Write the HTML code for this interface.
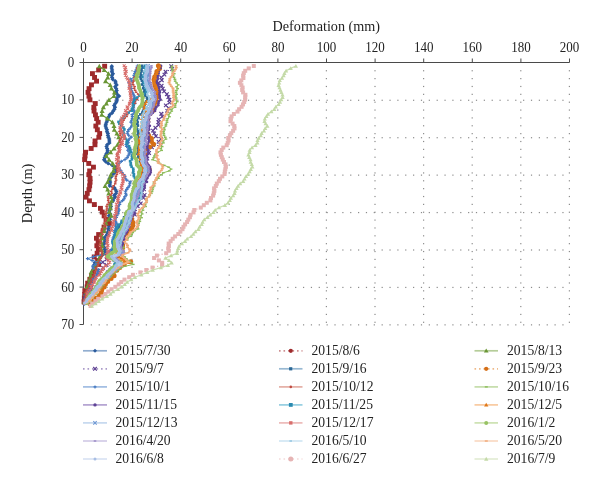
<!DOCTYPE html>
<html><head><meta charset="utf-8"><style>
html,body{margin:0;padding:0;background:#fff;}
svg{display:block;font-family:"Liberation Serif","DejaVu Serif",serif;}
</style></head><body>
<svg width="600" height="484" viewBox="0 0 600 484">
<rect width="600" height="484" fill="#fff"/>
<g fill="#8c8c8c"><rect x="131.40" y="70.16" width="1.2" height="1.2"/><rect x="131.40" y="78.02" width="1.2" height="1.2"/><rect x="131.40" y="85.88" width="1.2" height="1.2"/><rect x="131.40" y="93.74" width="1.2" height="1.2"/><rect x="131.40" y="101.60" width="1.2" height="1.2"/><rect x="131.40" y="109.46" width="1.2" height="1.2"/><rect x="131.40" y="117.32" width="1.2" height="1.2"/><rect x="131.40" y="125.18" width="1.2" height="1.2"/><rect x="131.40" y="133.04" width="1.2" height="1.2"/><rect x="131.40" y="140.90" width="1.2" height="1.2"/><rect x="131.40" y="148.76" width="1.2" height="1.2"/><rect x="131.40" y="156.62" width="1.2" height="1.2"/><rect x="131.40" y="164.48" width="1.2" height="1.2"/><rect x="131.40" y="172.34" width="1.2" height="1.2"/><rect x="131.40" y="180.20" width="1.2" height="1.2"/><rect x="131.40" y="188.06" width="1.2" height="1.2"/><rect x="131.40" y="195.92" width="1.2" height="1.2"/><rect x="131.40" y="203.78" width="1.2" height="1.2"/><rect x="131.40" y="211.64" width="1.2" height="1.2"/><rect x="131.40" y="219.50" width="1.2" height="1.2"/><rect x="131.40" y="227.36" width="1.2" height="1.2"/><rect x="131.40" y="235.22" width="1.2" height="1.2"/><rect x="131.40" y="243.08" width="1.2" height="1.2"/><rect x="131.40" y="250.94" width="1.2" height="1.2"/><rect x="131.40" y="258.80" width="1.2" height="1.2"/><rect x="131.40" y="266.66" width="1.2" height="1.2"/><rect x="131.40" y="274.52" width="1.2" height="1.2"/><rect x="131.40" y="282.38" width="1.2" height="1.2"/><rect x="131.40" y="290.24" width="1.2" height="1.2"/><rect x="131.40" y="298.10" width="1.2" height="1.2"/><rect x="131.40" y="305.96" width="1.2" height="1.2"/><rect x="131.40" y="313.82" width="1.2" height="1.2"/><rect x="131.40" y="321.68" width="1.2" height="1.2"/><rect x="180.00" y="70.16" width="1.2" height="1.2"/><rect x="180.00" y="78.02" width="1.2" height="1.2"/><rect x="180.00" y="85.88" width="1.2" height="1.2"/><rect x="180.00" y="93.74" width="1.2" height="1.2"/><rect x="180.00" y="101.60" width="1.2" height="1.2"/><rect x="180.00" y="109.46" width="1.2" height="1.2"/><rect x="180.00" y="117.32" width="1.2" height="1.2"/><rect x="180.00" y="125.18" width="1.2" height="1.2"/><rect x="180.00" y="133.04" width="1.2" height="1.2"/><rect x="180.00" y="140.90" width="1.2" height="1.2"/><rect x="180.00" y="148.76" width="1.2" height="1.2"/><rect x="180.00" y="156.62" width="1.2" height="1.2"/><rect x="180.00" y="164.48" width="1.2" height="1.2"/><rect x="180.00" y="172.34" width="1.2" height="1.2"/><rect x="180.00" y="180.20" width="1.2" height="1.2"/><rect x="180.00" y="188.06" width="1.2" height="1.2"/><rect x="180.00" y="195.92" width="1.2" height="1.2"/><rect x="180.00" y="203.78" width="1.2" height="1.2"/><rect x="180.00" y="211.64" width="1.2" height="1.2"/><rect x="180.00" y="219.50" width="1.2" height="1.2"/><rect x="180.00" y="227.36" width="1.2" height="1.2"/><rect x="180.00" y="235.22" width="1.2" height="1.2"/><rect x="180.00" y="243.08" width="1.2" height="1.2"/><rect x="180.00" y="250.94" width="1.2" height="1.2"/><rect x="180.00" y="258.80" width="1.2" height="1.2"/><rect x="180.00" y="266.66" width="1.2" height="1.2"/><rect x="180.00" y="274.52" width="1.2" height="1.2"/><rect x="180.00" y="282.38" width="1.2" height="1.2"/><rect x="180.00" y="290.24" width="1.2" height="1.2"/><rect x="180.00" y="298.10" width="1.2" height="1.2"/><rect x="180.00" y="305.96" width="1.2" height="1.2"/><rect x="180.00" y="313.82" width="1.2" height="1.2"/><rect x="180.00" y="321.68" width="1.2" height="1.2"/><rect x="228.60" y="70.16" width="1.2" height="1.2"/><rect x="228.60" y="78.02" width="1.2" height="1.2"/><rect x="228.60" y="85.88" width="1.2" height="1.2"/><rect x="228.60" y="93.74" width="1.2" height="1.2"/><rect x="228.60" y="101.60" width="1.2" height="1.2"/><rect x="228.60" y="109.46" width="1.2" height="1.2"/><rect x="228.60" y="117.32" width="1.2" height="1.2"/><rect x="228.60" y="125.18" width="1.2" height="1.2"/><rect x="228.60" y="133.04" width="1.2" height="1.2"/><rect x="228.60" y="140.90" width="1.2" height="1.2"/><rect x="228.60" y="148.76" width="1.2" height="1.2"/><rect x="228.60" y="156.62" width="1.2" height="1.2"/><rect x="228.60" y="164.48" width="1.2" height="1.2"/><rect x="228.60" y="172.34" width="1.2" height="1.2"/><rect x="228.60" y="180.20" width="1.2" height="1.2"/><rect x="228.60" y="188.06" width="1.2" height="1.2"/><rect x="228.60" y="195.92" width="1.2" height="1.2"/><rect x="228.60" y="203.78" width="1.2" height="1.2"/><rect x="228.60" y="211.64" width="1.2" height="1.2"/><rect x="228.60" y="219.50" width="1.2" height="1.2"/><rect x="228.60" y="227.36" width="1.2" height="1.2"/><rect x="228.60" y="235.22" width="1.2" height="1.2"/><rect x="228.60" y="243.08" width="1.2" height="1.2"/><rect x="228.60" y="250.94" width="1.2" height="1.2"/><rect x="228.60" y="258.80" width="1.2" height="1.2"/><rect x="228.60" y="266.66" width="1.2" height="1.2"/><rect x="228.60" y="274.52" width="1.2" height="1.2"/><rect x="228.60" y="282.38" width="1.2" height="1.2"/><rect x="228.60" y="290.24" width="1.2" height="1.2"/><rect x="228.60" y="298.10" width="1.2" height="1.2"/><rect x="228.60" y="305.96" width="1.2" height="1.2"/><rect x="228.60" y="313.82" width="1.2" height="1.2"/><rect x="228.60" y="321.68" width="1.2" height="1.2"/><rect x="277.20" y="70.16" width="1.2" height="1.2"/><rect x="277.20" y="78.02" width="1.2" height="1.2"/><rect x="277.20" y="85.88" width="1.2" height="1.2"/><rect x="277.20" y="93.74" width="1.2" height="1.2"/><rect x="277.20" y="101.60" width="1.2" height="1.2"/><rect x="277.20" y="109.46" width="1.2" height="1.2"/><rect x="277.20" y="117.32" width="1.2" height="1.2"/><rect x="277.20" y="125.18" width="1.2" height="1.2"/><rect x="277.20" y="133.04" width="1.2" height="1.2"/><rect x="277.20" y="140.90" width="1.2" height="1.2"/><rect x="277.20" y="148.76" width="1.2" height="1.2"/><rect x="277.20" y="156.62" width="1.2" height="1.2"/><rect x="277.20" y="164.48" width="1.2" height="1.2"/><rect x="277.20" y="172.34" width="1.2" height="1.2"/><rect x="277.20" y="180.20" width="1.2" height="1.2"/><rect x="277.20" y="188.06" width="1.2" height="1.2"/><rect x="277.20" y="195.92" width="1.2" height="1.2"/><rect x="277.20" y="203.78" width="1.2" height="1.2"/><rect x="277.20" y="211.64" width="1.2" height="1.2"/><rect x="277.20" y="219.50" width="1.2" height="1.2"/><rect x="277.20" y="227.36" width="1.2" height="1.2"/><rect x="277.20" y="235.22" width="1.2" height="1.2"/><rect x="277.20" y="243.08" width="1.2" height="1.2"/><rect x="277.20" y="250.94" width="1.2" height="1.2"/><rect x="277.20" y="258.80" width="1.2" height="1.2"/><rect x="277.20" y="266.66" width="1.2" height="1.2"/><rect x="277.20" y="274.52" width="1.2" height="1.2"/><rect x="277.20" y="282.38" width="1.2" height="1.2"/><rect x="277.20" y="290.24" width="1.2" height="1.2"/><rect x="277.20" y="298.10" width="1.2" height="1.2"/><rect x="277.20" y="305.96" width="1.2" height="1.2"/><rect x="277.20" y="313.82" width="1.2" height="1.2"/><rect x="277.20" y="321.68" width="1.2" height="1.2"/><rect x="325.80" y="70.16" width="1.2" height="1.2"/><rect x="325.80" y="78.02" width="1.2" height="1.2"/><rect x="325.80" y="85.88" width="1.2" height="1.2"/><rect x="325.80" y="93.74" width="1.2" height="1.2"/><rect x="325.80" y="101.60" width="1.2" height="1.2"/><rect x="325.80" y="109.46" width="1.2" height="1.2"/><rect x="325.80" y="117.32" width="1.2" height="1.2"/><rect x="325.80" y="125.18" width="1.2" height="1.2"/><rect x="325.80" y="133.04" width="1.2" height="1.2"/><rect x="325.80" y="140.90" width="1.2" height="1.2"/><rect x="325.80" y="148.76" width="1.2" height="1.2"/><rect x="325.80" y="156.62" width="1.2" height="1.2"/><rect x="325.80" y="164.48" width="1.2" height="1.2"/><rect x="325.80" y="172.34" width="1.2" height="1.2"/><rect x="325.80" y="180.20" width="1.2" height="1.2"/><rect x="325.80" y="188.06" width="1.2" height="1.2"/><rect x="325.80" y="195.92" width="1.2" height="1.2"/><rect x="325.80" y="203.78" width="1.2" height="1.2"/><rect x="325.80" y="211.64" width="1.2" height="1.2"/><rect x="325.80" y="219.50" width="1.2" height="1.2"/><rect x="325.80" y="227.36" width="1.2" height="1.2"/><rect x="325.80" y="235.22" width="1.2" height="1.2"/><rect x="325.80" y="243.08" width="1.2" height="1.2"/><rect x="325.80" y="250.94" width="1.2" height="1.2"/><rect x="325.80" y="258.80" width="1.2" height="1.2"/><rect x="325.80" y="266.66" width="1.2" height="1.2"/><rect x="325.80" y="274.52" width="1.2" height="1.2"/><rect x="325.80" y="282.38" width="1.2" height="1.2"/><rect x="325.80" y="290.24" width="1.2" height="1.2"/><rect x="325.80" y="298.10" width="1.2" height="1.2"/><rect x="325.80" y="305.96" width="1.2" height="1.2"/><rect x="325.80" y="313.82" width="1.2" height="1.2"/><rect x="325.80" y="321.68" width="1.2" height="1.2"/><rect x="374.40" y="70.16" width="1.2" height="1.2"/><rect x="374.40" y="78.02" width="1.2" height="1.2"/><rect x="374.40" y="85.88" width="1.2" height="1.2"/><rect x="374.40" y="93.74" width="1.2" height="1.2"/><rect x="374.40" y="101.60" width="1.2" height="1.2"/><rect x="374.40" y="109.46" width="1.2" height="1.2"/><rect x="374.40" y="117.32" width="1.2" height="1.2"/><rect x="374.40" y="125.18" width="1.2" height="1.2"/><rect x="374.40" y="133.04" width="1.2" height="1.2"/><rect x="374.40" y="140.90" width="1.2" height="1.2"/><rect x="374.40" y="148.76" width="1.2" height="1.2"/><rect x="374.40" y="156.62" width="1.2" height="1.2"/><rect x="374.40" y="164.48" width="1.2" height="1.2"/><rect x="374.40" y="172.34" width="1.2" height="1.2"/><rect x="374.40" y="180.20" width="1.2" height="1.2"/><rect x="374.40" y="188.06" width="1.2" height="1.2"/><rect x="374.40" y="195.92" width="1.2" height="1.2"/><rect x="374.40" y="203.78" width="1.2" height="1.2"/><rect x="374.40" y="211.64" width="1.2" height="1.2"/><rect x="374.40" y="219.50" width="1.2" height="1.2"/><rect x="374.40" y="227.36" width="1.2" height="1.2"/><rect x="374.40" y="235.22" width="1.2" height="1.2"/><rect x="374.40" y="243.08" width="1.2" height="1.2"/><rect x="374.40" y="250.94" width="1.2" height="1.2"/><rect x="374.40" y="258.80" width="1.2" height="1.2"/><rect x="374.40" y="266.66" width="1.2" height="1.2"/><rect x="374.40" y="274.52" width="1.2" height="1.2"/><rect x="374.40" y="282.38" width="1.2" height="1.2"/><rect x="374.40" y="290.24" width="1.2" height="1.2"/><rect x="374.40" y="298.10" width="1.2" height="1.2"/><rect x="374.40" y="305.96" width="1.2" height="1.2"/><rect x="374.40" y="313.82" width="1.2" height="1.2"/><rect x="374.40" y="321.68" width="1.2" height="1.2"/><rect x="423.00" y="70.16" width="1.2" height="1.2"/><rect x="423.00" y="78.02" width="1.2" height="1.2"/><rect x="423.00" y="85.88" width="1.2" height="1.2"/><rect x="423.00" y="93.74" width="1.2" height="1.2"/><rect x="423.00" y="101.60" width="1.2" height="1.2"/><rect x="423.00" y="109.46" width="1.2" height="1.2"/><rect x="423.00" y="117.32" width="1.2" height="1.2"/><rect x="423.00" y="125.18" width="1.2" height="1.2"/><rect x="423.00" y="133.04" width="1.2" height="1.2"/><rect x="423.00" y="140.90" width="1.2" height="1.2"/><rect x="423.00" y="148.76" width="1.2" height="1.2"/><rect x="423.00" y="156.62" width="1.2" height="1.2"/><rect x="423.00" y="164.48" width="1.2" height="1.2"/><rect x="423.00" y="172.34" width="1.2" height="1.2"/><rect x="423.00" y="180.20" width="1.2" height="1.2"/><rect x="423.00" y="188.06" width="1.2" height="1.2"/><rect x="423.00" y="195.92" width="1.2" height="1.2"/><rect x="423.00" y="203.78" width="1.2" height="1.2"/><rect x="423.00" y="211.64" width="1.2" height="1.2"/><rect x="423.00" y="219.50" width="1.2" height="1.2"/><rect x="423.00" y="227.36" width="1.2" height="1.2"/><rect x="423.00" y="235.22" width="1.2" height="1.2"/><rect x="423.00" y="243.08" width="1.2" height="1.2"/><rect x="423.00" y="250.94" width="1.2" height="1.2"/><rect x="423.00" y="258.80" width="1.2" height="1.2"/><rect x="423.00" y="266.66" width="1.2" height="1.2"/><rect x="423.00" y="274.52" width="1.2" height="1.2"/><rect x="423.00" y="282.38" width="1.2" height="1.2"/><rect x="423.00" y="290.24" width="1.2" height="1.2"/><rect x="423.00" y="298.10" width="1.2" height="1.2"/><rect x="423.00" y="305.96" width="1.2" height="1.2"/><rect x="423.00" y="313.82" width="1.2" height="1.2"/><rect x="423.00" y="321.68" width="1.2" height="1.2"/><rect x="471.60" y="70.16" width="1.2" height="1.2"/><rect x="471.60" y="78.02" width="1.2" height="1.2"/><rect x="471.60" y="85.88" width="1.2" height="1.2"/><rect x="471.60" y="93.74" width="1.2" height="1.2"/><rect x="471.60" y="101.60" width="1.2" height="1.2"/><rect x="471.60" y="109.46" width="1.2" height="1.2"/><rect x="471.60" y="117.32" width="1.2" height="1.2"/><rect x="471.60" y="125.18" width="1.2" height="1.2"/><rect x="471.60" y="133.04" width="1.2" height="1.2"/><rect x="471.60" y="140.90" width="1.2" height="1.2"/><rect x="471.60" y="148.76" width="1.2" height="1.2"/><rect x="471.60" y="156.62" width="1.2" height="1.2"/><rect x="471.60" y="164.48" width="1.2" height="1.2"/><rect x="471.60" y="172.34" width="1.2" height="1.2"/><rect x="471.60" y="180.20" width="1.2" height="1.2"/><rect x="471.60" y="188.06" width="1.2" height="1.2"/><rect x="471.60" y="195.92" width="1.2" height="1.2"/><rect x="471.60" y="203.78" width="1.2" height="1.2"/><rect x="471.60" y="211.64" width="1.2" height="1.2"/><rect x="471.60" y="219.50" width="1.2" height="1.2"/><rect x="471.60" y="227.36" width="1.2" height="1.2"/><rect x="471.60" y="235.22" width="1.2" height="1.2"/><rect x="471.60" y="243.08" width="1.2" height="1.2"/><rect x="471.60" y="250.94" width="1.2" height="1.2"/><rect x="471.60" y="258.80" width="1.2" height="1.2"/><rect x="471.60" y="266.66" width="1.2" height="1.2"/><rect x="471.60" y="274.52" width="1.2" height="1.2"/><rect x="471.60" y="282.38" width="1.2" height="1.2"/><rect x="471.60" y="290.24" width="1.2" height="1.2"/><rect x="471.60" y="298.10" width="1.2" height="1.2"/><rect x="471.60" y="305.96" width="1.2" height="1.2"/><rect x="471.60" y="313.82" width="1.2" height="1.2"/><rect x="471.60" y="321.68" width="1.2" height="1.2"/><rect x="520.20" y="70.16" width="1.2" height="1.2"/><rect x="520.20" y="78.02" width="1.2" height="1.2"/><rect x="520.20" y="85.88" width="1.2" height="1.2"/><rect x="520.20" y="93.74" width="1.2" height="1.2"/><rect x="520.20" y="101.60" width="1.2" height="1.2"/><rect x="520.20" y="109.46" width="1.2" height="1.2"/><rect x="520.20" y="117.32" width="1.2" height="1.2"/><rect x="520.20" y="125.18" width="1.2" height="1.2"/><rect x="520.20" y="133.04" width="1.2" height="1.2"/><rect x="520.20" y="140.90" width="1.2" height="1.2"/><rect x="520.20" y="148.76" width="1.2" height="1.2"/><rect x="520.20" y="156.62" width="1.2" height="1.2"/><rect x="520.20" y="164.48" width="1.2" height="1.2"/><rect x="520.20" y="172.34" width="1.2" height="1.2"/><rect x="520.20" y="180.20" width="1.2" height="1.2"/><rect x="520.20" y="188.06" width="1.2" height="1.2"/><rect x="520.20" y="195.92" width="1.2" height="1.2"/><rect x="520.20" y="203.78" width="1.2" height="1.2"/><rect x="520.20" y="211.64" width="1.2" height="1.2"/><rect x="520.20" y="219.50" width="1.2" height="1.2"/><rect x="520.20" y="227.36" width="1.2" height="1.2"/><rect x="520.20" y="235.22" width="1.2" height="1.2"/><rect x="520.20" y="243.08" width="1.2" height="1.2"/><rect x="520.20" y="250.94" width="1.2" height="1.2"/><rect x="520.20" y="258.80" width="1.2" height="1.2"/><rect x="520.20" y="266.66" width="1.2" height="1.2"/><rect x="520.20" y="274.52" width="1.2" height="1.2"/><rect x="520.20" y="282.38" width="1.2" height="1.2"/><rect x="520.20" y="290.24" width="1.2" height="1.2"/><rect x="520.20" y="298.10" width="1.2" height="1.2"/><rect x="520.20" y="305.96" width="1.2" height="1.2"/><rect x="520.20" y="313.82" width="1.2" height="1.2"/><rect x="520.20" y="321.68" width="1.2" height="1.2"/><rect x="568.80" y="70.16" width="1.2" height="1.2"/><rect x="568.80" y="78.02" width="1.2" height="1.2"/><rect x="568.80" y="85.88" width="1.2" height="1.2"/><rect x="568.80" y="93.74" width="1.2" height="1.2"/><rect x="568.80" y="101.60" width="1.2" height="1.2"/><rect x="568.80" y="109.46" width="1.2" height="1.2"/><rect x="568.80" y="117.32" width="1.2" height="1.2"/><rect x="568.80" y="125.18" width="1.2" height="1.2"/><rect x="568.80" y="133.04" width="1.2" height="1.2"/><rect x="568.80" y="140.90" width="1.2" height="1.2"/><rect x="568.80" y="148.76" width="1.2" height="1.2"/><rect x="568.80" y="156.62" width="1.2" height="1.2"/><rect x="568.80" y="164.48" width="1.2" height="1.2"/><rect x="568.80" y="172.34" width="1.2" height="1.2"/><rect x="568.80" y="180.20" width="1.2" height="1.2"/><rect x="568.80" y="188.06" width="1.2" height="1.2"/><rect x="568.80" y="195.92" width="1.2" height="1.2"/><rect x="568.80" y="203.78" width="1.2" height="1.2"/><rect x="568.80" y="211.64" width="1.2" height="1.2"/><rect x="568.80" y="219.50" width="1.2" height="1.2"/><rect x="568.80" y="227.36" width="1.2" height="1.2"/><rect x="568.80" y="235.22" width="1.2" height="1.2"/><rect x="568.80" y="243.08" width="1.2" height="1.2"/><rect x="568.80" y="250.94" width="1.2" height="1.2"/><rect x="568.80" y="258.80" width="1.2" height="1.2"/><rect x="568.80" y="266.66" width="1.2" height="1.2"/><rect x="568.80" y="274.52" width="1.2" height="1.2"/><rect x="568.80" y="282.38" width="1.2" height="1.2"/><rect x="568.80" y="290.24" width="1.2" height="1.2"/><rect x="568.80" y="298.10" width="1.2" height="1.2"/><rect x="568.80" y="305.96" width="1.2" height="1.2"/><rect x="568.80" y="313.82" width="1.2" height="1.2"/><rect x="568.80" y="321.68" width="1.2" height="1.2"/><rect x="90.76" y="99.68" width="1.2" height="1.2"/><rect x="98.62" y="99.68" width="1.2" height="1.2"/><rect x="106.48" y="99.68" width="1.2" height="1.2"/><rect x="114.34" y="99.68" width="1.2" height="1.2"/><rect x="122.20" y="99.68" width="1.2" height="1.2"/><rect x="130.06" y="99.68" width="1.2" height="1.2"/><rect x="137.92" y="99.68" width="1.2" height="1.2"/><rect x="145.78" y="99.68" width="1.2" height="1.2"/><rect x="153.64" y="99.68" width="1.2" height="1.2"/><rect x="161.50" y="99.68" width="1.2" height="1.2"/><rect x="169.36" y="99.68" width="1.2" height="1.2"/><rect x="177.22" y="99.68" width="1.2" height="1.2"/><rect x="185.08" y="99.68" width="1.2" height="1.2"/><rect x="192.94" y="99.68" width="1.2" height="1.2"/><rect x="200.80" y="99.68" width="1.2" height="1.2"/><rect x="208.66" y="99.68" width="1.2" height="1.2"/><rect x="216.52" y="99.68" width="1.2" height="1.2"/><rect x="224.38" y="99.68" width="1.2" height="1.2"/><rect x="232.24" y="99.68" width="1.2" height="1.2"/><rect x="240.10" y="99.68" width="1.2" height="1.2"/><rect x="247.96" y="99.68" width="1.2" height="1.2"/><rect x="255.82" y="99.68" width="1.2" height="1.2"/><rect x="263.68" y="99.68" width="1.2" height="1.2"/><rect x="271.54" y="99.68" width="1.2" height="1.2"/><rect x="279.40" y="99.68" width="1.2" height="1.2"/><rect x="287.26" y="99.68" width="1.2" height="1.2"/><rect x="295.12" y="99.68" width="1.2" height="1.2"/><rect x="302.98" y="99.68" width="1.2" height="1.2"/><rect x="310.84" y="99.68" width="1.2" height="1.2"/><rect x="318.70" y="99.68" width="1.2" height="1.2"/><rect x="326.56" y="99.68" width="1.2" height="1.2"/><rect x="334.42" y="99.68" width="1.2" height="1.2"/><rect x="342.28" y="99.68" width="1.2" height="1.2"/><rect x="350.14" y="99.68" width="1.2" height="1.2"/><rect x="358.00" y="99.68" width="1.2" height="1.2"/><rect x="365.86" y="99.68" width="1.2" height="1.2"/><rect x="373.72" y="99.68" width="1.2" height="1.2"/><rect x="381.58" y="99.68" width="1.2" height="1.2"/><rect x="389.44" y="99.68" width="1.2" height="1.2"/><rect x="397.30" y="99.68" width="1.2" height="1.2"/><rect x="405.16" y="99.68" width="1.2" height="1.2"/><rect x="413.02" y="99.68" width="1.2" height="1.2"/><rect x="420.88" y="99.68" width="1.2" height="1.2"/><rect x="428.74" y="99.68" width="1.2" height="1.2"/><rect x="436.60" y="99.68" width="1.2" height="1.2"/><rect x="444.46" y="99.68" width="1.2" height="1.2"/><rect x="452.32" y="99.68" width="1.2" height="1.2"/><rect x="460.18" y="99.68" width="1.2" height="1.2"/><rect x="468.04" y="99.68" width="1.2" height="1.2"/><rect x="475.90" y="99.68" width="1.2" height="1.2"/><rect x="483.76" y="99.68" width="1.2" height="1.2"/><rect x="491.62" y="99.68" width="1.2" height="1.2"/><rect x="499.48" y="99.68" width="1.2" height="1.2"/><rect x="507.34" y="99.68" width="1.2" height="1.2"/><rect x="515.20" y="99.68" width="1.2" height="1.2"/><rect x="523.06" y="99.68" width="1.2" height="1.2"/><rect x="530.92" y="99.68" width="1.2" height="1.2"/><rect x="538.78" y="99.68" width="1.2" height="1.2"/><rect x="546.64" y="99.68" width="1.2" height="1.2"/><rect x="554.50" y="99.68" width="1.2" height="1.2"/><rect x="562.36" y="99.68" width="1.2" height="1.2"/><rect x="90.76" y="137.11" width="1.2" height="1.2"/><rect x="98.62" y="137.11" width="1.2" height="1.2"/><rect x="106.48" y="137.11" width="1.2" height="1.2"/><rect x="114.34" y="137.11" width="1.2" height="1.2"/><rect x="122.20" y="137.11" width="1.2" height="1.2"/><rect x="130.06" y="137.11" width="1.2" height="1.2"/><rect x="137.92" y="137.11" width="1.2" height="1.2"/><rect x="145.78" y="137.11" width="1.2" height="1.2"/><rect x="153.64" y="137.11" width="1.2" height="1.2"/><rect x="161.50" y="137.11" width="1.2" height="1.2"/><rect x="169.36" y="137.11" width="1.2" height="1.2"/><rect x="177.22" y="137.11" width="1.2" height="1.2"/><rect x="185.08" y="137.11" width="1.2" height="1.2"/><rect x="192.94" y="137.11" width="1.2" height="1.2"/><rect x="200.80" y="137.11" width="1.2" height="1.2"/><rect x="208.66" y="137.11" width="1.2" height="1.2"/><rect x="216.52" y="137.11" width="1.2" height="1.2"/><rect x="224.38" y="137.11" width="1.2" height="1.2"/><rect x="232.24" y="137.11" width="1.2" height="1.2"/><rect x="240.10" y="137.11" width="1.2" height="1.2"/><rect x="247.96" y="137.11" width="1.2" height="1.2"/><rect x="255.82" y="137.11" width="1.2" height="1.2"/><rect x="263.68" y="137.11" width="1.2" height="1.2"/><rect x="271.54" y="137.11" width="1.2" height="1.2"/><rect x="279.40" y="137.11" width="1.2" height="1.2"/><rect x="287.26" y="137.11" width="1.2" height="1.2"/><rect x="295.12" y="137.11" width="1.2" height="1.2"/><rect x="302.98" y="137.11" width="1.2" height="1.2"/><rect x="310.84" y="137.11" width="1.2" height="1.2"/><rect x="318.70" y="137.11" width="1.2" height="1.2"/><rect x="326.56" y="137.11" width="1.2" height="1.2"/><rect x="334.42" y="137.11" width="1.2" height="1.2"/><rect x="342.28" y="137.11" width="1.2" height="1.2"/><rect x="350.14" y="137.11" width="1.2" height="1.2"/><rect x="358.00" y="137.11" width="1.2" height="1.2"/><rect x="365.86" y="137.11" width="1.2" height="1.2"/><rect x="373.72" y="137.11" width="1.2" height="1.2"/><rect x="381.58" y="137.11" width="1.2" height="1.2"/><rect x="389.44" y="137.11" width="1.2" height="1.2"/><rect x="397.30" y="137.11" width="1.2" height="1.2"/><rect x="405.16" y="137.11" width="1.2" height="1.2"/><rect x="413.02" y="137.11" width="1.2" height="1.2"/><rect x="420.88" y="137.11" width="1.2" height="1.2"/><rect x="428.74" y="137.11" width="1.2" height="1.2"/><rect x="436.60" y="137.11" width="1.2" height="1.2"/><rect x="444.46" y="137.11" width="1.2" height="1.2"/><rect x="452.32" y="137.11" width="1.2" height="1.2"/><rect x="460.18" y="137.11" width="1.2" height="1.2"/><rect x="468.04" y="137.11" width="1.2" height="1.2"/><rect x="475.90" y="137.11" width="1.2" height="1.2"/><rect x="483.76" y="137.11" width="1.2" height="1.2"/><rect x="491.62" y="137.11" width="1.2" height="1.2"/><rect x="499.48" y="137.11" width="1.2" height="1.2"/><rect x="507.34" y="137.11" width="1.2" height="1.2"/><rect x="515.20" y="137.11" width="1.2" height="1.2"/><rect x="523.06" y="137.11" width="1.2" height="1.2"/><rect x="530.92" y="137.11" width="1.2" height="1.2"/><rect x="538.78" y="137.11" width="1.2" height="1.2"/><rect x="546.64" y="137.11" width="1.2" height="1.2"/><rect x="554.50" y="137.11" width="1.2" height="1.2"/><rect x="562.36" y="137.11" width="1.2" height="1.2"/><rect x="90.76" y="174.54" width="1.2" height="1.2"/><rect x="98.62" y="174.54" width="1.2" height="1.2"/><rect x="106.48" y="174.54" width="1.2" height="1.2"/><rect x="114.34" y="174.54" width="1.2" height="1.2"/><rect x="122.20" y="174.54" width="1.2" height="1.2"/><rect x="130.06" y="174.54" width="1.2" height="1.2"/><rect x="137.92" y="174.54" width="1.2" height="1.2"/><rect x="145.78" y="174.54" width="1.2" height="1.2"/><rect x="153.64" y="174.54" width="1.2" height="1.2"/><rect x="161.50" y="174.54" width="1.2" height="1.2"/><rect x="169.36" y="174.54" width="1.2" height="1.2"/><rect x="177.22" y="174.54" width="1.2" height="1.2"/><rect x="185.08" y="174.54" width="1.2" height="1.2"/><rect x="192.94" y="174.54" width="1.2" height="1.2"/><rect x="200.80" y="174.54" width="1.2" height="1.2"/><rect x="208.66" y="174.54" width="1.2" height="1.2"/><rect x="216.52" y="174.54" width="1.2" height="1.2"/><rect x="224.38" y="174.54" width="1.2" height="1.2"/><rect x="232.24" y="174.54" width="1.2" height="1.2"/><rect x="240.10" y="174.54" width="1.2" height="1.2"/><rect x="247.96" y="174.54" width="1.2" height="1.2"/><rect x="255.82" y="174.54" width="1.2" height="1.2"/><rect x="263.68" y="174.54" width="1.2" height="1.2"/><rect x="271.54" y="174.54" width="1.2" height="1.2"/><rect x="279.40" y="174.54" width="1.2" height="1.2"/><rect x="287.26" y="174.54" width="1.2" height="1.2"/><rect x="295.12" y="174.54" width="1.2" height="1.2"/><rect x="302.98" y="174.54" width="1.2" height="1.2"/><rect x="310.84" y="174.54" width="1.2" height="1.2"/><rect x="318.70" y="174.54" width="1.2" height="1.2"/><rect x="326.56" y="174.54" width="1.2" height="1.2"/><rect x="334.42" y="174.54" width="1.2" height="1.2"/><rect x="342.28" y="174.54" width="1.2" height="1.2"/><rect x="350.14" y="174.54" width="1.2" height="1.2"/><rect x="358.00" y="174.54" width="1.2" height="1.2"/><rect x="365.86" y="174.54" width="1.2" height="1.2"/><rect x="373.72" y="174.54" width="1.2" height="1.2"/><rect x="381.58" y="174.54" width="1.2" height="1.2"/><rect x="389.44" y="174.54" width="1.2" height="1.2"/><rect x="397.30" y="174.54" width="1.2" height="1.2"/><rect x="405.16" y="174.54" width="1.2" height="1.2"/><rect x="413.02" y="174.54" width="1.2" height="1.2"/><rect x="420.88" y="174.54" width="1.2" height="1.2"/><rect x="428.74" y="174.54" width="1.2" height="1.2"/><rect x="436.60" y="174.54" width="1.2" height="1.2"/><rect x="444.46" y="174.54" width="1.2" height="1.2"/><rect x="452.32" y="174.54" width="1.2" height="1.2"/><rect x="460.18" y="174.54" width="1.2" height="1.2"/><rect x="468.04" y="174.54" width="1.2" height="1.2"/><rect x="475.90" y="174.54" width="1.2" height="1.2"/><rect x="483.76" y="174.54" width="1.2" height="1.2"/><rect x="491.62" y="174.54" width="1.2" height="1.2"/><rect x="499.48" y="174.54" width="1.2" height="1.2"/><rect x="507.34" y="174.54" width="1.2" height="1.2"/><rect x="515.20" y="174.54" width="1.2" height="1.2"/><rect x="523.06" y="174.54" width="1.2" height="1.2"/><rect x="530.92" y="174.54" width="1.2" height="1.2"/><rect x="538.78" y="174.54" width="1.2" height="1.2"/><rect x="546.64" y="174.54" width="1.2" height="1.2"/><rect x="554.50" y="174.54" width="1.2" height="1.2"/><rect x="562.36" y="174.54" width="1.2" height="1.2"/><rect x="90.76" y="211.97" width="1.2" height="1.2"/><rect x="98.62" y="211.97" width="1.2" height="1.2"/><rect x="106.48" y="211.97" width="1.2" height="1.2"/><rect x="114.34" y="211.97" width="1.2" height="1.2"/><rect x="122.20" y="211.97" width="1.2" height="1.2"/><rect x="130.06" y="211.97" width="1.2" height="1.2"/><rect x="137.92" y="211.97" width="1.2" height="1.2"/><rect x="145.78" y="211.97" width="1.2" height="1.2"/><rect x="153.64" y="211.97" width="1.2" height="1.2"/><rect x="161.50" y="211.97" width="1.2" height="1.2"/><rect x="169.36" y="211.97" width="1.2" height="1.2"/><rect x="177.22" y="211.97" width="1.2" height="1.2"/><rect x="185.08" y="211.97" width="1.2" height="1.2"/><rect x="192.94" y="211.97" width="1.2" height="1.2"/><rect x="200.80" y="211.97" width="1.2" height="1.2"/><rect x="208.66" y="211.97" width="1.2" height="1.2"/><rect x="216.52" y="211.97" width="1.2" height="1.2"/><rect x="224.38" y="211.97" width="1.2" height="1.2"/><rect x="232.24" y="211.97" width="1.2" height="1.2"/><rect x="240.10" y="211.97" width="1.2" height="1.2"/><rect x="247.96" y="211.97" width="1.2" height="1.2"/><rect x="255.82" y="211.97" width="1.2" height="1.2"/><rect x="263.68" y="211.97" width="1.2" height="1.2"/><rect x="271.54" y="211.97" width="1.2" height="1.2"/><rect x="279.40" y="211.97" width="1.2" height="1.2"/><rect x="287.26" y="211.97" width="1.2" height="1.2"/><rect x="295.12" y="211.97" width="1.2" height="1.2"/><rect x="302.98" y="211.97" width="1.2" height="1.2"/><rect x="310.84" y="211.97" width="1.2" height="1.2"/><rect x="318.70" y="211.97" width="1.2" height="1.2"/><rect x="326.56" y="211.97" width="1.2" height="1.2"/><rect x="334.42" y="211.97" width="1.2" height="1.2"/><rect x="342.28" y="211.97" width="1.2" height="1.2"/><rect x="350.14" y="211.97" width="1.2" height="1.2"/><rect x="358.00" y="211.97" width="1.2" height="1.2"/><rect x="365.86" y="211.97" width="1.2" height="1.2"/><rect x="373.72" y="211.97" width="1.2" height="1.2"/><rect x="381.58" y="211.97" width="1.2" height="1.2"/><rect x="389.44" y="211.97" width="1.2" height="1.2"/><rect x="397.30" y="211.97" width="1.2" height="1.2"/><rect x="405.16" y="211.97" width="1.2" height="1.2"/><rect x="413.02" y="211.97" width="1.2" height="1.2"/><rect x="420.88" y="211.97" width="1.2" height="1.2"/><rect x="428.74" y="211.97" width="1.2" height="1.2"/><rect x="436.60" y="211.97" width="1.2" height="1.2"/><rect x="444.46" y="211.97" width="1.2" height="1.2"/><rect x="452.32" y="211.97" width="1.2" height="1.2"/><rect x="460.18" y="211.97" width="1.2" height="1.2"/><rect x="468.04" y="211.97" width="1.2" height="1.2"/><rect x="475.90" y="211.97" width="1.2" height="1.2"/><rect x="483.76" y="211.97" width="1.2" height="1.2"/><rect x="491.62" y="211.97" width="1.2" height="1.2"/><rect x="499.48" y="211.97" width="1.2" height="1.2"/><rect x="507.34" y="211.97" width="1.2" height="1.2"/><rect x="515.20" y="211.97" width="1.2" height="1.2"/><rect x="523.06" y="211.97" width="1.2" height="1.2"/><rect x="530.92" y="211.97" width="1.2" height="1.2"/><rect x="538.78" y="211.97" width="1.2" height="1.2"/><rect x="546.64" y="211.97" width="1.2" height="1.2"/><rect x="554.50" y="211.97" width="1.2" height="1.2"/><rect x="562.36" y="211.97" width="1.2" height="1.2"/><rect x="90.76" y="249.40" width="1.2" height="1.2"/><rect x="98.62" y="249.40" width="1.2" height="1.2"/><rect x="106.48" y="249.40" width="1.2" height="1.2"/><rect x="114.34" y="249.40" width="1.2" height="1.2"/><rect x="122.20" y="249.40" width="1.2" height="1.2"/><rect x="130.06" y="249.40" width="1.2" height="1.2"/><rect x="137.92" y="249.40" width="1.2" height="1.2"/><rect x="145.78" y="249.40" width="1.2" height="1.2"/><rect x="153.64" y="249.40" width="1.2" height="1.2"/><rect x="161.50" y="249.40" width="1.2" height="1.2"/><rect x="169.36" y="249.40" width="1.2" height="1.2"/><rect x="177.22" y="249.40" width="1.2" height="1.2"/><rect x="185.08" y="249.40" width="1.2" height="1.2"/><rect x="192.94" y="249.40" width="1.2" height="1.2"/><rect x="200.80" y="249.40" width="1.2" height="1.2"/><rect x="208.66" y="249.40" width="1.2" height="1.2"/><rect x="216.52" y="249.40" width="1.2" height="1.2"/><rect x="224.38" y="249.40" width="1.2" height="1.2"/><rect x="232.24" y="249.40" width="1.2" height="1.2"/><rect x="240.10" y="249.40" width="1.2" height="1.2"/><rect x="247.96" y="249.40" width="1.2" height="1.2"/><rect x="255.82" y="249.40" width="1.2" height="1.2"/><rect x="263.68" y="249.40" width="1.2" height="1.2"/><rect x="271.54" y="249.40" width="1.2" height="1.2"/><rect x="279.40" y="249.40" width="1.2" height="1.2"/><rect x="287.26" y="249.40" width="1.2" height="1.2"/><rect x="295.12" y="249.40" width="1.2" height="1.2"/><rect x="302.98" y="249.40" width="1.2" height="1.2"/><rect x="310.84" y="249.40" width="1.2" height="1.2"/><rect x="318.70" y="249.40" width="1.2" height="1.2"/><rect x="326.56" y="249.40" width="1.2" height="1.2"/><rect x="334.42" y="249.40" width="1.2" height="1.2"/><rect x="342.28" y="249.40" width="1.2" height="1.2"/><rect x="350.14" y="249.40" width="1.2" height="1.2"/><rect x="358.00" y="249.40" width="1.2" height="1.2"/><rect x="365.86" y="249.40" width="1.2" height="1.2"/><rect x="373.72" y="249.40" width="1.2" height="1.2"/><rect x="381.58" y="249.40" width="1.2" height="1.2"/><rect x="389.44" y="249.40" width="1.2" height="1.2"/><rect x="397.30" y="249.40" width="1.2" height="1.2"/><rect x="405.16" y="249.40" width="1.2" height="1.2"/><rect x="413.02" y="249.40" width="1.2" height="1.2"/><rect x="420.88" y="249.40" width="1.2" height="1.2"/><rect x="428.74" y="249.40" width="1.2" height="1.2"/><rect x="436.60" y="249.40" width="1.2" height="1.2"/><rect x="444.46" y="249.40" width="1.2" height="1.2"/><rect x="452.32" y="249.40" width="1.2" height="1.2"/><rect x="460.18" y="249.40" width="1.2" height="1.2"/><rect x="468.04" y="249.40" width="1.2" height="1.2"/><rect x="475.90" y="249.40" width="1.2" height="1.2"/><rect x="483.76" y="249.40" width="1.2" height="1.2"/><rect x="491.62" y="249.40" width="1.2" height="1.2"/><rect x="499.48" y="249.40" width="1.2" height="1.2"/><rect x="507.34" y="249.40" width="1.2" height="1.2"/><rect x="515.20" y="249.40" width="1.2" height="1.2"/><rect x="523.06" y="249.40" width="1.2" height="1.2"/><rect x="530.92" y="249.40" width="1.2" height="1.2"/><rect x="538.78" y="249.40" width="1.2" height="1.2"/><rect x="546.64" y="249.40" width="1.2" height="1.2"/><rect x="554.50" y="249.40" width="1.2" height="1.2"/><rect x="562.36" y="249.40" width="1.2" height="1.2"/><rect x="90.76" y="286.83" width="1.2" height="1.2"/><rect x="98.62" y="286.83" width="1.2" height="1.2"/><rect x="106.48" y="286.83" width="1.2" height="1.2"/><rect x="114.34" y="286.83" width="1.2" height="1.2"/><rect x="122.20" y="286.83" width="1.2" height="1.2"/><rect x="130.06" y="286.83" width="1.2" height="1.2"/><rect x="137.92" y="286.83" width="1.2" height="1.2"/><rect x="145.78" y="286.83" width="1.2" height="1.2"/><rect x="153.64" y="286.83" width="1.2" height="1.2"/><rect x="161.50" y="286.83" width="1.2" height="1.2"/><rect x="169.36" y="286.83" width="1.2" height="1.2"/><rect x="177.22" y="286.83" width="1.2" height="1.2"/><rect x="185.08" y="286.83" width="1.2" height="1.2"/><rect x="192.94" y="286.83" width="1.2" height="1.2"/><rect x="200.80" y="286.83" width="1.2" height="1.2"/><rect x="208.66" y="286.83" width="1.2" height="1.2"/><rect x="216.52" y="286.83" width="1.2" height="1.2"/><rect x="224.38" y="286.83" width="1.2" height="1.2"/><rect x="232.24" y="286.83" width="1.2" height="1.2"/><rect x="240.10" y="286.83" width="1.2" height="1.2"/><rect x="247.96" y="286.83" width="1.2" height="1.2"/><rect x="255.82" y="286.83" width="1.2" height="1.2"/><rect x="263.68" y="286.83" width="1.2" height="1.2"/><rect x="271.54" y="286.83" width="1.2" height="1.2"/><rect x="279.40" y="286.83" width="1.2" height="1.2"/><rect x="287.26" y="286.83" width="1.2" height="1.2"/><rect x="295.12" y="286.83" width="1.2" height="1.2"/><rect x="302.98" y="286.83" width="1.2" height="1.2"/><rect x="310.84" y="286.83" width="1.2" height="1.2"/><rect x="318.70" y="286.83" width="1.2" height="1.2"/><rect x="326.56" y="286.83" width="1.2" height="1.2"/><rect x="334.42" y="286.83" width="1.2" height="1.2"/><rect x="342.28" y="286.83" width="1.2" height="1.2"/><rect x="350.14" y="286.83" width="1.2" height="1.2"/><rect x="358.00" y="286.83" width="1.2" height="1.2"/><rect x="365.86" y="286.83" width="1.2" height="1.2"/><rect x="373.72" y="286.83" width="1.2" height="1.2"/><rect x="381.58" y="286.83" width="1.2" height="1.2"/><rect x="389.44" y="286.83" width="1.2" height="1.2"/><rect x="397.30" y="286.83" width="1.2" height="1.2"/><rect x="405.16" y="286.83" width="1.2" height="1.2"/><rect x="413.02" y="286.83" width="1.2" height="1.2"/><rect x="420.88" y="286.83" width="1.2" height="1.2"/><rect x="428.74" y="286.83" width="1.2" height="1.2"/><rect x="436.60" y="286.83" width="1.2" height="1.2"/><rect x="444.46" y="286.83" width="1.2" height="1.2"/><rect x="452.32" y="286.83" width="1.2" height="1.2"/><rect x="460.18" y="286.83" width="1.2" height="1.2"/><rect x="468.04" y="286.83" width="1.2" height="1.2"/><rect x="475.90" y="286.83" width="1.2" height="1.2"/><rect x="483.76" y="286.83" width="1.2" height="1.2"/><rect x="491.62" y="286.83" width="1.2" height="1.2"/><rect x="499.48" y="286.83" width="1.2" height="1.2"/><rect x="507.34" y="286.83" width="1.2" height="1.2"/><rect x="515.20" y="286.83" width="1.2" height="1.2"/><rect x="523.06" y="286.83" width="1.2" height="1.2"/><rect x="530.92" y="286.83" width="1.2" height="1.2"/><rect x="538.78" y="286.83" width="1.2" height="1.2"/><rect x="546.64" y="286.83" width="1.2" height="1.2"/><rect x="554.50" y="286.83" width="1.2" height="1.2"/><rect x="562.36" y="286.83" width="1.2" height="1.2"/><rect x="90.76" y="324.26" width="1.2" height="1.2"/><rect x="98.62" y="324.26" width="1.2" height="1.2"/><rect x="106.48" y="324.26" width="1.2" height="1.2"/><rect x="114.34" y="324.26" width="1.2" height="1.2"/><rect x="122.20" y="324.26" width="1.2" height="1.2"/><rect x="130.06" y="324.26" width="1.2" height="1.2"/><rect x="137.92" y="324.26" width="1.2" height="1.2"/><rect x="145.78" y="324.26" width="1.2" height="1.2"/><rect x="153.64" y="324.26" width="1.2" height="1.2"/><rect x="161.50" y="324.26" width="1.2" height="1.2"/><rect x="169.36" y="324.26" width="1.2" height="1.2"/><rect x="177.22" y="324.26" width="1.2" height="1.2"/><rect x="185.08" y="324.26" width="1.2" height="1.2"/><rect x="192.94" y="324.26" width="1.2" height="1.2"/><rect x="200.80" y="324.26" width="1.2" height="1.2"/><rect x="208.66" y="324.26" width="1.2" height="1.2"/><rect x="216.52" y="324.26" width="1.2" height="1.2"/><rect x="224.38" y="324.26" width="1.2" height="1.2"/><rect x="232.24" y="324.26" width="1.2" height="1.2"/><rect x="240.10" y="324.26" width="1.2" height="1.2"/><rect x="247.96" y="324.26" width="1.2" height="1.2"/><rect x="255.82" y="324.26" width="1.2" height="1.2"/><rect x="263.68" y="324.26" width="1.2" height="1.2"/><rect x="271.54" y="324.26" width="1.2" height="1.2"/><rect x="279.40" y="324.26" width="1.2" height="1.2"/><rect x="287.26" y="324.26" width="1.2" height="1.2"/><rect x="295.12" y="324.26" width="1.2" height="1.2"/><rect x="302.98" y="324.26" width="1.2" height="1.2"/><rect x="310.84" y="324.26" width="1.2" height="1.2"/><rect x="318.70" y="324.26" width="1.2" height="1.2"/><rect x="326.56" y="324.26" width="1.2" height="1.2"/><rect x="334.42" y="324.26" width="1.2" height="1.2"/><rect x="342.28" y="324.26" width="1.2" height="1.2"/><rect x="350.14" y="324.26" width="1.2" height="1.2"/><rect x="358.00" y="324.26" width="1.2" height="1.2"/><rect x="365.86" y="324.26" width="1.2" height="1.2"/><rect x="373.72" y="324.26" width="1.2" height="1.2"/><rect x="381.58" y="324.26" width="1.2" height="1.2"/><rect x="389.44" y="324.26" width="1.2" height="1.2"/><rect x="397.30" y="324.26" width="1.2" height="1.2"/><rect x="405.16" y="324.26" width="1.2" height="1.2"/><rect x="413.02" y="324.26" width="1.2" height="1.2"/><rect x="420.88" y="324.26" width="1.2" height="1.2"/><rect x="428.74" y="324.26" width="1.2" height="1.2"/><rect x="436.60" y="324.26" width="1.2" height="1.2"/><rect x="444.46" y="324.26" width="1.2" height="1.2"/><rect x="452.32" y="324.26" width="1.2" height="1.2"/><rect x="460.18" y="324.26" width="1.2" height="1.2"/><rect x="468.04" y="324.26" width="1.2" height="1.2"/><rect x="475.90" y="324.26" width="1.2" height="1.2"/><rect x="483.76" y="324.26" width="1.2" height="1.2"/><rect x="491.62" y="324.26" width="1.2" height="1.2"/><rect x="499.48" y="324.26" width="1.2" height="1.2"/><rect x="507.34" y="324.26" width="1.2" height="1.2"/><rect x="515.20" y="324.26" width="1.2" height="1.2"/><rect x="523.06" y="324.26" width="1.2" height="1.2"/><rect x="530.92" y="324.26" width="1.2" height="1.2"/><rect x="538.78" y="324.26" width="1.2" height="1.2"/><rect x="546.64" y="324.26" width="1.2" height="1.2"/><rect x="554.50" y="324.26" width="1.2" height="1.2"/><rect x="562.36" y="324.26" width="1.2" height="1.2"/></g>
<g stroke="#4a4a4a" stroke-width="1" fill="none"><line x1="83.5" y1="62.5" x2="569.5" y2="62.5"/><line x1="83.5" y1="58.5" x2="83.5" y2="324.5"/><line x1="83.5" y1="58.5" x2="83.5" y2="62.5"/><line x1="132.1" y1="58.5" x2="132.1" y2="62.5"/><line x1="180.7" y1="58.5" x2="180.7" y2="62.5"/><line x1="229.3" y1="58.5" x2="229.3" y2="62.5"/><line x1="277.9" y1="58.5" x2="277.9" y2="62.5"/><line x1="326.5" y1="58.5" x2="326.5" y2="62.5"/><line x1="375.1" y1="58.5" x2="375.1" y2="62.5"/><line x1="423.7" y1="58.5" x2="423.7" y2="62.5"/><line x1="472.3" y1="58.5" x2="472.3" y2="62.5"/><line x1="520.9" y1="58.5" x2="520.9" y2="62.5"/><line x1="569.5" y1="58.5" x2="569.5" y2="62.5"/><line x1="79.5" y1="62.5" x2="83.5" y2="62.5"/><line x1="79.5" y1="99.9" x2="83.5" y2="99.9"/><line x1="79.5" y1="137.4" x2="83.5" y2="137.4"/><line x1="79.5" y1="174.8" x2="83.5" y2="174.8"/><line x1="79.5" y1="212.2" x2="83.5" y2="212.2"/><line x1="79.5" y1="249.7" x2="83.5" y2="249.7"/><line x1="79.5" y1="287.1" x2="83.5" y2="287.1"/><line x1="79.5" y1="324.5" x2="83.5" y2="324.5"/></g>
<g><g><path d="M111.8 66.2 L111.7 68.1 L112.1 69.9 L111.9 71.8 L112.9 73.7 L111.8 75.6 L112.1 77.4 L112.7 79.3 L115.4 81.2 L115.6 83.0 L116.6 84.9 L115.2 86.8 L116.2 88.6 L116.7 90.5 L116.1 92.4 L117.1 94.3 L119.1 96.1 L116.9 98.0 L117.0 99.9 L116.5 101.7 L115.3 103.6 L114.2 105.5 L115.0 107.3 L114.4 109.2 L113.2 111.1 L112.0 113.0 L109.7 114.8 L108.8 116.7 L107.6 118.6 L107.5 120.4 L106.5 122.3 L105.8 124.2 L105.6 126.0 L106.1 127.9 L106.9 129.8 L107.0 131.7 L107.9 133.5 L107.9 135.4 L108.5 137.3 L109.2 139.1 L109.3 141.0 L109.4 142.9 L107.2 144.7 L106.5 146.6 L107.1 148.5 L107.7 150.4 L107.3 152.2 L106.2 154.1 L105.4 156.0 L104.7 157.8 L104.1 159.7 L105.6 161.6 L108.2 163.4 L112.3 165.3 L115.5 167.2 L115.1 169.1 L117.2 170.9 L114.5 172.8 L112.2 174.7 L111.6 176.5 L109.6 178.4 L109.5 180.3 L110.2 182.1 L109.9 184.0 L109.8 185.9 L114.3 187.8 L115.4 189.6 L116.4 191.5 L116.0 193.4 L114.2 195.2 L115.3 197.1 L113.2 199.0 L113.1 200.8 L110.9 202.7 L110.5 204.6 L110.9 206.5 L110.3 208.3 L109.5 210.2 L109.2 212.1 L110.3 213.9 L109.0 215.8 L109.6 217.7 L109.9 219.5 L109.7 221.4 L109.3 223.3 L108.6 225.2 L109.1 227.0 L108.3 228.9 L108.7 230.8 L107.3 232.6 L107.1 234.5 L105.6 236.4 L104.0 238.2 L104.8 240.1 L104.7 242.0 L104.1 243.9 L102.3 245.7 L104.4 247.6 L104.9 249.5 L105.0 251.3 L105.4 253.2 L102.4 255.1 L100.3 256.9 L99.4 258.8 L97.9 260.7 L94.9 262.6 L94.4 264.4 L94.2 266.3 L94.4 268.2 L93.2 270.0 L92.1 271.9 L91.4 273.8 L91.8 275.6 L90.8 277.5 L90.8 279.4 L89.5 281.3 L88.7 283.1 L89.1 285.0 L87.7 286.9 L87.6 288.7 L87.1 290.6 L85.8 292.5 L85.5 294.3 L85.2 296.2 L85.0 298.1 L84.7 300.0 L84.4 301.8 L84.1 303.7" fill="none" stroke="#2f64a6" stroke-width="1.4" stroke-linejoin="round"/><path d="M111.8 64.0L114.0 66.2L111.8 68.4L109.6 66.2Z" fill="#2a5a9c"/><path d="M111.7 65.9L113.9 68.1L111.7 70.3L109.5 68.1Z" fill="#2a5a9c"/><path d="M112.1 67.7L114.3 69.9L112.1 72.1L109.9 69.9Z" fill="#2a5a9c"/><path d="M111.9 69.6L114.1 71.8L111.9 74.0L109.7 71.8Z" fill="#2a5a9c"/><path d="M112.9 71.5L115.1 73.7L112.9 75.9L110.7 73.7Z" fill="#2a5a9c"/><path d="M111.8 73.4L114.0 75.6L111.8 77.8L109.6 75.6Z" fill="#2a5a9c"/><path d="M112.1 75.2L114.3 77.4L112.1 79.6L109.9 77.4Z" fill="#2a5a9c"/><path d="M112.7 77.1L114.9 79.3L112.7 81.5L110.5 79.3Z" fill="#2a5a9c"/><path d="M115.4 79.0L117.6 81.2L115.4 83.4L113.2 81.2Z" fill="#2a5a9c"/><path d="M115.6 80.8L117.8 83.0L115.6 85.2L113.4 83.0Z" fill="#2a5a9c"/><path d="M116.6 82.7L118.8 84.9L116.6 87.1L114.4 84.9Z" fill="#2a5a9c"/><path d="M115.2 84.6L117.4 86.8L115.2 89.0L113.0 86.8Z" fill="#2a5a9c"/><path d="M116.2 86.4L118.4 88.6L116.2 90.8L114.0 88.6Z" fill="#2a5a9c"/><path d="M116.7 88.3L118.9 90.5L116.7 92.7L114.5 90.5Z" fill="#2a5a9c"/><path d="M116.1 90.2L118.3 92.4L116.1 94.6L113.9 92.4Z" fill="#2a5a9c"/><path d="M117.1 92.1L119.3 94.3L117.1 96.5L114.9 94.3Z" fill="#2a5a9c"/><path d="M119.1 93.9L121.3 96.1L119.1 98.3L116.9 96.1Z" fill="#2a5a9c"/><path d="M116.9 95.8L119.1 98.0L116.9 100.2L114.7 98.0Z" fill="#2a5a9c"/><path d="M117.0 97.7L119.2 99.9L117.0 102.1L114.8 99.9Z" fill="#2a5a9c"/><path d="M116.5 99.5L118.7 101.7L116.5 103.9L114.3 101.7Z" fill="#2a5a9c"/><path d="M115.3 101.4L117.5 103.6L115.3 105.8L113.1 103.6Z" fill="#2a5a9c"/><path d="M114.2 103.3L116.4 105.5L114.2 107.7L112.0 105.5Z" fill="#2a5a9c"/><path d="M115.0 105.1L117.2 107.3L115.0 109.5L112.8 107.3Z" fill="#2a5a9c"/><path d="M114.4 107.0L116.6 109.2L114.4 111.4L112.2 109.2Z" fill="#2a5a9c"/><path d="M113.2 108.9L115.4 111.1L113.2 113.3L111.0 111.1Z" fill="#2a5a9c"/><path d="M112.0 110.8L114.2 113.0L112.0 115.2L109.8 113.0Z" fill="#2a5a9c"/><path d="M109.7 112.6L111.9 114.8L109.7 117.0L107.5 114.8Z" fill="#2a5a9c"/><path d="M108.8 114.5L111.0 116.7L108.8 118.9L106.6 116.7Z" fill="#2a5a9c"/><path d="M107.6 116.4L109.8 118.6L107.6 120.8L105.4 118.6Z" fill="#2a5a9c"/><path d="M107.5 118.2L109.7 120.4L107.5 122.6L105.3 120.4Z" fill="#2a5a9c"/><path d="M106.5 120.1L108.7 122.3L106.5 124.5L104.3 122.3Z" fill="#2a5a9c"/><path d="M105.8 122.0L108.0 124.2L105.8 126.4L103.6 124.2Z" fill="#2a5a9c"/><path d="M105.6 123.8L107.8 126.0L105.6 128.2L103.4 126.0Z" fill="#2a5a9c"/><path d="M106.1 125.7L108.3 127.9L106.1 130.1L103.9 127.9Z" fill="#2a5a9c"/><path d="M106.9 127.6L109.1 129.8L106.9 132.0L104.7 129.8Z" fill="#2a5a9c"/><path d="M107.0 129.5L109.2 131.7L107.0 133.9L104.8 131.7Z" fill="#2a5a9c"/><path d="M107.9 131.3L110.1 133.5L107.9 135.7L105.7 133.5Z" fill="#2a5a9c"/><path d="M107.9 133.2L110.1 135.4L107.9 137.6L105.7 135.4Z" fill="#2a5a9c"/><path d="M108.5 135.1L110.7 137.3L108.5 139.5L106.3 137.3Z" fill="#2a5a9c"/><path d="M109.2 136.9L111.4 139.1L109.2 141.3L107.0 139.1Z" fill="#2a5a9c"/><path d="M109.3 138.8L111.5 141.0L109.3 143.2L107.1 141.0Z" fill="#2a5a9c"/><path d="M109.4 140.7L111.6 142.9L109.4 145.1L107.2 142.9Z" fill="#2a5a9c"/><path d="M107.2 142.5L109.4 144.7L107.2 146.9L105.0 144.7Z" fill="#2a5a9c"/><path d="M106.5 144.4L108.7 146.6L106.5 148.8L104.3 146.6Z" fill="#2a5a9c"/><path d="M107.1 146.3L109.3 148.5L107.1 150.7L104.9 148.5Z" fill="#2a5a9c"/><path d="M107.7 148.2L109.9 150.4L107.7 152.6L105.5 150.4Z" fill="#2a5a9c"/><path d="M107.3 150.0L109.5 152.2L107.3 154.4L105.1 152.2Z" fill="#2a5a9c"/><path d="M106.2 151.9L108.4 154.1L106.2 156.3L104.0 154.1Z" fill="#2a5a9c"/><path d="M105.4 153.8L107.6 156.0L105.4 158.2L103.2 156.0Z" fill="#2a5a9c"/><path d="M104.7 155.6L106.9 157.8L104.7 160.0L102.5 157.8Z" fill="#2a5a9c"/><path d="M104.1 157.5L106.3 159.7L104.1 161.9L101.9 159.7Z" fill="#2a5a9c"/><path d="M105.6 159.4L107.8 161.6L105.6 163.8L103.4 161.6Z" fill="#2a5a9c"/><path d="M108.2 161.2L110.4 163.4L108.2 165.6L106.0 163.4Z" fill="#2a5a9c"/><path d="M112.3 163.1L114.5 165.3L112.3 167.5L110.1 165.3Z" fill="#2a5a9c"/><path d="M115.5 165.0L117.7 167.2L115.5 169.4L113.3 167.2Z" fill="#2a5a9c"/><path d="M115.1 166.9L117.3 169.1L115.1 171.3L112.9 169.1Z" fill="#2a5a9c"/><path d="M117.2 168.7L119.4 170.9L117.2 173.1L115.0 170.9Z" fill="#2a5a9c"/><path d="M114.5 170.6L116.7 172.8L114.5 175.0L112.3 172.8Z" fill="#2a5a9c"/><path d="M112.2 172.5L114.4 174.7L112.2 176.9L110.0 174.7Z" fill="#2a5a9c"/><path d="M111.6 174.3L113.8 176.5L111.6 178.7L109.4 176.5Z" fill="#2a5a9c"/><path d="M109.6 176.2L111.8 178.4L109.6 180.6L107.4 178.4Z" fill="#2a5a9c"/><path d="M109.5 178.1L111.7 180.3L109.5 182.5L107.3 180.3Z" fill="#2a5a9c"/><path d="M110.2 179.9L112.4 182.1L110.2 184.3L108.0 182.1Z" fill="#2a5a9c"/><path d="M109.9 181.8L112.1 184.0L109.9 186.2L107.7 184.0Z" fill="#2a5a9c"/><path d="M109.8 183.7L112.0 185.9L109.8 188.1L107.6 185.9Z" fill="#2a5a9c"/><path d="M114.3 185.6L116.5 187.8L114.3 190.0L112.1 187.8Z" fill="#2a5a9c"/><path d="M115.4 187.4L117.6 189.6L115.4 191.8L113.2 189.6Z" fill="#2a5a9c"/><path d="M116.4 189.3L118.6 191.5L116.4 193.7L114.2 191.5Z" fill="#2a5a9c"/><path d="M116.0 191.2L118.2 193.4L116.0 195.6L113.8 193.4Z" fill="#2a5a9c"/><path d="M114.2 193.0L116.4 195.2L114.2 197.4L112.0 195.2Z" fill="#2a5a9c"/><path d="M115.3 194.9L117.5 197.1L115.3 199.3L113.1 197.1Z" fill="#2a5a9c"/><path d="M113.2 196.8L115.4 199.0L113.2 201.2L111.0 199.0Z" fill="#2a5a9c"/><path d="M113.1 198.6L115.3 200.8L113.1 203.0L110.9 200.8Z" fill="#2a5a9c"/><path d="M110.9 200.5L113.1 202.7L110.9 204.9L108.7 202.7Z" fill="#2a5a9c"/><path d="M110.5 202.4L112.7 204.6L110.5 206.8L108.3 204.6Z" fill="#2a5a9c"/><path d="M110.9 204.3L113.1 206.5L110.9 208.7L108.7 206.5Z" fill="#2a5a9c"/><path d="M110.3 206.1L112.5 208.3L110.3 210.5L108.1 208.3Z" fill="#2a5a9c"/><path d="M109.5 208.0L111.7 210.2L109.5 212.4L107.3 210.2Z" fill="#2a5a9c"/><path d="M109.2 209.9L111.4 212.1L109.2 214.3L107.0 212.1Z" fill="#2a5a9c"/><path d="M110.3 211.7L112.5 213.9L110.3 216.1L108.1 213.9Z" fill="#2a5a9c"/><path d="M109.0 213.6L111.2 215.8L109.0 218.0L106.8 215.8Z" fill="#2a5a9c"/><path d="M109.6 215.5L111.8 217.7L109.6 219.9L107.4 217.7Z" fill="#2a5a9c"/><path d="M109.9 217.3L112.1 219.5L109.9 221.7L107.7 219.5Z" fill="#2a5a9c"/><path d="M109.7 219.2L111.9 221.4L109.7 223.6L107.5 221.4Z" fill="#2a5a9c"/><path d="M109.3 221.1L111.5 223.3L109.3 225.5L107.1 223.3Z" fill="#2a5a9c"/><path d="M108.6 223.0L110.8 225.2L108.6 227.4L106.4 225.2Z" fill="#2a5a9c"/><path d="M109.1 224.8L111.3 227.0L109.1 229.2L106.9 227.0Z" fill="#2a5a9c"/><path d="M108.3 226.7L110.5 228.9L108.3 231.1L106.1 228.9Z" fill="#2a5a9c"/><path d="M108.7 228.6L110.9 230.8L108.7 233.0L106.5 230.8Z" fill="#2a5a9c"/><path d="M107.3 230.4L109.5 232.6L107.3 234.8L105.1 232.6Z" fill="#2a5a9c"/><path d="M107.1 232.3L109.3 234.5L107.1 236.7L104.9 234.5Z" fill="#2a5a9c"/><path d="M105.6 234.2L107.8 236.4L105.6 238.6L103.4 236.4Z" fill="#2a5a9c"/><path d="M104.0 236.0L106.2 238.2L104.0 240.4L101.8 238.2Z" fill="#2a5a9c"/><path d="M104.8 237.9L107.0 240.1L104.8 242.3L102.6 240.1Z" fill="#2a5a9c"/><path d="M104.7 239.8L106.9 242.0L104.7 244.2L102.5 242.0Z" fill="#2a5a9c"/><path d="M104.1 241.7L106.3 243.9L104.1 246.1L101.9 243.9Z" fill="#2a5a9c"/><path d="M102.3 243.5L104.5 245.7L102.3 247.9L100.1 245.7Z" fill="#2a5a9c"/><path d="M104.4 245.4L106.6 247.6L104.4 249.8L102.2 247.6Z" fill="#2a5a9c"/><path d="M104.9 247.3L107.1 249.5L104.9 251.7L102.7 249.5Z" fill="#2a5a9c"/><path d="M105.0 249.1L107.2 251.3L105.0 253.5L102.8 251.3Z" fill="#2a5a9c"/><path d="M105.4 251.0L107.6 253.2L105.4 255.4L103.2 253.2Z" fill="#2a5a9c"/><path d="M102.4 252.9L104.6 255.1L102.4 257.3L100.2 255.1Z" fill="#2a5a9c"/><path d="M100.3 254.7L102.5 256.9L100.3 259.1L98.1 256.9Z" fill="#2a5a9c"/><path d="M99.4 256.6L101.6 258.8L99.4 261.0L97.2 258.8Z" fill="#2a5a9c"/><path d="M97.9 258.5L100.1 260.7L97.9 262.9L95.7 260.7Z" fill="#2a5a9c"/><path d="M94.9 260.4L97.1 262.6L94.9 264.8L92.7 262.6Z" fill="#2a5a9c"/><path d="M94.4 262.2L96.6 264.4L94.4 266.6L92.2 264.4Z" fill="#2a5a9c"/><path d="M94.2 264.1L96.4 266.3L94.2 268.5L92.0 266.3Z" fill="#2a5a9c"/><path d="M94.4 266.0L96.6 268.2L94.4 270.4L92.2 268.2Z" fill="#2a5a9c"/><path d="M93.2 267.8L95.4 270.0L93.2 272.2L91.0 270.0Z" fill="#2a5a9c"/><path d="M92.1 269.7L94.3 271.9L92.1 274.1L89.9 271.9Z" fill="#2a5a9c"/><path d="M91.4 271.6L93.6 273.8L91.4 276.0L89.2 273.8Z" fill="#2a5a9c"/><path d="M91.8 273.4L94.0 275.6L91.8 277.8L89.6 275.6Z" fill="#2a5a9c"/><path d="M90.8 275.3L93.0 277.5L90.8 279.7L88.6 277.5Z" fill="#2a5a9c"/><path d="M90.8 277.2L93.0 279.4L90.8 281.6L88.6 279.4Z" fill="#2a5a9c"/><path d="M89.5 279.1L91.7 281.3L89.5 283.5L87.3 281.3Z" fill="#2a5a9c"/><path d="M88.7 280.9L90.9 283.1L88.7 285.3L86.5 283.1Z" fill="#2a5a9c"/><path d="M89.1 282.8L91.3 285.0L89.1 287.2L86.9 285.0Z" fill="#2a5a9c"/><path d="M87.7 284.7L89.9 286.9L87.7 289.1L85.5 286.9Z" fill="#2a5a9c"/><path d="M87.6 286.5L89.8 288.7L87.6 290.9L85.4 288.7Z" fill="#2a5a9c"/><path d="M87.1 288.4L89.3 290.6L87.1 292.8L84.9 290.6Z" fill="#2a5a9c"/><path d="M85.8 290.3L88.0 292.5L85.8 294.7L83.6 292.5Z" fill="#2a5a9c"/><path d="M85.5 292.1L87.7 294.3L85.5 296.5L83.3 294.3Z" fill="#2a5a9c"/><path d="M85.2 294.0L87.4 296.2L85.2 298.4L83.0 296.2Z" fill="#2a5a9c"/><path d="M85.0 295.9L87.2 298.1L85.0 300.3L82.8 298.1Z" fill="#2a5a9c"/><path d="M84.7 297.8L86.9 300.0L84.7 302.2L82.5 300.0Z" fill="#2a5a9c"/><path d="M84.4 299.6L86.6 301.8L84.4 304.0L82.2 301.8Z" fill="#2a5a9c"/><path d="M84.1 301.5L86.3 303.7L84.1 305.9L81.9 303.7Z" fill="#2a5a9c"/></g><g><path d="M104.6 66.2 L98.6 69.9 L92.5 73.7 L94.5 77.4 L96.5 81.2 L91.5 84.9 L89.1 88.6 L88.1 92.4 L88.9 96.1 L90.0 99.9 L95.2 103.6 L93.9 107.3 L94.1 111.1 L95.5 114.8 L96.6 118.6 L98.2 122.3 L95.9 126.0 L97.4 129.8 L99.7 133.5 L98.9 137.3 L95.0 141.0 L94.9 144.7 L91.1 148.5 L85.6 152.2 L85.1 156.0 L84.7 159.7 L88.8 163.4 L93.4 167.2 L89.6 170.9 L88.8 174.7 L90.0 178.4 L90.0 182.1 L89.6 185.9 L88.9 189.6 L87.3 193.4 L86.0 197.1 L89.4 200.8 L94.3 204.6 L100.5 208.3 L102.2 212.1 L104.2 215.8 L106.0 219.5 L109.4 223.3 L104.1 227.0 L103.2 230.8 L98.6 234.5 L96.4 238.2 L98.1 242.0 L96.8 245.7 L98.3 249.5 L97.1 253.2 L94.3 256.9 L97.6 260.7 L98.5 264.4 L94.9 268.2 L93.4 271.9 L91.6 275.6 L89.8 279.4 L87.7 283.1 L87.1 286.9 L84.9 290.6 L84.6 294.3 L84.4 298.1 L84.1 301.8" fill="none" stroke="#a1292d" stroke-width="1.2" stroke-linejoin="round" stroke-dasharray="1.2 2"/><rect x="102.2" y="63.8" width="4.9" height="4.9" fill="#9e2a2c"/><rect x="96.2" y="67.5" width="4.9" height="4.9" fill="#9e2a2c"/><rect x="90.0" y="71.2" width="4.9" height="4.9" fill="#9e2a2c"/><rect x="92.1" y="75.0" width="4.9" height="4.9" fill="#9e2a2c"/><rect x="94.1" y="78.7" width="4.9" height="4.9" fill="#9e2a2c"/><rect x="89.0" y="82.4" width="4.9" height="4.9" fill="#9e2a2c"/><rect x="86.6" y="86.2" width="4.9" height="4.9" fill="#9e2a2c"/><rect x="85.6" y="89.9" width="4.9" height="4.9" fill="#9e2a2c"/><rect x="86.5" y="93.7" width="4.9" height="4.9" fill="#9e2a2c"/><rect x="87.5" y="97.4" width="4.9" height="4.9" fill="#9e2a2c"/><rect x="92.8" y="101.1" width="4.9" height="4.9" fill="#9e2a2c"/><rect x="91.4" y="104.9" width="4.9" height="4.9" fill="#9e2a2c"/><rect x="91.6" y="108.6" width="4.9" height="4.9" fill="#9e2a2c"/><rect x="93.0" y="112.4" width="4.9" height="4.9" fill="#9e2a2c"/><rect x="94.2" y="116.1" width="4.9" height="4.9" fill="#9e2a2c"/><rect x="95.7" y="119.8" width="4.9" height="4.9" fill="#9e2a2c"/><rect x="93.4" y="123.6" width="4.9" height="4.9" fill="#9e2a2c"/><rect x="94.9" y="127.3" width="4.9" height="4.9" fill="#9e2a2c"/><rect x="97.2" y="131.1" width="4.9" height="4.9" fill="#9e2a2c"/><rect x="96.4" y="134.8" width="4.9" height="4.9" fill="#9e2a2c"/><rect x="92.6" y="138.5" width="4.9" height="4.9" fill="#9e2a2c"/><rect x="92.5" y="142.3" width="4.9" height="4.9" fill="#9e2a2c"/><rect x="88.7" y="146.0" width="4.9" height="4.9" fill="#9e2a2c"/><rect x="83.1" y="149.8" width="4.9" height="4.9" fill="#9e2a2c"/><rect x="82.6" y="153.5" width="4.9" height="4.9" fill="#9e2a2c"/><rect x="82.2" y="157.2" width="4.9" height="4.9" fill="#9e2a2c"/><rect x="86.3" y="161.0" width="4.9" height="4.9" fill="#9e2a2c"/><rect x="91.0" y="164.7" width="4.9" height="4.9" fill="#9e2a2c"/><rect x="87.2" y="168.5" width="4.9" height="4.9" fill="#9e2a2c"/><rect x="86.4" y="172.2" width="4.9" height="4.9" fill="#9e2a2c"/><rect x="87.6" y="176.0" width="4.9" height="4.9" fill="#9e2a2c"/><rect x="87.6" y="179.7" width="4.9" height="4.9" fill="#9e2a2c"/><rect x="87.2" y="183.4" width="4.9" height="4.9" fill="#9e2a2c"/><rect x="86.5" y="187.2" width="4.9" height="4.9" fill="#9e2a2c"/><rect x="84.8" y="190.9" width="4.9" height="4.9" fill="#9e2a2c"/><rect x="83.6" y="194.7" width="4.9" height="4.9" fill="#9e2a2c"/><rect x="87.0" y="198.4" width="4.9" height="4.9" fill="#9e2a2c"/><rect x="91.9" y="202.1" width="4.9" height="4.9" fill="#9e2a2c"/><rect x="98.0" y="205.9" width="4.9" height="4.9" fill="#9e2a2c"/><rect x="99.8" y="209.6" width="4.9" height="4.9" fill="#9e2a2c"/><rect x="101.7" y="213.4" width="4.9" height="4.9" fill="#9e2a2c"/><rect x="103.6" y="217.1" width="4.9" height="4.9" fill="#9e2a2c"/><rect x="106.9" y="220.8" width="4.9" height="4.9" fill="#9e2a2c"/><rect x="101.6" y="224.6" width="4.9" height="4.9" fill="#9e2a2c"/><rect x="100.7" y="228.3" width="4.9" height="4.9" fill="#9e2a2c"/><rect x="96.2" y="232.1" width="4.9" height="4.9" fill="#9e2a2c"/><rect x="94.0" y="235.8" width="4.9" height="4.9" fill="#9e2a2c"/><rect x="95.7" y="239.5" width="4.9" height="4.9" fill="#9e2a2c"/><rect x="94.4" y="243.3" width="4.9" height="4.9" fill="#9e2a2c"/><rect x="95.9" y="247.0" width="4.9" height="4.9" fill="#9e2a2c"/><rect x="94.7" y="250.8" width="4.9" height="4.9" fill="#9e2a2c"/><rect x="91.8" y="254.5" width="4.9" height="4.9" fill="#9e2a2c"/><rect x="95.2" y="258.2" width="4.9" height="4.9" fill="#9e2a2c"/><rect x="96.1" y="262.0" width="4.9" height="4.9" fill="#9e2a2c"/><rect x="92.4" y="265.7" width="4.9" height="4.9" fill="#9e2a2c"/><rect x="91.0" y="269.5" width="4.9" height="4.9" fill="#9e2a2c"/><rect x="89.2" y="273.2" width="4.9" height="4.9" fill="#9e2a2c"/><rect x="87.4" y="276.9" width="4.9" height="4.9" fill="#9e2a2c"/><rect x="85.2" y="280.7" width="4.9" height="4.9" fill="#9e2a2c"/><rect x="84.7" y="284.4" width="4.9" height="4.9" fill="#9e2a2c"/><rect x="82.4" y="288.2" width="4.9" height="4.9" fill="#9e2a2c"/><rect x="82.2" y="291.9" width="4.9" height="4.9" fill="#9e2a2c"/><rect x="81.9" y="295.6" width="4.9" height="4.9" fill="#9e2a2c"/><rect x="81.6" y="299.4" width="4.9" height="4.9" fill="#9e2a2c"/></g><g><path d="M99.3 66.2 L104.2 69.9 L108.5 73.7 L107.7 77.4 L105.5 81.2 L110.2 84.9 L111.5 88.6 L114.4 92.4 L114.0 96.1 L108.9 99.9 L106.4 103.6 L103.4 107.3 L102.1 111.1 L101.7 114.8 L107.3 118.6 L112.5 122.3 L114.0 126.0 L114.3 129.8 L116.9 133.5 L118.7 137.3 L120.0 141.0 L117.5 144.7 L114.1 148.5 L110.6 152.2 L106.3 156.0 L109.1 159.7 L112.7 163.4 L114.5 167.2 L113.3 170.9 L110.8 174.7 L109.5 178.4 L107.6 182.1 L105.1 185.9 L107.7 189.6 L108.7 193.4 L111.2 197.1 L111.7 200.8 L110.3 204.6 L110.5 208.3 L109.3 212.1 L111.3 215.8 L108.5 219.5 L106.1 223.3 L104.0 227.0 L103.9 230.8 L101.2 234.5 L102.2 238.2 L101.2 242.0 L102.3 245.7 L101.6 249.5 L102.7 253.2 L99.8 256.9 L98.3 260.7 L95.9 264.4 L94.0 268.2 L91.2 271.9 L90.7 275.6 L89.4 279.4 L88.9 283.1 L87.0 286.9 L87.7 290.6 L85.3 294.3 L85.0 298.1 L84.4 301.8" fill="none" stroke="#72a03c" stroke-width="1.2" stroke-linejoin="round"/><path d="M99.3 63.7L101.8 68.2L96.8 68.2Z" fill="#6a9636"/><path d="M104.2 67.4L106.7 71.9L101.7 71.9Z" fill="#6a9636"/><path d="M108.5 71.2L111.0 75.7L106.0 75.7Z" fill="#6a9636"/><path d="M107.7 74.9L110.2 79.4L105.2 79.4Z" fill="#6a9636"/><path d="M105.5 78.7L108.0 83.2L103.0 83.2Z" fill="#6a9636"/><path d="M110.2 82.4L112.7 86.9L107.7 86.9Z" fill="#6a9636"/><path d="M111.5 86.1L114.0 90.6L109.0 90.6Z" fill="#6a9636"/><path d="M114.4 89.9L116.9 94.4L111.9 94.4Z" fill="#6a9636"/><path d="M114.0 93.6L116.5 98.1L111.5 98.1Z" fill="#6a9636"/><path d="M108.9 97.4L111.4 101.9L106.4 101.9Z" fill="#6a9636"/><path d="M106.4 101.1L108.9 105.6L103.9 105.6Z" fill="#6a9636"/><path d="M103.4 104.8L105.9 109.3L100.9 109.3Z" fill="#6a9636"/><path d="M102.1 108.6L104.6 113.1L99.6 113.1Z" fill="#6a9636"/><path d="M101.7 112.3L104.2 116.8L99.2 116.8Z" fill="#6a9636"/><path d="M107.3 116.1L109.8 120.6L104.8 120.6Z" fill="#6a9636"/><path d="M112.5 119.8L115.0 124.3L110.0 124.3Z" fill="#6a9636"/><path d="M114.0 123.5L116.5 128.0L111.5 128.0Z" fill="#6a9636"/><path d="M114.3 127.3L116.8 131.8L111.8 131.8Z" fill="#6a9636"/><path d="M116.9 131.0L119.4 135.5L114.4 135.5Z" fill="#6a9636"/><path d="M118.7 134.8L121.2 139.3L116.2 139.3Z" fill="#6a9636"/><path d="M120.0 138.5L122.5 143.0L117.5 143.0Z" fill="#6a9636"/><path d="M117.5 142.2L120.0 146.7L115.0 146.7Z" fill="#6a9636"/><path d="M114.1 146.0L116.6 150.5L111.6 150.5Z" fill="#6a9636"/><path d="M110.6 149.7L113.1 154.2L108.1 154.2Z" fill="#6a9636"/><path d="M106.3 153.5L108.8 158.0L103.8 158.0Z" fill="#6a9636"/><path d="M109.1 157.2L111.6 161.7L106.6 161.7Z" fill="#6a9636"/><path d="M112.7 160.9L115.2 165.4L110.2 165.4Z" fill="#6a9636"/><path d="M114.5 164.7L117.0 169.2L112.0 169.2Z" fill="#6a9636"/><path d="M113.3 168.4L115.8 172.9L110.8 172.9Z" fill="#6a9636"/><path d="M110.8 172.2L113.3 176.7L108.3 176.7Z" fill="#6a9636"/><path d="M109.5 175.9L112.0 180.4L107.0 180.4Z" fill="#6a9636"/><path d="M107.6 179.6L110.1 184.1L105.1 184.1Z" fill="#6a9636"/><path d="M105.1 183.4L107.6 187.9L102.6 187.9Z" fill="#6a9636"/><path d="M107.7 187.1L110.2 191.6L105.2 191.6Z" fill="#6a9636"/><path d="M108.7 190.9L111.2 195.4L106.2 195.4Z" fill="#6a9636"/><path d="M111.2 194.6L113.7 199.1L108.7 199.1Z" fill="#6a9636"/><path d="M111.7 198.3L114.2 202.8L109.2 202.8Z" fill="#6a9636"/><path d="M110.3 202.1L112.8 206.6L107.8 206.6Z" fill="#6a9636"/><path d="M110.5 205.8L113.0 210.3L108.0 210.3Z" fill="#6a9636"/><path d="M109.3 209.6L111.8 214.1L106.8 214.1Z" fill="#6a9636"/><path d="M111.3 213.3L113.8 217.8L108.8 217.8Z" fill="#6a9636"/><path d="M108.5 217.0L111.0 221.5L106.0 221.5Z" fill="#6a9636"/><path d="M106.1 220.8L108.6 225.3L103.6 225.3Z" fill="#6a9636"/><path d="M104.0 224.5L106.5 229.0L101.5 229.0Z" fill="#6a9636"/><path d="M103.9 228.3L106.4 232.8L101.4 232.8Z" fill="#6a9636"/><path d="M101.2 232.0L103.7 236.5L98.7 236.5Z" fill="#6a9636"/><path d="M102.2 235.7L104.7 240.2L99.7 240.2Z" fill="#6a9636"/><path d="M101.2 239.5L103.7 244.0L98.7 244.0Z" fill="#6a9636"/><path d="M102.3 243.2L104.8 247.7L99.8 247.7Z" fill="#6a9636"/><path d="M101.6 247.0L104.1 251.5L99.1 251.5Z" fill="#6a9636"/><path d="M102.7 250.7L105.2 255.2L100.2 255.2Z" fill="#6a9636"/><path d="M99.8 254.4L102.3 258.9L97.3 258.9Z" fill="#6a9636"/><path d="M98.3 258.2L100.8 262.7L95.8 262.7Z" fill="#6a9636"/><path d="M95.9 261.9L98.4 266.4L93.4 266.4Z" fill="#6a9636"/><path d="M94.0 265.7L96.5 270.2L91.5 270.2Z" fill="#6a9636"/><path d="M91.2 269.4L93.7 273.9L88.7 273.9Z" fill="#6a9636"/><path d="M90.7 273.1L93.2 277.6L88.2 277.6Z" fill="#6a9636"/><path d="M89.4 276.9L91.9 281.4L86.9 281.4Z" fill="#6a9636"/><path d="M88.9 280.6L91.4 285.1L86.4 285.1Z" fill="#6a9636"/><path d="M87.0 284.4L89.5 288.9L84.5 288.9Z" fill="#6a9636"/><path d="M87.7 288.1L90.2 292.6L85.2 292.6Z" fill="#6a9636"/><path d="M85.3 291.8L87.8 296.3L82.8 296.3Z" fill="#6a9636"/><path d="M85.0 295.6L87.5 300.1L82.5 300.1Z" fill="#6a9636"/><path d="M84.4 299.3L86.9 303.8L81.9 303.8Z" fill="#6a9636"/></g><g><path d="M171.2 66.2 L172.2 69.0 L165.6 71.8 L164.4 74.6 L161.3 77.4 L161.8 80.2 L158.4 83.0 L161.6 85.8 L162.8 88.6 L164.1 91.4 L166.9 94.2 L168.3 97.0 L169.4 99.8 L169.5 102.6 L165.8 105.4 L168.8 108.2 L167.3 111.0 L161.2 113.8 L162.2 116.6 L158.7 119.4 L158.4 122.2 L158.5 125.0 L155.4 127.8 L153.0 130.6 L154.2 133.4 L155.9 136.2 L161.0 139.0 L158.6 141.8 L160.3 144.6 L151.9 147.4 L147.2 150.2 L149.1 153.0 L146.7 155.8 L147.3 158.6 L143.5 161.4 L143.4 164.2 L147.1 167.0 L148.4 169.8 L148.0 172.6 L147.0 175.4 L142.8 178.2 L145.5 181.0 L143.3 183.8 L143.3 186.6 L144.0 189.4 L140.4 192.2 L144.6 195.0 L143.4 197.8 L138.3 200.6 L140.8 203.4 L137.7 206.2 L134.9 209.0 L134.3 211.8 L134.8 214.6 L132.3 217.4 L132.0 220.2 L129.7 223.0 L125.8 225.8 L126.9 228.6 L122.0 231.4 L124.6 234.2 L122.9 237.0 L120.5 239.8 L118.9 242.6 L116.6 245.4 L114.7 248.2 L111.9 251.0 L111.1 253.8 L109.3 256.6 L106.6 259.4 L102.8 262.2 L106.5 265.0 L103.1 267.8 L98.1 270.6 L98.9 273.4 L95.2 276.2 L93.6 279.0 L91.9 281.8 L90.4 284.6 L91.4 287.4 L90.7 290.2 L88.5 293.0 L85.1 295.8 L84.6 298.6 L86.0 301.4" fill="none" stroke="#5f3f98" stroke-width="1.0" stroke-linejoin="round" stroke-dasharray="1.2 2"/><path d="M169.4 64.4L173.0 68.0M173.0 64.4L169.4 68.0" stroke="#5a3c90" stroke-width="1.1" fill="none"/><path d="M170.4 67.2L174.0 70.8M174.0 67.2L170.4 70.8" stroke="#5a3c90" stroke-width="1.1" fill="none"/><path d="M163.8 70.0L167.4 73.6M167.4 70.0L163.8 73.6" stroke="#5a3c90" stroke-width="1.1" fill="none"/><path d="M162.6 72.8L166.2 76.4M166.2 72.8L162.6 76.4" stroke="#5a3c90" stroke-width="1.1" fill="none"/><path d="M159.5 75.6L163.1 79.2M163.1 75.6L159.5 79.2" stroke="#5a3c90" stroke-width="1.1" fill="none"/><path d="M160.0 78.4L163.6 82.0M163.6 78.4L160.0 82.0" stroke="#5a3c90" stroke-width="1.1" fill="none"/><path d="M156.6 81.2L160.2 84.8M160.2 81.2L156.6 84.8" stroke="#5a3c90" stroke-width="1.1" fill="none"/><path d="M159.8 84.0L163.4 87.6M163.4 84.0L159.8 87.6" stroke="#5a3c90" stroke-width="1.1" fill="none"/><path d="M161.0 86.8L164.6 90.4M164.6 86.8L161.0 90.4" stroke="#5a3c90" stroke-width="1.1" fill="none"/><path d="M162.3 89.6L165.9 93.2M165.9 89.6L162.3 93.2" stroke="#5a3c90" stroke-width="1.1" fill="none"/><path d="M165.1 92.4L168.7 96.0M168.7 92.4L165.1 96.0" stroke="#5a3c90" stroke-width="1.1" fill="none"/><path d="M166.5 95.2L170.1 98.8M170.1 95.2L166.5 98.8" stroke="#5a3c90" stroke-width="1.1" fill="none"/><path d="M167.6 98.0L171.2 101.6M171.2 98.0L167.6 101.6" stroke="#5a3c90" stroke-width="1.1" fill="none"/><path d="M167.7 100.8L171.3 104.4M171.3 100.8L167.7 104.4" stroke="#5a3c90" stroke-width="1.1" fill="none"/><path d="M164.0 103.6L167.6 107.2M167.6 103.6L164.0 107.2" stroke="#5a3c90" stroke-width="1.1" fill="none"/><path d="M167.0 106.4L170.6 110.0M170.6 106.4L167.0 110.0" stroke="#5a3c90" stroke-width="1.1" fill="none"/><path d="M165.5 109.2L169.1 112.8M169.1 109.2L165.5 112.8" stroke="#5a3c90" stroke-width="1.1" fill="none"/><path d="M159.4 112.0L163.0 115.6M163.0 112.0L159.4 115.6" stroke="#5a3c90" stroke-width="1.1" fill="none"/><path d="M160.4 114.8L164.0 118.4M164.0 114.8L160.4 118.4" stroke="#5a3c90" stroke-width="1.1" fill="none"/><path d="M156.9 117.6L160.5 121.2M160.5 117.6L156.9 121.2" stroke="#5a3c90" stroke-width="1.1" fill="none"/><path d="M156.6 120.4L160.2 124.0M160.2 120.4L156.6 124.0" stroke="#5a3c90" stroke-width="1.1" fill="none"/><path d="M156.7 123.2L160.3 126.8M160.3 123.2L156.7 126.8" stroke="#5a3c90" stroke-width="1.1" fill="none"/><path d="M153.6 126.0L157.2 129.6M157.2 126.0L153.6 129.6" stroke="#5a3c90" stroke-width="1.1" fill="none"/><path d="M151.2 128.8L154.8 132.4M154.8 128.8L151.2 132.4" stroke="#5a3c90" stroke-width="1.1" fill="none"/><path d="M152.4 131.6L156.0 135.2M156.0 131.6L152.4 135.2" stroke="#5a3c90" stroke-width="1.1" fill="none"/><path d="M154.1 134.4L157.7 138.0M157.7 134.4L154.1 138.0" stroke="#5a3c90" stroke-width="1.1" fill="none"/><path d="M159.2 137.2L162.8 140.8M162.8 137.2L159.2 140.8" stroke="#5a3c90" stroke-width="1.1" fill="none"/><path d="M156.8 140.0L160.4 143.6M160.4 140.0L156.8 143.6" stroke="#5a3c90" stroke-width="1.1" fill="none"/><path d="M158.5 142.8L162.1 146.4M162.1 142.8L158.5 146.4" stroke="#5a3c90" stroke-width="1.1" fill="none"/><path d="M150.1 145.6L153.7 149.2M153.7 145.6L150.1 149.2" stroke="#5a3c90" stroke-width="1.1" fill="none"/><path d="M145.4 148.4L149.0 152.0M149.0 148.4L145.4 152.0" stroke="#5a3c90" stroke-width="1.1" fill="none"/><path d="M147.3 151.2L150.9 154.8M150.9 151.2L147.3 154.8" stroke="#5a3c90" stroke-width="1.1" fill="none"/><path d="M144.9 154.0L148.5 157.6M148.5 154.0L144.9 157.6" stroke="#5a3c90" stroke-width="1.1" fill="none"/><path d="M145.5 156.8L149.1 160.4M149.1 156.8L145.5 160.4" stroke="#5a3c90" stroke-width="1.1" fill="none"/><path d="M141.7 159.6L145.3 163.2M145.3 159.6L141.7 163.2" stroke="#5a3c90" stroke-width="1.1" fill="none"/><path d="M141.6 162.4L145.2 166.0M145.2 162.4L141.6 166.0" stroke="#5a3c90" stroke-width="1.1" fill="none"/><path d="M145.3 165.2L148.9 168.8M148.9 165.2L145.3 168.8" stroke="#5a3c90" stroke-width="1.1" fill="none"/><path d="M146.6 168.0L150.2 171.6M150.2 168.0L146.6 171.6" stroke="#5a3c90" stroke-width="1.1" fill="none"/><path d="M146.2 170.8L149.8 174.4M149.8 170.8L146.2 174.4" stroke="#5a3c90" stroke-width="1.1" fill="none"/><path d="M145.2 173.6L148.8 177.2M148.8 173.6L145.2 177.2" stroke="#5a3c90" stroke-width="1.1" fill="none"/><path d="M141.0 176.4L144.6 180.0M144.6 176.4L141.0 180.0" stroke="#5a3c90" stroke-width="1.1" fill="none"/><path d="M143.7 179.2L147.3 182.8M147.3 179.2L143.7 182.8" stroke="#5a3c90" stroke-width="1.1" fill="none"/><path d="M141.5 182.0L145.1 185.6M145.1 182.0L141.5 185.6" stroke="#5a3c90" stroke-width="1.1" fill="none"/><path d="M141.5 184.8L145.1 188.4M145.1 184.8L141.5 188.4" stroke="#5a3c90" stroke-width="1.1" fill="none"/><path d="M142.2 187.6L145.8 191.2M145.8 187.6L142.2 191.2" stroke="#5a3c90" stroke-width="1.1" fill="none"/><path d="M138.6 190.4L142.2 194.0M142.2 190.4L138.6 194.0" stroke="#5a3c90" stroke-width="1.1" fill="none"/><path d="M142.8 193.2L146.4 196.8M146.4 193.2L142.8 196.8" stroke="#5a3c90" stroke-width="1.1" fill="none"/><path d="M141.6 196.0L145.2 199.6M145.2 196.0L141.6 199.6" stroke="#5a3c90" stroke-width="1.1" fill="none"/><path d="M136.5 198.8L140.1 202.4M140.1 198.8L136.5 202.4" stroke="#5a3c90" stroke-width="1.1" fill="none"/><path d="M139.0 201.6L142.6 205.2M142.6 201.6L139.0 205.2" stroke="#5a3c90" stroke-width="1.1" fill="none"/><path d="M135.9 204.4L139.5 208.0M139.5 204.4L135.9 208.0" stroke="#5a3c90" stroke-width="1.1" fill="none"/><path d="M133.1 207.2L136.7 210.8M136.7 207.2L133.1 210.8" stroke="#5a3c90" stroke-width="1.1" fill="none"/><path d="M132.5 210.0L136.1 213.6M136.1 210.0L132.5 213.6" stroke="#5a3c90" stroke-width="1.1" fill="none"/><path d="M133.0 212.8L136.6 216.4M136.6 212.8L133.0 216.4" stroke="#5a3c90" stroke-width="1.1" fill="none"/><path d="M130.5 215.6L134.1 219.2M134.1 215.6L130.5 219.2" stroke="#5a3c90" stroke-width="1.1" fill="none"/><path d="M130.2 218.4L133.8 222.0M133.8 218.4L130.2 222.0" stroke="#5a3c90" stroke-width="1.1" fill="none"/><path d="M127.9 221.2L131.5 224.8M131.5 221.2L127.9 224.8" stroke="#5a3c90" stroke-width="1.1" fill="none"/><path d="M124.0 224.0L127.6 227.6M127.6 224.0L124.0 227.6" stroke="#5a3c90" stroke-width="1.1" fill="none"/><path d="M125.1 226.8L128.7 230.4M128.7 226.8L125.1 230.4" stroke="#5a3c90" stroke-width="1.1" fill="none"/><path d="M120.2 229.6L123.8 233.2M123.8 229.6L120.2 233.2" stroke="#5a3c90" stroke-width="1.1" fill="none"/><path d="M122.8 232.4L126.4 236.0M126.4 232.4L122.8 236.0" stroke="#5a3c90" stroke-width="1.1" fill="none"/><path d="M121.1 235.2L124.7 238.8M124.7 235.2L121.1 238.8" stroke="#5a3c90" stroke-width="1.1" fill="none"/><path d="M118.7 238.0L122.3 241.6M122.3 238.0L118.7 241.6" stroke="#5a3c90" stroke-width="1.1" fill="none"/><path d="M117.1 240.8L120.7 244.4M120.7 240.8L117.1 244.4" stroke="#5a3c90" stroke-width="1.1" fill="none"/><path d="M114.8 243.6L118.4 247.2M118.4 243.6L114.8 247.2" stroke="#5a3c90" stroke-width="1.1" fill="none"/><path d="M112.9 246.4L116.5 250.0M116.5 246.4L112.9 250.0" stroke="#5a3c90" stroke-width="1.1" fill="none"/><path d="M110.1 249.2L113.7 252.8M113.7 249.2L110.1 252.8" stroke="#5a3c90" stroke-width="1.1" fill="none"/><path d="M109.3 252.0L112.9 255.6M112.9 252.0L109.3 255.6" stroke="#5a3c90" stroke-width="1.1" fill="none"/><path d="M107.5 254.8L111.1 258.4M111.1 254.8L107.5 258.4" stroke="#5a3c90" stroke-width="1.1" fill="none"/><path d="M104.8 257.6L108.4 261.2M108.4 257.6L104.8 261.2" stroke="#5a3c90" stroke-width="1.1" fill="none"/><path d="M101.0 260.4L104.6 264.0M104.6 260.4L101.0 264.0" stroke="#5a3c90" stroke-width="1.1" fill="none"/><path d="M104.7 263.2L108.3 266.8M108.3 263.2L104.7 266.8" stroke="#5a3c90" stroke-width="1.1" fill="none"/><path d="M101.3 266.0L104.9 269.6M104.9 266.0L101.3 269.6" stroke="#5a3c90" stroke-width="1.1" fill="none"/><path d="M96.3 268.8L99.9 272.4M99.9 268.8L96.3 272.4" stroke="#5a3c90" stroke-width="1.1" fill="none"/><path d="M97.1 271.6L100.7 275.2M100.7 271.6L97.1 275.2" stroke="#5a3c90" stroke-width="1.1" fill="none"/><path d="M93.4 274.4L97.0 278.0M97.0 274.4L93.4 278.0" stroke="#5a3c90" stroke-width="1.1" fill="none"/><path d="M91.8 277.2L95.4 280.8M95.4 277.2L91.8 280.8" stroke="#5a3c90" stroke-width="1.1" fill="none"/><path d="M90.1 280.0L93.7 283.6M93.7 280.0L90.1 283.6" stroke="#5a3c90" stroke-width="1.1" fill="none"/><path d="M88.6 282.8L92.2 286.4M92.2 282.8L88.6 286.4" stroke="#5a3c90" stroke-width="1.1" fill="none"/><path d="M89.6 285.6L93.2 289.2M93.2 285.6L89.6 289.2" stroke="#5a3c90" stroke-width="1.1" fill="none"/><path d="M88.9 288.4L92.5 292.0M92.5 288.4L88.9 292.0" stroke="#5a3c90" stroke-width="1.1" fill="none"/><path d="M86.7 291.2L90.3 294.8M90.3 291.2L86.7 294.8" stroke="#5a3c90" stroke-width="1.1" fill="none"/><path d="M83.3 294.0L86.9 297.6M86.9 294.0L83.3 297.6" stroke="#5a3c90" stroke-width="1.1" fill="none"/><path d="M82.8 296.8L86.4 300.4M86.4 296.8L82.8 300.4" stroke="#5a3c90" stroke-width="1.1" fill="none"/><path d="M84.2 299.6L87.8 303.2M87.8 299.6L84.2 303.2" stroke="#5a3c90" stroke-width="1.1" fill="none"/></g><g><path d="M142.1 65.8 L142.5 67.7 L141.5 69.5 L141.5 71.4 L140.5 73.3 L140.8 75.2 L140.5 77.0 L140.9 78.9 L141.9 80.8 L143.1 82.6 L141.9 84.5 L143.9 86.4 L143.2 88.2 L144.5 90.1 L144.1 92.0 L145.2 93.9 L145.1 95.7 L146.9 97.6 L147.3 99.5 L146.5 101.3 L144.9 103.2 L144.5 105.1 L143.7 106.9 L144.1 108.8 L143.1 110.7 L142.3 112.6 L140.3 114.4 L137.6 116.3 L138.5 118.2 L136.7 120.0 L137.6 121.9 L137.3 123.8 L137.9 125.6 L136.6 127.5 L137.2 129.4 L138.2 131.3 L138.2 133.1 L137.5 135.0 L137.8 136.9 L138.6 138.7 L138.4 140.6 L138.7 142.5 L138.1 144.3 L138.1 146.2 L137.5 148.1 L138.4 150.0 L138.2 151.8 L137.4 153.7 L138.4 155.6 L138.3 157.4 L140.4 159.3 L140.1 161.2 L140.9 163.0 L141.5 164.9 L142.6 166.8 L144.4 168.7 L143.8 170.5 L142.8 172.4 L143.8 174.3 L142.1 176.1 L142.3 178.0 L141.4 179.9 L139.3 181.7 L138.4 183.6 L138.7 185.5 L137.5 187.4 L137.8 189.2 L136.0 191.1 L136.0 193.0 L135.1 194.8 L134.2 196.7 L134.0 198.6 L132.0 200.4 L132.2 202.3 L131.7 204.2 L131.0 206.1 L129.4 207.9 L129.5 209.8 L127.0 211.7 L126.5 213.5 L125.7 215.4 L124.1 217.3 L124.0 219.1 L121.8 221.0 L121.7 222.9 L119.7 224.8 L119.4 226.6 L119.2 228.5 L116.7 230.4 L116.9 232.2 L116.5 234.1 L115.5 236.0 L114.1 237.8 L114.6 239.7 L114.4 241.6 L113.8 243.5 L114.1 245.3 L115.2 247.2 L114.2 249.1 L112.6 250.9 L112.2 252.8 L111.9 254.7 L107.8 256.5 L110.4 258.4 L113.6 260.3 L117.9 262.2 L120.7 264.0 L116.8 265.9 L113.6 267.8 L110.8 269.6 L108.8 271.5 L106.9 273.4 L106.4 275.2 L105.1 277.1 L102.1 279.0 L101.3 280.9 L99.6 282.7 L98.4 284.6 L95.8 286.5 L95.6 288.3 L94.0 290.2 L91.9 292.1 L90.8 293.9 L89.7 295.8 L88.4 297.7 L86.7 299.6 L86.7 301.4 L85.0 303.3" fill="none" stroke="#3a79ac" stroke-width="1.0" stroke-linejoin="round"/><rect x="140.8" y="64.5" width="2.6" height="2.6" fill="#2b6896"/><rect x="141.2" y="66.4" width="2.6" height="2.6" fill="#2b6896"/><rect x="140.2" y="68.2" width="2.6" height="2.6" fill="#2b6896"/><rect x="140.2" y="70.1" width="2.6" height="2.6" fill="#2b6896"/><rect x="139.2" y="72.0" width="2.6" height="2.6" fill="#2b6896"/><rect x="139.5" y="73.9" width="2.6" height="2.6" fill="#2b6896"/><rect x="139.2" y="75.7" width="2.6" height="2.6" fill="#2b6896"/><rect x="139.6" y="77.6" width="2.6" height="2.6" fill="#2b6896"/><rect x="140.6" y="79.5" width="2.6" height="2.6" fill="#2b6896"/><rect x="141.8" y="81.3" width="2.6" height="2.6" fill="#2b6896"/><rect x="140.6" y="83.2" width="2.6" height="2.6" fill="#2b6896"/><rect x="142.6" y="85.1" width="2.6" height="2.6" fill="#2b6896"/><rect x="141.9" y="86.9" width="2.6" height="2.6" fill="#2b6896"/><rect x="143.2" y="88.8" width="2.6" height="2.6" fill="#2b6896"/><rect x="142.8" y="90.7" width="2.6" height="2.6" fill="#2b6896"/><rect x="143.9" y="92.6" width="2.6" height="2.6" fill="#2b6896"/><rect x="143.8" y="94.4" width="2.6" height="2.6" fill="#2b6896"/><rect x="145.6" y="96.3" width="2.6" height="2.6" fill="#2b6896"/><rect x="146.0" y="98.2" width="2.6" height="2.6" fill="#2b6896"/><rect x="145.2" y="100.0" width="2.6" height="2.6" fill="#2b6896"/><rect x="143.6" y="101.9" width="2.6" height="2.6" fill="#2b6896"/><rect x="143.2" y="103.8" width="2.6" height="2.6" fill="#2b6896"/><rect x="142.4" y="105.6" width="2.6" height="2.6" fill="#2b6896"/><rect x="142.8" y="107.5" width="2.6" height="2.6" fill="#2b6896"/><rect x="141.8" y="109.4" width="2.6" height="2.6" fill="#2b6896"/><rect x="141.0" y="111.3" width="2.6" height="2.6" fill="#2b6896"/><rect x="139.0" y="113.1" width="2.6" height="2.6" fill="#2b6896"/><rect x="136.3" y="115.0" width="2.6" height="2.6" fill="#2b6896"/><rect x="137.2" y="116.9" width="2.6" height="2.6" fill="#2b6896"/><rect x="135.4" y="118.7" width="2.6" height="2.6" fill="#2b6896"/><rect x="136.3" y="120.6" width="2.6" height="2.6" fill="#2b6896"/><rect x="136.0" y="122.5" width="2.6" height="2.6" fill="#2b6896"/><rect x="136.6" y="124.3" width="2.6" height="2.6" fill="#2b6896"/><rect x="135.3" y="126.2" width="2.6" height="2.6" fill="#2b6896"/><rect x="135.9" y="128.1" width="2.6" height="2.6" fill="#2b6896"/><rect x="136.9" y="130.0" width="2.6" height="2.6" fill="#2b6896"/><rect x="136.9" y="131.8" width="2.6" height="2.6" fill="#2b6896"/><rect x="136.2" y="133.7" width="2.6" height="2.6" fill="#2b6896"/><rect x="136.5" y="135.6" width="2.6" height="2.6" fill="#2b6896"/><rect x="137.3" y="137.4" width="2.6" height="2.6" fill="#2b6896"/><rect x="137.1" y="139.3" width="2.6" height="2.6" fill="#2b6896"/><rect x="137.4" y="141.2" width="2.6" height="2.6" fill="#2b6896"/><rect x="136.8" y="143.0" width="2.6" height="2.6" fill="#2b6896"/><rect x="136.8" y="144.9" width="2.6" height="2.6" fill="#2b6896"/><rect x="136.2" y="146.8" width="2.6" height="2.6" fill="#2b6896"/><rect x="137.1" y="148.7" width="2.6" height="2.6" fill="#2b6896"/><rect x="136.9" y="150.5" width="2.6" height="2.6" fill="#2b6896"/><rect x="136.1" y="152.4" width="2.6" height="2.6" fill="#2b6896"/><rect x="137.1" y="154.3" width="2.6" height="2.6" fill="#2b6896"/><rect x="137.0" y="156.1" width="2.6" height="2.6" fill="#2b6896"/><rect x="139.1" y="158.0" width="2.6" height="2.6" fill="#2b6896"/><rect x="138.8" y="159.9" width="2.6" height="2.6" fill="#2b6896"/><rect x="139.6" y="161.7" width="2.6" height="2.6" fill="#2b6896"/><rect x="140.2" y="163.6" width="2.6" height="2.6" fill="#2b6896"/><rect x="141.3" y="165.5" width="2.6" height="2.6" fill="#2b6896"/><rect x="143.1" y="167.4" width="2.6" height="2.6" fill="#2b6896"/><rect x="142.5" y="169.2" width="2.6" height="2.6" fill="#2b6896"/><rect x="141.5" y="171.1" width="2.6" height="2.6" fill="#2b6896"/><rect x="142.5" y="173.0" width="2.6" height="2.6" fill="#2b6896"/><rect x="140.8" y="174.8" width="2.6" height="2.6" fill="#2b6896"/><rect x="141.0" y="176.7" width="2.6" height="2.6" fill="#2b6896"/><rect x="140.1" y="178.6" width="2.6" height="2.6" fill="#2b6896"/><rect x="138.0" y="180.4" width="2.6" height="2.6" fill="#2b6896"/><rect x="137.1" y="182.3" width="2.6" height="2.6" fill="#2b6896"/><rect x="137.4" y="184.2" width="2.6" height="2.6" fill="#2b6896"/><rect x="136.2" y="186.1" width="2.6" height="2.6" fill="#2b6896"/><rect x="136.5" y="187.9" width="2.6" height="2.6" fill="#2b6896"/><rect x="134.7" y="189.8" width="2.6" height="2.6" fill="#2b6896"/><rect x="134.7" y="191.7" width="2.6" height="2.6" fill="#2b6896"/><rect x="133.8" y="193.5" width="2.6" height="2.6" fill="#2b6896"/><rect x="132.9" y="195.4" width="2.6" height="2.6" fill="#2b6896"/><rect x="132.7" y="197.3" width="2.6" height="2.6" fill="#2b6896"/><rect x="130.7" y="199.1" width="2.6" height="2.6" fill="#2b6896"/><rect x="130.9" y="201.0" width="2.6" height="2.6" fill="#2b6896"/><rect x="130.4" y="202.9" width="2.6" height="2.6" fill="#2b6896"/><rect x="129.7" y="204.8" width="2.6" height="2.6" fill="#2b6896"/><rect x="128.1" y="206.6" width="2.6" height="2.6" fill="#2b6896"/><rect x="128.2" y="208.5" width="2.6" height="2.6" fill="#2b6896"/><rect x="125.7" y="210.4" width="2.6" height="2.6" fill="#2b6896"/><rect x="125.2" y="212.2" width="2.6" height="2.6" fill="#2b6896"/><rect x="124.4" y="214.1" width="2.6" height="2.6" fill="#2b6896"/><rect x="122.8" y="216.0" width="2.6" height="2.6" fill="#2b6896"/><rect x="122.7" y="217.8" width="2.6" height="2.6" fill="#2b6896"/><rect x="120.5" y="219.7" width="2.6" height="2.6" fill="#2b6896"/><rect x="120.4" y="221.6" width="2.6" height="2.6" fill="#2b6896"/><rect x="118.4" y="223.5" width="2.6" height="2.6" fill="#2b6896"/><rect x="118.1" y="225.3" width="2.6" height="2.6" fill="#2b6896"/><rect x="117.9" y="227.2" width="2.6" height="2.6" fill="#2b6896"/><rect x="115.4" y="229.1" width="2.6" height="2.6" fill="#2b6896"/><rect x="115.6" y="230.9" width="2.6" height="2.6" fill="#2b6896"/><rect x="115.2" y="232.8" width="2.6" height="2.6" fill="#2b6896"/><rect x="114.2" y="234.7" width="2.6" height="2.6" fill="#2b6896"/><rect x="112.8" y="236.5" width="2.6" height="2.6" fill="#2b6896"/><rect x="113.3" y="238.4" width="2.6" height="2.6" fill="#2b6896"/><rect x="113.1" y="240.3" width="2.6" height="2.6" fill="#2b6896"/><rect x="112.5" y="242.2" width="2.6" height="2.6" fill="#2b6896"/><rect x="112.8" y="244.0" width="2.6" height="2.6" fill="#2b6896"/><rect x="113.9" y="245.9" width="2.6" height="2.6" fill="#2b6896"/><rect x="112.9" y="247.8" width="2.6" height="2.6" fill="#2b6896"/><rect x="111.3" y="249.6" width="2.6" height="2.6" fill="#2b6896"/><rect x="110.9" y="251.5" width="2.6" height="2.6" fill="#2b6896"/><rect x="110.6" y="253.4" width="2.6" height="2.6" fill="#2b6896"/><rect x="106.5" y="255.2" width="2.6" height="2.6" fill="#2b6896"/><rect x="109.1" y="257.1" width="2.6" height="2.6" fill="#2b6896"/><rect x="112.3" y="259.0" width="2.6" height="2.6" fill="#2b6896"/><rect x="116.6" y="260.9" width="2.6" height="2.6" fill="#2b6896"/><rect x="119.4" y="262.7" width="2.6" height="2.6" fill="#2b6896"/><rect x="115.5" y="264.6" width="2.6" height="2.6" fill="#2b6896"/><rect x="112.3" y="266.5" width="2.6" height="2.6" fill="#2b6896"/><rect x="109.5" y="268.3" width="2.6" height="2.6" fill="#2b6896"/><rect x="107.5" y="270.2" width="2.6" height="2.6" fill="#2b6896"/><rect x="105.6" y="272.1" width="2.6" height="2.6" fill="#2b6896"/><rect x="105.1" y="273.9" width="2.6" height="2.6" fill="#2b6896"/><rect x="103.8" y="275.8" width="2.6" height="2.6" fill="#2b6896"/><rect x="100.8" y="277.7" width="2.6" height="2.6" fill="#2b6896"/><rect x="100.0" y="279.6" width="2.6" height="2.6" fill="#2b6896"/><rect x="98.3" y="281.4" width="2.6" height="2.6" fill="#2b6896"/><rect x="97.1" y="283.3" width="2.6" height="2.6" fill="#2b6896"/><rect x="94.5" y="285.2" width="2.6" height="2.6" fill="#2b6896"/><rect x="94.3" y="287.0" width="2.6" height="2.6" fill="#2b6896"/><rect x="92.7" y="288.9" width="2.6" height="2.6" fill="#2b6896"/><rect x="90.6" y="290.8" width="2.6" height="2.6" fill="#2b6896"/><rect x="89.5" y="292.6" width="2.6" height="2.6" fill="#2b6896"/><rect x="88.4" y="294.5" width="2.6" height="2.6" fill="#2b6896"/><rect x="87.1" y="296.4" width="2.6" height="2.6" fill="#2b6896"/><rect x="85.4" y="298.3" width="2.6" height="2.6" fill="#2b6896"/><rect x="85.4" y="300.1" width="2.6" height="2.6" fill="#2b6896"/><rect x="83.7" y="302.0" width="2.6" height="2.6" fill="#2b6896"/></g><g><path d="M158.4 65.8 L159.5 68.6 L156.9 71.4 L156.3 74.2 L154.7 77.0 L154.0 79.8 L154.9 82.6 L155.0 85.4 L156.0 88.2 L156.9 91.0 L157.1 93.8 L158.2 96.6 L156.1 99.4 L155.2 102.2 L154.2 105.0 L153.7 107.8 L152.9 110.6 L150.1 113.4 L147.6 116.2 L147.7 119.0 L147.8 121.8 L146.5 124.6 L147.2 127.4 L146.8 130.2 L147.2 133.0 L148.8 135.8 L151.4 138.6 L151.4 141.4 L153.6 144.2 L149.6 147.0 L146.5 149.8 L145.2 152.6 L145.4 155.4 L144.8 158.2 L145.1 161.0 L145.9 163.8 L147.2 166.6 L149.3 169.4 L148.5 172.2 L145.6 175.0 L144.6 177.8 L142.7 180.6 L140.9 183.4 L139.3 186.2 L139.8 189.0 L138.9 191.8 L137.1 194.6 L135.7 197.4 L134.0 200.2 L134.4 203.0 L132.5 205.8 L131.7 208.6 L131.1 211.4 L129.9 214.2 L131.1 217.0 L131.7 219.8 L132.9 222.6 L132.9 225.4 L131.5 228.2 L130.8 231.0 L127.6 233.8 L123.7 236.6 L123.1 239.4 L121.8 242.2 L122.6 245.0 L122.7 247.8 L121.8 250.6 L120.3 253.4 L117.4 256.2 L121.9 259.0 L130.7 261.8 L124.2 264.6 L119.8 267.4 L116.7 270.2 L113.2 273.0 L114.1 275.8 L111.1 278.6 L107.7 281.4 L105.4 284.2 L104.1 287.0 L101.7 289.8 L101.4 292.6 L99.2 295.4 L96.0 298.2 L93.6 301.0 L89.9 303.8" fill="none" stroke="#e0791c" stroke-width="1.2" stroke-linejoin="round" stroke-dasharray="1.2 2"/><circle cx="158.4" cy="65.8" r="2.5" fill="#d46e16"/><circle cx="159.5" cy="68.6" r="2.5" fill="#d46e16"/><circle cx="156.9" cy="71.4" r="2.5" fill="#d46e16"/><circle cx="156.3" cy="74.2" r="2.5" fill="#d46e16"/><circle cx="154.7" cy="77.0" r="2.5" fill="#d46e16"/><circle cx="154.0" cy="79.8" r="2.5" fill="#d46e16"/><circle cx="154.9" cy="82.6" r="2.5" fill="#d46e16"/><circle cx="155.0" cy="85.4" r="2.5" fill="#d46e16"/><circle cx="156.0" cy="88.2" r="2.5" fill="#d46e16"/><circle cx="156.9" cy="91.0" r="2.5" fill="#d46e16"/><circle cx="157.1" cy="93.8" r="2.5" fill="#d46e16"/><circle cx="158.2" cy="96.6" r="2.5" fill="#d46e16"/><circle cx="156.1" cy="99.4" r="2.5" fill="#d46e16"/><circle cx="155.2" cy="102.2" r="2.5" fill="#d46e16"/><circle cx="154.2" cy="105.0" r="2.5" fill="#d46e16"/><circle cx="153.7" cy="107.8" r="2.5" fill="#d46e16"/><circle cx="152.9" cy="110.6" r="2.5" fill="#d46e16"/><circle cx="150.1" cy="113.4" r="2.5" fill="#d46e16"/><circle cx="147.6" cy="116.2" r="2.5" fill="#d46e16"/><circle cx="147.7" cy="119.0" r="2.5" fill="#d46e16"/><circle cx="147.8" cy="121.8" r="2.5" fill="#d46e16"/><circle cx="146.5" cy="124.6" r="2.5" fill="#d46e16"/><circle cx="147.2" cy="127.4" r="2.5" fill="#d46e16"/><circle cx="146.8" cy="130.2" r="2.5" fill="#d46e16"/><circle cx="147.2" cy="133.0" r="2.5" fill="#d46e16"/><circle cx="148.8" cy="135.8" r="2.5" fill="#d46e16"/><circle cx="151.4" cy="138.6" r="2.5" fill="#d46e16"/><circle cx="151.4" cy="141.4" r="2.5" fill="#d46e16"/><circle cx="153.6" cy="144.2" r="2.5" fill="#d46e16"/><circle cx="149.6" cy="147.0" r="2.5" fill="#d46e16"/><circle cx="146.5" cy="149.8" r="2.5" fill="#d46e16"/><circle cx="145.2" cy="152.6" r="2.5" fill="#d46e16"/><circle cx="145.4" cy="155.4" r="2.5" fill="#d46e16"/><circle cx="144.8" cy="158.2" r="2.5" fill="#d46e16"/><circle cx="145.1" cy="161.0" r="2.5" fill="#d46e16"/><circle cx="145.9" cy="163.8" r="2.5" fill="#d46e16"/><circle cx="147.2" cy="166.6" r="2.5" fill="#d46e16"/><circle cx="149.3" cy="169.4" r="2.5" fill="#d46e16"/><circle cx="148.5" cy="172.2" r="2.5" fill="#d46e16"/><circle cx="145.6" cy="175.0" r="2.5" fill="#d46e16"/><circle cx="144.6" cy="177.8" r="2.5" fill="#d46e16"/><circle cx="142.7" cy="180.6" r="2.5" fill="#d46e16"/><circle cx="140.9" cy="183.4" r="2.5" fill="#d46e16"/><circle cx="139.3" cy="186.2" r="2.5" fill="#d46e16"/><circle cx="139.8" cy="189.0" r="2.5" fill="#d46e16"/><circle cx="138.9" cy="191.8" r="2.5" fill="#d46e16"/><circle cx="137.1" cy="194.6" r="2.5" fill="#d46e16"/><circle cx="135.7" cy="197.4" r="2.5" fill="#d46e16"/><circle cx="134.0" cy="200.2" r="2.5" fill="#d46e16"/><circle cx="134.4" cy="203.0" r="2.5" fill="#d46e16"/><circle cx="132.5" cy="205.8" r="2.5" fill="#d46e16"/><circle cx="131.7" cy="208.6" r="2.5" fill="#d46e16"/><circle cx="131.1" cy="211.4" r="2.5" fill="#d46e16"/><circle cx="129.9" cy="214.2" r="2.5" fill="#d46e16"/><circle cx="131.1" cy="217.0" r="2.5" fill="#d46e16"/><circle cx="131.7" cy="219.8" r="2.5" fill="#d46e16"/><circle cx="132.9" cy="222.6" r="2.5" fill="#d46e16"/><circle cx="132.9" cy="225.4" r="2.5" fill="#d46e16"/><circle cx="131.5" cy="228.2" r="2.5" fill="#d46e16"/><circle cx="130.8" cy="231.0" r="2.5" fill="#d46e16"/><circle cx="127.6" cy="233.8" r="2.5" fill="#d46e16"/><circle cx="123.7" cy="236.6" r="2.5" fill="#d46e16"/><circle cx="123.1" cy="239.4" r="2.5" fill="#d46e16"/><circle cx="121.8" cy="242.2" r="2.5" fill="#d46e16"/><circle cx="122.6" cy="245.0" r="2.5" fill="#d46e16"/><circle cx="122.7" cy="247.8" r="2.5" fill="#d46e16"/><circle cx="121.8" cy="250.6" r="2.5" fill="#d46e16"/><circle cx="120.3" cy="253.4" r="2.5" fill="#d46e16"/><circle cx="117.4" cy="256.2" r="2.5" fill="#d46e16"/><circle cx="121.9" cy="259.0" r="2.5" fill="#d46e16"/><circle cx="130.7" cy="261.8" r="2.5" fill="#d46e16"/><circle cx="124.2" cy="264.6" r="2.5" fill="#d46e16"/><circle cx="119.8" cy="267.4" r="2.5" fill="#d46e16"/><circle cx="116.7" cy="270.2" r="2.5" fill="#d46e16"/><circle cx="113.2" cy="273.0" r="2.5" fill="#d46e16"/><circle cx="114.1" cy="275.8" r="2.5" fill="#d46e16"/><circle cx="111.1" cy="278.6" r="2.5" fill="#d46e16"/><circle cx="107.7" cy="281.4" r="2.5" fill="#d46e16"/><circle cx="105.4" cy="284.2" r="2.5" fill="#d46e16"/><circle cx="104.1" cy="287.0" r="2.5" fill="#d46e16"/><circle cx="101.7" cy="289.8" r="2.5" fill="#d46e16"/><circle cx="101.4" cy="292.6" r="2.5" fill="#d46e16"/><circle cx="99.2" cy="295.4" r="2.5" fill="#d46e16"/><circle cx="96.0" cy="298.2" r="2.5" fill="#d46e16"/><circle cx="93.6" cy="301.0" r="2.5" fill="#d46e16"/><circle cx="89.9" cy="303.8" r="2.5" fill="#d46e16"/></g><g><path d="M137.4 66.0 L137.1 67.9 L136.3 69.7 L135.2 71.6 L134.8 73.5 L134.1 75.4 L134.3 77.2 L130.3 79.1 L132.1 81.0 L128.8 82.8 L130.8 84.7 L130.1 86.6 L131.2 88.4 L131.5 90.3 L132.5 92.2 L133.2 94.1 L134.1 95.9 L134.4 97.8 L133.4 99.7 L134.0 101.5 L134.8 103.4 L133.4 105.3 L133.4 107.1 L133.5 109.0 L134.0 110.9 L134.5 112.8 L132.2 114.6 L132.5 116.5 L132.4 118.4 L131.7 120.2 L131.0 122.1 L132.4 124.0 L131.9 125.8 L130.5 127.7 L128.8 129.6 L127.9 131.5 L127.3 133.3 L128.7 135.2 L131.3 137.1 L129.2 138.9 L128.3 140.8 L128.3 142.7 L126.2 144.5 L126.6 146.4 L128.5 148.3 L127.8 150.2 L129.2 152.0 L129.3 153.9 L128.2 155.8 L127.2 157.6 L125.0 159.5 L121.3 161.4 L119.2 163.2 L117.8 165.1 L117.6 167.0 L119.3 168.9 L120.9 170.7 L121.8 172.6 L123.5 174.5 L125.0 176.3 L125.2 178.2 L126.8 180.1 L130.2 181.9 L129.8 183.8 L129.4 185.7 L127.9 187.6 L126.8 189.4 L125.5 191.3 L125.6 193.2 L126.3 195.0 L124.7 196.9 L124.2 198.8 L122.5 200.6 L119.8 202.5 L119.6 204.4 L118.4 206.3 L118.2 208.1 L119.1 210.0 L118.2 211.9 L118.1 213.7 L116.6 215.6 L116.3 217.5 L115.1 219.3 L115.6 221.2 L116.5 223.1 L115.5 225.0 L115.5 226.8 L115.6 228.7 L114.8 230.6 L114.7 232.4 L114.4 234.3 L114.1 236.2 L113.1 238.0 L112.8 239.9 L113.3 241.8 L112.7 243.7 L114.2 245.5 L113.9 247.4 L111.8 249.3 L109.3 251.1 L107.5 253.0 L101.7 254.9 L93.4 256.7 L87.6 258.6 L92.1 260.5 L99.7 262.4 L95.6 264.2 L92.8 266.1 L93.0 268.0 L98.3 269.8 L98.0 271.7 L97.1 273.6 L96.1 275.4 L95.2 277.3 L93.2 279.2 L91.9 281.1 L90.8 282.9 L90.4 284.8 L89.9 286.7 L88.5 288.5 L87.8 290.4 L88.4 292.3 L87.6 294.1 L86.8 296.0 L85.9 297.9 L85.3 299.8 L84.5 301.6" fill="none" stroke="#4a80c8" stroke-width="1.0" stroke-linejoin="round"/><path d="M135.7 66.0H139.1M137.4 64.3V67.7" stroke="#4478c0" stroke-width="1.1" fill="none"/><path d="M135.4 67.9H138.8M137.1 66.2V69.6" stroke="#4478c0" stroke-width="1.1" fill="none"/><path d="M134.6 69.7H138.0M136.3 68.0V71.4" stroke="#4478c0" stroke-width="1.1" fill="none"/><path d="M133.5 71.6H136.9M135.2 69.9V73.3" stroke="#4478c0" stroke-width="1.1" fill="none"/><path d="M133.1 73.5H136.5M134.8 71.8V75.2" stroke="#4478c0" stroke-width="1.1" fill="none"/><path d="M132.4 75.4H135.8M134.1 73.7V77.1" stroke="#4478c0" stroke-width="1.1" fill="none"/><path d="M132.6 77.2H136.0M134.3 75.5V78.9" stroke="#4478c0" stroke-width="1.1" fill="none"/><path d="M128.6 79.1H132.0M130.3 77.4V80.8" stroke="#4478c0" stroke-width="1.1" fill="none"/><path d="M130.4 81.0H133.8M132.1 79.3V82.7" stroke="#4478c0" stroke-width="1.1" fill="none"/><path d="M127.1 82.8H130.5M128.8 81.1V84.5" stroke="#4478c0" stroke-width="1.1" fill="none"/><path d="M129.1 84.7H132.5M130.8 83.0V86.4" stroke="#4478c0" stroke-width="1.1" fill="none"/><path d="M128.4 86.6H131.8M130.1 84.9V88.3" stroke="#4478c0" stroke-width="1.1" fill="none"/><path d="M129.5 88.4H132.9M131.2 86.7V90.1" stroke="#4478c0" stroke-width="1.1" fill="none"/><path d="M129.8 90.3H133.2M131.5 88.6V92.0" stroke="#4478c0" stroke-width="1.1" fill="none"/><path d="M130.8 92.2H134.2M132.5 90.5V93.9" stroke="#4478c0" stroke-width="1.1" fill="none"/><path d="M131.5 94.1H134.9M133.2 92.4V95.8" stroke="#4478c0" stroke-width="1.1" fill="none"/><path d="M132.4 95.9H135.8M134.1 94.2V97.6" stroke="#4478c0" stroke-width="1.1" fill="none"/><path d="M132.7 97.8H136.1M134.4 96.1V99.5" stroke="#4478c0" stroke-width="1.1" fill="none"/><path d="M131.7 99.7H135.1M133.4 98.0V101.4" stroke="#4478c0" stroke-width="1.1" fill="none"/><path d="M132.3 101.5H135.7M134.0 99.8V103.2" stroke="#4478c0" stroke-width="1.1" fill="none"/><path d="M133.1 103.4H136.5M134.8 101.7V105.1" stroke="#4478c0" stroke-width="1.1" fill="none"/><path d="M131.7 105.3H135.1M133.4 103.6V107.0" stroke="#4478c0" stroke-width="1.1" fill="none"/><path d="M131.7 107.1H135.1M133.4 105.4V108.8" stroke="#4478c0" stroke-width="1.1" fill="none"/><path d="M131.8 109.0H135.2M133.5 107.3V110.7" stroke="#4478c0" stroke-width="1.1" fill="none"/><path d="M132.3 110.9H135.7M134.0 109.2V112.6" stroke="#4478c0" stroke-width="1.1" fill="none"/><path d="M132.8 112.8H136.2M134.5 111.1V114.5" stroke="#4478c0" stroke-width="1.1" fill="none"/><path d="M130.5 114.6H133.9M132.2 112.9V116.3" stroke="#4478c0" stroke-width="1.1" fill="none"/><path d="M130.8 116.5H134.2M132.5 114.8V118.2" stroke="#4478c0" stroke-width="1.1" fill="none"/><path d="M130.7 118.4H134.1M132.4 116.7V120.1" stroke="#4478c0" stroke-width="1.1" fill="none"/><path d="M130.0 120.2H133.4M131.7 118.5V121.9" stroke="#4478c0" stroke-width="1.1" fill="none"/><path d="M129.3 122.1H132.7M131.0 120.4V123.8" stroke="#4478c0" stroke-width="1.1" fill="none"/><path d="M130.7 124.0H134.1M132.4 122.3V125.7" stroke="#4478c0" stroke-width="1.1" fill="none"/><path d="M130.2 125.8H133.6M131.9 124.1V127.5" stroke="#4478c0" stroke-width="1.1" fill="none"/><path d="M128.8 127.7H132.2M130.5 126.0V129.4" stroke="#4478c0" stroke-width="1.1" fill="none"/><path d="M127.1 129.6H130.5M128.8 127.9V131.3" stroke="#4478c0" stroke-width="1.1" fill="none"/><path d="M126.2 131.5H129.6M127.9 129.8V133.2" stroke="#4478c0" stroke-width="1.1" fill="none"/><path d="M125.6 133.3H129.0M127.3 131.6V135.0" stroke="#4478c0" stroke-width="1.1" fill="none"/><path d="M127.0 135.2H130.4M128.7 133.5V136.9" stroke="#4478c0" stroke-width="1.1" fill="none"/><path d="M129.6 137.1H133.0M131.3 135.4V138.8" stroke="#4478c0" stroke-width="1.1" fill="none"/><path d="M127.5 138.9H130.9M129.2 137.2V140.6" stroke="#4478c0" stroke-width="1.1" fill="none"/><path d="M126.6 140.8H130.0M128.3 139.1V142.5" stroke="#4478c0" stroke-width="1.1" fill="none"/><path d="M126.6 142.7H130.0M128.3 141.0V144.4" stroke="#4478c0" stroke-width="1.1" fill="none"/><path d="M124.5 144.5H127.9M126.2 142.8V146.2" stroke="#4478c0" stroke-width="1.1" fill="none"/><path d="M124.9 146.4H128.3M126.6 144.7V148.1" stroke="#4478c0" stroke-width="1.1" fill="none"/><path d="M126.8 148.3H130.2M128.5 146.6V150.0" stroke="#4478c0" stroke-width="1.1" fill="none"/><path d="M126.1 150.2H129.5M127.8 148.5V151.9" stroke="#4478c0" stroke-width="1.1" fill="none"/><path d="M127.5 152.0H130.9M129.2 150.3V153.7" stroke="#4478c0" stroke-width="1.1" fill="none"/><path d="M127.6 153.9H131.0M129.3 152.2V155.6" stroke="#4478c0" stroke-width="1.1" fill="none"/><path d="M126.5 155.8H129.9M128.2 154.1V157.5" stroke="#4478c0" stroke-width="1.1" fill="none"/><path d="M125.5 157.6H128.9M127.2 155.9V159.3" stroke="#4478c0" stroke-width="1.1" fill="none"/><path d="M123.3 159.5H126.7M125.0 157.8V161.2" stroke="#4478c0" stroke-width="1.1" fill="none"/><path d="M119.6 161.4H123.0M121.3 159.7V163.1" stroke="#4478c0" stroke-width="1.1" fill="none"/><path d="M117.5 163.2H120.9M119.2 161.5V164.9" stroke="#4478c0" stroke-width="1.1" fill="none"/><path d="M116.1 165.1H119.5M117.8 163.4V166.8" stroke="#4478c0" stroke-width="1.1" fill="none"/><path d="M115.9 167.0H119.3M117.6 165.3V168.7" stroke="#4478c0" stroke-width="1.1" fill="none"/><path d="M117.6 168.9H121.0M119.3 167.2V170.6" stroke="#4478c0" stroke-width="1.1" fill="none"/><path d="M119.2 170.7H122.6M120.9 169.0V172.4" stroke="#4478c0" stroke-width="1.1" fill="none"/><path d="M120.1 172.6H123.5M121.8 170.9V174.3" stroke="#4478c0" stroke-width="1.1" fill="none"/><path d="M121.8 174.5H125.2M123.5 172.8V176.2" stroke="#4478c0" stroke-width="1.1" fill="none"/><path d="M123.3 176.3H126.7M125.0 174.6V178.0" stroke="#4478c0" stroke-width="1.1" fill="none"/><path d="M123.5 178.2H126.9M125.2 176.5V179.9" stroke="#4478c0" stroke-width="1.1" fill="none"/><path d="M125.1 180.1H128.5M126.8 178.4V181.8" stroke="#4478c0" stroke-width="1.1" fill="none"/><path d="M128.5 181.9H131.9M130.2 180.2V183.6" stroke="#4478c0" stroke-width="1.1" fill="none"/><path d="M128.1 183.8H131.5M129.8 182.1V185.5" stroke="#4478c0" stroke-width="1.1" fill="none"/><path d="M127.7 185.7H131.1M129.4 184.0V187.4" stroke="#4478c0" stroke-width="1.1" fill="none"/><path d="M126.2 187.6H129.6M127.9 185.9V189.3" stroke="#4478c0" stroke-width="1.1" fill="none"/><path d="M125.1 189.4H128.5M126.8 187.7V191.1" stroke="#4478c0" stroke-width="1.1" fill="none"/><path d="M123.8 191.3H127.2M125.5 189.6V193.0" stroke="#4478c0" stroke-width="1.1" fill="none"/><path d="M123.9 193.2H127.3M125.6 191.5V194.9" stroke="#4478c0" stroke-width="1.1" fill="none"/><path d="M124.6 195.0H128.0M126.3 193.3V196.7" stroke="#4478c0" stroke-width="1.1" fill="none"/><path d="M123.0 196.9H126.4M124.7 195.2V198.6" stroke="#4478c0" stroke-width="1.1" fill="none"/><path d="M122.5 198.8H125.9M124.2 197.1V200.5" stroke="#4478c0" stroke-width="1.1" fill="none"/><path d="M120.8 200.6H124.2M122.5 198.9V202.3" stroke="#4478c0" stroke-width="1.1" fill="none"/><path d="M118.1 202.5H121.5M119.8 200.8V204.2" stroke="#4478c0" stroke-width="1.1" fill="none"/><path d="M117.9 204.4H121.3M119.6 202.7V206.1" stroke="#4478c0" stroke-width="1.1" fill="none"/><path d="M116.7 206.3H120.1M118.4 204.6V208.0" stroke="#4478c0" stroke-width="1.1" fill="none"/><path d="M116.5 208.1H119.9M118.2 206.4V209.8" stroke="#4478c0" stroke-width="1.1" fill="none"/><path d="M117.4 210.0H120.8M119.1 208.3V211.7" stroke="#4478c0" stroke-width="1.1" fill="none"/><path d="M116.5 211.9H119.9M118.2 210.2V213.6" stroke="#4478c0" stroke-width="1.1" fill="none"/><path d="M116.4 213.7H119.8M118.1 212.0V215.4" stroke="#4478c0" stroke-width="1.1" fill="none"/><path d="M114.9 215.6H118.3M116.6 213.9V217.3" stroke="#4478c0" stroke-width="1.1" fill="none"/><path d="M114.6 217.5H118.0M116.3 215.8V219.2" stroke="#4478c0" stroke-width="1.1" fill="none"/><path d="M113.4 219.3H116.8M115.1 217.6V221.0" stroke="#4478c0" stroke-width="1.1" fill="none"/><path d="M113.9 221.2H117.3M115.6 219.5V222.9" stroke="#4478c0" stroke-width="1.1" fill="none"/><path d="M114.8 223.1H118.2M116.5 221.4V224.8" stroke="#4478c0" stroke-width="1.1" fill="none"/><path d="M113.8 225.0H117.2M115.5 223.3V226.7" stroke="#4478c0" stroke-width="1.1" fill="none"/><path d="M113.8 226.8H117.2M115.5 225.1V228.5" stroke="#4478c0" stroke-width="1.1" fill="none"/><path d="M113.9 228.7H117.3M115.6 227.0V230.4" stroke="#4478c0" stroke-width="1.1" fill="none"/><path d="M113.1 230.6H116.5M114.8 228.9V232.3" stroke="#4478c0" stroke-width="1.1" fill="none"/><path d="M113.0 232.4H116.4M114.7 230.7V234.1" stroke="#4478c0" stroke-width="1.1" fill="none"/><path d="M112.7 234.3H116.1M114.4 232.6V236.0" stroke="#4478c0" stroke-width="1.1" fill="none"/><path d="M112.4 236.2H115.8M114.1 234.5V237.9" stroke="#4478c0" stroke-width="1.1" fill="none"/><path d="M111.4 238.0H114.8M113.1 236.3V239.7" stroke="#4478c0" stroke-width="1.1" fill="none"/><path d="M111.1 239.9H114.5M112.8 238.2V241.6" stroke="#4478c0" stroke-width="1.1" fill="none"/><path d="M111.6 241.8H115.0M113.3 240.1V243.5" stroke="#4478c0" stroke-width="1.1" fill="none"/><path d="M111.0 243.7H114.4M112.7 242.0V245.4" stroke="#4478c0" stroke-width="1.1" fill="none"/><path d="M112.5 245.5H115.9M114.2 243.8V247.2" stroke="#4478c0" stroke-width="1.1" fill="none"/><path d="M112.2 247.4H115.6M113.9 245.7V249.1" stroke="#4478c0" stroke-width="1.1" fill="none"/><path d="M110.1 249.3H113.5M111.8 247.6V251.0" stroke="#4478c0" stroke-width="1.1" fill="none"/><path d="M107.6 251.1H111.0M109.3 249.4V252.8" stroke="#4478c0" stroke-width="1.1" fill="none"/><path d="M105.8 253.0H109.2M107.5 251.3V254.7" stroke="#4478c0" stroke-width="1.1" fill="none"/><path d="M100.0 254.9H103.4M101.7 253.2V256.6" stroke="#4478c0" stroke-width="1.1" fill="none"/><path d="M91.7 256.7H95.1M93.4 255.0V258.4" stroke="#4478c0" stroke-width="1.1" fill="none"/><path d="M85.9 258.6H89.3M87.6 256.9V260.3" stroke="#4478c0" stroke-width="1.1" fill="none"/><path d="M90.4 260.5H93.8M92.1 258.8V262.2" stroke="#4478c0" stroke-width="1.1" fill="none"/><path d="M98.0 262.4H101.4M99.7 260.7V264.1" stroke="#4478c0" stroke-width="1.1" fill="none"/><path d="M93.9 264.2H97.3M95.6 262.5V265.9" stroke="#4478c0" stroke-width="1.1" fill="none"/><path d="M91.1 266.1H94.5M92.8 264.4V267.8" stroke="#4478c0" stroke-width="1.1" fill="none"/><path d="M91.3 268.0H94.7M93.0 266.3V269.7" stroke="#4478c0" stroke-width="1.1" fill="none"/><path d="M96.6 269.8H100.0M98.3 268.1V271.5" stroke="#4478c0" stroke-width="1.1" fill="none"/><path d="M96.3 271.7H99.7M98.0 270.0V273.4" stroke="#4478c0" stroke-width="1.1" fill="none"/><path d="M95.4 273.6H98.8M97.1 271.9V275.3" stroke="#4478c0" stroke-width="1.1" fill="none"/><path d="M94.4 275.4H97.8M96.1 273.7V277.1" stroke="#4478c0" stroke-width="1.1" fill="none"/><path d="M93.5 277.3H96.9M95.2 275.6V279.0" stroke="#4478c0" stroke-width="1.1" fill="none"/><path d="M91.5 279.2H94.9M93.2 277.5V280.9" stroke="#4478c0" stroke-width="1.1" fill="none"/><path d="M90.2 281.1H93.6M91.9 279.4V282.8" stroke="#4478c0" stroke-width="1.1" fill="none"/><path d="M89.1 282.9H92.5M90.8 281.2V284.6" stroke="#4478c0" stroke-width="1.1" fill="none"/><path d="M88.7 284.8H92.1M90.4 283.1V286.5" stroke="#4478c0" stroke-width="1.1" fill="none"/><path d="M88.2 286.7H91.6M89.9 285.0V288.4" stroke="#4478c0" stroke-width="1.1" fill="none"/><path d="M86.8 288.5H90.2M88.5 286.8V290.2" stroke="#4478c0" stroke-width="1.1" fill="none"/><path d="M86.1 290.4H89.5M87.8 288.7V292.1" stroke="#4478c0" stroke-width="1.1" fill="none"/><path d="M86.7 292.3H90.1M88.4 290.6V294.0" stroke="#4478c0" stroke-width="1.1" fill="none"/><path d="M85.9 294.1H89.3M87.6 292.4V295.8" stroke="#4478c0" stroke-width="1.1" fill="none"/><path d="M85.1 296.0H88.5M86.8 294.3V297.7" stroke="#4478c0" stroke-width="1.1" fill="none"/><path d="M84.2 297.9H87.6M85.9 296.2V299.6" stroke="#4478c0" stroke-width="1.1" fill="none"/><path d="M83.6 299.8H87.0M85.3 298.1V301.5" stroke="#4478c0" stroke-width="1.1" fill="none"/><path d="M82.8 301.6H86.2M84.5 299.9V303.3" stroke="#4478c0" stroke-width="1.1" fill="none"/></g><g><path d="M138.3 66.0 L137.2 67.9 L137.2 69.7 L137.8 71.6 L136.5 73.5 L136.4 75.4 L134.5 77.2 L134.4 79.1 L133.7 81.0 L132.7 82.8 L133.2 84.7 L134.6 86.6 L134.1 88.4 L135.2 90.3 L136.1 92.2 L138.1 94.1 L139.1 95.9 L137.5 97.8 L136.9 99.7 L135.0 101.5 L135.0 103.4 L133.0 105.3 L133.3 107.1 L132.0 109.0 L130.2 110.9 L128.4 112.8 L127.2 114.6 L126.6 116.5 L124.5 118.4 L123.6 120.2 L122.5 122.1 L121.5 124.0 L121.2 125.8 L120.1 127.7 L120.8 129.6 L119.5 131.5 L120.4 133.3 L120.2 135.2 L121.6 137.1 L120.7 138.9 L119.7 140.8 L120.5 142.7 L120.5 144.5 L118.9 146.4 L118.5 148.3 L119.5 150.2 L118.5 152.0 L117.1 153.9 L117.2 155.8 L118.5 157.6 L117.3 159.5 L118.3 161.4 L116.6 163.2 L117.5 165.1 L117.2 167.0 L117.1 168.9 L117.4 170.7 L117.2 172.6 L116.9 174.5 L115.9 176.3 L115.7 178.2 L116.1 180.1 L115.4 181.9 L115.2 183.8 L113.6 185.7 L112.5 187.6 L112.5 189.4 L111.2 191.3 L111.8 193.2 L110.7 195.0 L108.0 196.9 L108.4 198.8 L108.2 200.6 L108.9 202.5 L107.5 204.4 L106.6 206.3 L107.0 208.1 L106.7 210.0 L105.8 211.9 L106.0 213.7 L104.9 215.6 L105.1 217.5 L105.9 219.3 L105.5 221.2 L104.1 223.1 L104.9 225.0 L104.4 226.8 L102.4 228.7 L101.9 230.6 L101.4 232.4 L102.5 234.3 L100.5 236.2 L100.8 238.0 L99.8 239.9 L100.8 241.8 L100.2 243.7 L99.6 245.5 L100.9 247.4 L100.4 249.3 L101.6 251.1 L101.8 253.0 L102.3 254.9 L101.4 256.7 L100.3 258.6 L99.6 260.5 L98.1 262.4 L98.2 264.2 L97.9 266.1 L96.0 268.0 L96.0 269.8 L94.9 271.7 L94.8 273.6 L93.7 275.4 L92.5 277.3 L90.7 279.2 L91.4 281.1 L90.7 282.9 L89.0 284.8 L89.4 286.7 L87.9 288.5 L86.8 290.4 L85.9 292.3 L86.4 294.1 L85.5 296.0 L85.5 297.9 L84.6 299.8 L84.1 301.6" fill="none" stroke="#cc6452" stroke-width="1.0" stroke-linejoin="round"/><rect x="137.0" y="65.3" width="2.6" height="1.4" fill="#c04a40"/><rect x="135.9" y="67.2" width="2.6" height="1.4" fill="#c04a40"/><rect x="135.9" y="69.0" width="2.6" height="1.4" fill="#c04a40"/><rect x="136.5" y="70.9" width="2.6" height="1.4" fill="#c04a40"/><rect x="135.2" y="72.8" width="2.6" height="1.4" fill="#c04a40"/><rect x="135.1" y="74.7" width="2.6" height="1.4" fill="#c04a40"/><rect x="133.2" y="76.5" width="2.6" height="1.4" fill="#c04a40"/><rect x="133.1" y="78.4" width="2.6" height="1.4" fill="#c04a40"/><rect x="132.4" y="80.3" width="2.6" height="1.4" fill="#c04a40"/><rect x="131.4" y="82.1" width="2.6" height="1.4" fill="#c04a40"/><rect x="131.9" y="84.0" width="2.6" height="1.4" fill="#c04a40"/><rect x="133.3" y="85.9" width="2.6" height="1.4" fill="#c04a40"/><rect x="132.8" y="87.7" width="2.6" height="1.4" fill="#c04a40"/><rect x="133.9" y="89.6" width="2.6" height="1.4" fill="#c04a40"/><rect x="134.8" y="91.5" width="2.6" height="1.4" fill="#c04a40"/><rect x="136.8" y="93.4" width="2.6" height="1.4" fill="#c04a40"/><rect x="137.8" y="95.2" width="2.6" height="1.4" fill="#c04a40"/><rect x="136.2" y="97.1" width="2.6" height="1.4" fill="#c04a40"/><rect x="135.6" y="99.0" width="2.6" height="1.4" fill="#c04a40"/><rect x="133.7" y="100.8" width="2.6" height="1.4" fill="#c04a40"/><rect x="133.7" y="102.7" width="2.6" height="1.4" fill="#c04a40"/><rect x="131.7" y="104.6" width="2.6" height="1.4" fill="#c04a40"/><rect x="132.0" y="106.4" width="2.6" height="1.4" fill="#c04a40"/><rect x="130.7" y="108.3" width="2.6" height="1.4" fill="#c04a40"/><rect x="128.9" y="110.2" width="2.6" height="1.4" fill="#c04a40"/><rect x="127.1" y="112.1" width="2.6" height="1.4" fill="#c04a40"/><rect x="125.9" y="113.9" width="2.6" height="1.4" fill="#c04a40"/><rect x="125.3" y="115.8" width="2.6" height="1.4" fill="#c04a40"/><rect x="123.2" y="117.7" width="2.6" height="1.4" fill="#c04a40"/><rect x="122.3" y="119.5" width="2.6" height="1.4" fill="#c04a40"/><rect x="121.2" y="121.4" width="2.6" height="1.4" fill="#c04a40"/><rect x="120.2" y="123.3" width="2.6" height="1.4" fill="#c04a40"/><rect x="119.9" y="125.1" width="2.6" height="1.4" fill="#c04a40"/><rect x="118.8" y="127.0" width="2.6" height="1.4" fill="#c04a40"/><rect x="119.5" y="128.9" width="2.6" height="1.4" fill="#c04a40"/><rect x="118.2" y="130.8" width="2.6" height="1.4" fill="#c04a40"/><rect x="119.1" y="132.6" width="2.6" height="1.4" fill="#c04a40"/><rect x="118.9" y="134.5" width="2.6" height="1.4" fill="#c04a40"/><rect x="120.3" y="136.4" width="2.6" height="1.4" fill="#c04a40"/><rect x="119.4" y="138.2" width="2.6" height="1.4" fill="#c04a40"/><rect x="118.4" y="140.1" width="2.6" height="1.4" fill="#c04a40"/><rect x="119.2" y="142.0" width="2.6" height="1.4" fill="#c04a40"/><rect x="119.2" y="143.8" width="2.6" height="1.4" fill="#c04a40"/><rect x="117.6" y="145.7" width="2.6" height="1.4" fill="#c04a40"/><rect x="117.2" y="147.6" width="2.6" height="1.4" fill="#c04a40"/><rect x="118.2" y="149.5" width="2.6" height="1.4" fill="#c04a40"/><rect x="117.2" y="151.3" width="2.6" height="1.4" fill="#c04a40"/><rect x="115.8" y="153.2" width="2.6" height="1.4" fill="#c04a40"/><rect x="115.9" y="155.1" width="2.6" height="1.4" fill="#c04a40"/><rect x="117.2" y="156.9" width="2.6" height="1.4" fill="#c04a40"/><rect x="116.0" y="158.8" width="2.6" height="1.4" fill="#c04a40"/><rect x="117.0" y="160.7" width="2.6" height="1.4" fill="#c04a40"/><rect x="115.3" y="162.5" width="2.6" height="1.4" fill="#c04a40"/><rect x="116.2" y="164.4" width="2.6" height="1.4" fill="#c04a40"/><rect x="115.9" y="166.3" width="2.6" height="1.4" fill="#c04a40"/><rect x="115.8" y="168.2" width="2.6" height="1.4" fill="#c04a40"/><rect x="116.1" y="170.0" width="2.6" height="1.4" fill="#c04a40"/><rect x="115.9" y="171.9" width="2.6" height="1.4" fill="#c04a40"/><rect x="115.6" y="173.8" width="2.6" height="1.4" fill="#c04a40"/><rect x="114.6" y="175.6" width="2.6" height="1.4" fill="#c04a40"/><rect x="114.4" y="177.5" width="2.6" height="1.4" fill="#c04a40"/><rect x="114.8" y="179.4" width="2.6" height="1.4" fill="#c04a40"/><rect x="114.1" y="181.2" width="2.6" height="1.4" fill="#c04a40"/><rect x="113.9" y="183.1" width="2.6" height="1.4" fill="#c04a40"/><rect x="112.3" y="185.0" width="2.6" height="1.4" fill="#c04a40"/><rect x="111.2" y="186.9" width="2.6" height="1.4" fill="#c04a40"/><rect x="111.2" y="188.7" width="2.6" height="1.4" fill="#c04a40"/><rect x="109.9" y="190.6" width="2.6" height="1.4" fill="#c04a40"/><rect x="110.5" y="192.5" width="2.6" height="1.4" fill="#c04a40"/><rect x="109.4" y="194.3" width="2.6" height="1.4" fill="#c04a40"/><rect x="106.7" y="196.2" width="2.6" height="1.4" fill="#c04a40"/><rect x="107.1" y="198.1" width="2.6" height="1.4" fill="#c04a40"/><rect x="106.9" y="199.9" width="2.6" height="1.4" fill="#c04a40"/><rect x="107.6" y="201.8" width="2.6" height="1.4" fill="#c04a40"/><rect x="106.2" y="203.7" width="2.6" height="1.4" fill="#c04a40"/><rect x="105.3" y="205.6" width="2.6" height="1.4" fill="#c04a40"/><rect x="105.7" y="207.4" width="2.6" height="1.4" fill="#c04a40"/><rect x="105.4" y="209.3" width="2.6" height="1.4" fill="#c04a40"/><rect x="104.5" y="211.2" width="2.6" height="1.4" fill="#c04a40"/><rect x="104.7" y="213.0" width="2.6" height="1.4" fill="#c04a40"/><rect x="103.6" y="214.9" width="2.6" height="1.4" fill="#c04a40"/><rect x="103.8" y="216.8" width="2.6" height="1.4" fill="#c04a40"/><rect x="104.6" y="218.6" width="2.6" height="1.4" fill="#c04a40"/><rect x="104.2" y="220.5" width="2.6" height="1.4" fill="#c04a40"/><rect x="102.8" y="222.4" width="2.6" height="1.4" fill="#c04a40"/><rect x="103.6" y="224.3" width="2.6" height="1.4" fill="#c04a40"/><rect x="103.1" y="226.1" width="2.6" height="1.4" fill="#c04a40"/><rect x="101.1" y="228.0" width="2.6" height="1.4" fill="#c04a40"/><rect x="100.6" y="229.9" width="2.6" height="1.4" fill="#c04a40"/><rect x="100.1" y="231.7" width="2.6" height="1.4" fill="#c04a40"/><rect x="101.2" y="233.6" width="2.6" height="1.4" fill="#c04a40"/><rect x="99.2" y="235.5" width="2.6" height="1.4" fill="#c04a40"/><rect x="99.5" y="237.3" width="2.6" height="1.4" fill="#c04a40"/><rect x="98.5" y="239.2" width="2.6" height="1.4" fill="#c04a40"/><rect x="99.5" y="241.1" width="2.6" height="1.4" fill="#c04a40"/><rect x="98.9" y="243.0" width="2.6" height="1.4" fill="#c04a40"/><rect x="98.3" y="244.8" width="2.6" height="1.4" fill="#c04a40"/><rect x="99.6" y="246.7" width="2.6" height="1.4" fill="#c04a40"/><rect x="99.1" y="248.6" width="2.6" height="1.4" fill="#c04a40"/><rect x="100.3" y="250.4" width="2.6" height="1.4" fill="#c04a40"/><rect x="100.5" y="252.3" width="2.6" height="1.4" fill="#c04a40"/><rect x="101.0" y="254.2" width="2.6" height="1.4" fill="#c04a40"/><rect x="100.1" y="256.0" width="2.6" height="1.4" fill="#c04a40"/><rect x="99.0" y="257.9" width="2.6" height="1.4" fill="#c04a40"/><rect x="98.3" y="259.8" width="2.6" height="1.4" fill="#c04a40"/><rect x="96.8" y="261.7" width="2.6" height="1.4" fill="#c04a40"/><rect x="96.9" y="263.5" width="2.6" height="1.4" fill="#c04a40"/><rect x="96.6" y="265.4" width="2.6" height="1.4" fill="#c04a40"/><rect x="94.7" y="267.3" width="2.6" height="1.4" fill="#c04a40"/><rect x="94.7" y="269.1" width="2.6" height="1.4" fill="#c04a40"/><rect x="93.6" y="271.0" width="2.6" height="1.4" fill="#c04a40"/><rect x="93.5" y="272.9" width="2.6" height="1.4" fill="#c04a40"/><rect x="92.4" y="274.7" width="2.6" height="1.4" fill="#c04a40"/><rect x="91.2" y="276.6" width="2.6" height="1.4" fill="#c04a40"/><rect x="89.4" y="278.5" width="2.6" height="1.4" fill="#c04a40"/><rect x="90.1" y="280.4" width="2.6" height="1.4" fill="#c04a40"/><rect x="89.4" y="282.2" width="2.6" height="1.4" fill="#c04a40"/><rect x="87.7" y="284.1" width="2.6" height="1.4" fill="#c04a40"/><rect x="88.1" y="286.0" width="2.6" height="1.4" fill="#c04a40"/><rect x="86.6" y="287.8" width="2.6" height="1.4" fill="#c04a40"/><rect x="85.5" y="289.7" width="2.6" height="1.4" fill="#c04a40"/><rect x="84.6" y="291.6" width="2.6" height="1.4" fill="#c04a40"/><rect x="85.1" y="293.4" width="2.6" height="1.4" fill="#c04a40"/><rect x="84.2" y="295.3" width="2.6" height="1.4" fill="#c04a40"/><rect x="84.2" y="297.2" width="2.6" height="1.4" fill="#c04a40"/><rect x="83.3" y="299.1" width="2.6" height="1.4" fill="#c04a40"/><rect x="82.8" y="300.9" width="2.6" height="1.4" fill="#c04a40"/></g><g><path d="M172.0 66.2 L171.9 68.1 L172.5 69.9 L172.8 71.8 L174.2 73.7 L173.1 75.6 L174.0 77.4 L174.9 79.3 L175.2 81.2 L176.6 83.0 L178.2 84.9 L176.6 86.8 L177.6 88.6 L176.4 90.5 L175.9 92.4 L176.6 94.3 L175.5 96.1 L176.2 98.0 L175.9 99.9 L177.2 101.7 L175.5 103.6 L175.0 105.5 L175.0 107.3 L171.5 109.2 L171.7 111.1 L170.0 113.0 L168.5 114.8 L169.4 116.7 L167.6 118.6 L166.9 120.4 L167.0 122.3 L166.0 124.2 L165.8 126.0 L164.1 127.9 L164.4 129.8 L163.5 131.7 L163.8 133.5 L164.0 135.4 L165.3 137.3 L165.9 139.1 L163.0 141.0 L163.4 142.9 L160.9 144.7 L162.1 146.6 L160.7 148.5 L161.6 150.4 L157.6 152.2 L155.4 154.1 L154.4 156.0 L153.7 157.8 L152.6 159.7 L158.1 161.6 L159.7 163.4 L164.1 165.3 L168.8 167.2 L171.0 169.1 L169.3 170.9 L163.2 172.8 L161.4 174.7 L158.5 176.5 L158.4 178.4 L156.0 180.3 L154.1 182.1 L153.8 184.0 L154.2 185.9 L152.9 187.8 L152.5 189.6 L152.0 191.5 L151.3 193.4 L149.7 195.2 L148.0 197.1 L146.5 199.0 L146.7 200.8 L146.0 202.7 L145.1 204.6 L145.6 206.5 L142.5 208.3 L142.9 210.2 L141.2 212.1 L142.1 213.9 L140.6 215.8 L141.5 217.7 L139.6 219.5 L139.8 221.4 L138.6 223.3 L138.2 225.2 L137.6 227.0 L138.0 228.9 L134.5 230.8 L132.7 232.6 L131.6 234.5 L130.6 236.4 L127.5 238.2 L127.1 240.1 L124.3 242.0 L122.3 243.9 L122.6 245.7 L123.5 247.6 L122.2 249.5 L123.4 251.3 L124.8 253.2 L122.7 255.1 L124.7 256.9 L126.4 258.8 L129.0 260.7 L131.4 262.6 L133.2 264.4 L125.1 266.3 L120.5 268.2 L118.1 270.0 L115.9 271.9 L113.1 273.8 L111.3 275.6 L109.8 277.5 L107.2 279.4 L105.9 281.3 L102.3 283.1 L103.1 285.0 L101.4 286.9 L100.2 288.7 L96.6 290.6 L96.8 292.5 L96.3 294.3 L93.4 296.2 L92.3 298.1 L89.7 300.0 L90.1 301.8 L87.5 303.7" fill="none" stroke="#8fbf5c" stroke-width="1.0" stroke-linejoin="round"/><rect x="170.6" y="65.5" width="2.8" height="1.4" fill="#8cbc5a"/><rect x="170.5" y="67.4" width="2.8" height="1.4" fill="#8cbc5a"/><rect x="171.1" y="69.2" width="2.8" height="1.4" fill="#8cbc5a"/><rect x="171.4" y="71.1" width="2.8" height="1.4" fill="#8cbc5a"/><rect x="172.8" y="73.0" width="2.8" height="1.4" fill="#8cbc5a"/><rect x="171.7" y="74.9" width="2.8" height="1.4" fill="#8cbc5a"/><rect x="172.6" y="76.7" width="2.8" height="1.4" fill="#8cbc5a"/><rect x="173.5" y="78.6" width="2.8" height="1.4" fill="#8cbc5a"/><rect x="173.8" y="80.5" width="2.8" height="1.4" fill="#8cbc5a"/><rect x="175.2" y="82.3" width="2.8" height="1.4" fill="#8cbc5a"/><rect x="176.8" y="84.2" width="2.8" height="1.4" fill="#8cbc5a"/><rect x="175.2" y="86.1" width="2.8" height="1.4" fill="#8cbc5a"/><rect x="176.2" y="87.9" width="2.8" height="1.4" fill="#8cbc5a"/><rect x="175.0" y="89.8" width="2.8" height="1.4" fill="#8cbc5a"/><rect x="174.5" y="91.7" width="2.8" height="1.4" fill="#8cbc5a"/><rect x="175.2" y="93.6" width="2.8" height="1.4" fill="#8cbc5a"/><rect x="174.1" y="95.4" width="2.8" height="1.4" fill="#8cbc5a"/><rect x="174.8" y="97.3" width="2.8" height="1.4" fill="#8cbc5a"/><rect x="174.5" y="99.2" width="2.8" height="1.4" fill="#8cbc5a"/><rect x="175.8" y="101.0" width="2.8" height="1.4" fill="#8cbc5a"/><rect x="174.1" y="102.9" width="2.8" height="1.4" fill="#8cbc5a"/><rect x="173.6" y="104.8" width="2.8" height="1.4" fill="#8cbc5a"/><rect x="173.6" y="106.6" width="2.8" height="1.4" fill="#8cbc5a"/><rect x="170.1" y="108.5" width="2.8" height="1.4" fill="#8cbc5a"/><rect x="170.3" y="110.4" width="2.8" height="1.4" fill="#8cbc5a"/><rect x="168.6" y="112.3" width="2.8" height="1.4" fill="#8cbc5a"/><rect x="167.1" y="114.1" width="2.8" height="1.4" fill="#8cbc5a"/><rect x="168.0" y="116.0" width="2.8" height="1.4" fill="#8cbc5a"/><rect x="166.2" y="117.9" width="2.8" height="1.4" fill="#8cbc5a"/><rect x="165.5" y="119.7" width="2.8" height="1.4" fill="#8cbc5a"/><rect x="165.6" y="121.6" width="2.8" height="1.4" fill="#8cbc5a"/><rect x="164.6" y="123.5" width="2.8" height="1.4" fill="#8cbc5a"/><rect x="164.4" y="125.3" width="2.8" height="1.4" fill="#8cbc5a"/><rect x="162.7" y="127.2" width="2.8" height="1.4" fill="#8cbc5a"/><rect x="163.0" y="129.1" width="2.8" height="1.4" fill="#8cbc5a"/><rect x="162.1" y="131.0" width="2.8" height="1.4" fill="#8cbc5a"/><rect x="162.4" y="132.8" width="2.8" height="1.4" fill="#8cbc5a"/><rect x="162.6" y="134.7" width="2.8" height="1.4" fill="#8cbc5a"/><rect x="163.9" y="136.6" width="2.8" height="1.4" fill="#8cbc5a"/><rect x="164.5" y="138.4" width="2.8" height="1.4" fill="#8cbc5a"/><rect x="161.6" y="140.3" width="2.8" height="1.4" fill="#8cbc5a"/><rect x="162.0" y="142.2" width="2.8" height="1.4" fill="#8cbc5a"/><rect x="159.5" y="144.0" width="2.8" height="1.4" fill="#8cbc5a"/><rect x="160.7" y="145.9" width="2.8" height="1.4" fill="#8cbc5a"/><rect x="159.3" y="147.8" width="2.8" height="1.4" fill="#8cbc5a"/><rect x="160.2" y="149.7" width="2.8" height="1.4" fill="#8cbc5a"/><rect x="156.2" y="151.5" width="2.8" height="1.4" fill="#8cbc5a"/><rect x="154.0" y="153.4" width="2.8" height="1.4" fill="#8cbc5a"/><rect x="153.0" y="155.3" width="2.8" height="1.4" fill="#8cbc5a"/><rect x="152.3" y="157.1" width="2.8" height="1.4" fill="#8cbc5a"/><rect x="151.2" y="159.0" width="2.8" height="1.4" fill="#8cbc5a"/><rect x="156.7" y="160.9" width="2.8" height="1.4" fill="#8cbc5a"/><rect x="158.3" y="162.7" width="2.8" height="1.4" fill="#8cbc5a"/><rect x="162.7" y="164.6" width="2.8" height="1.4" fill="#8cbc5a"/><rect x="167.4" y="166.5" width="2.8" height="1.4" fill="#8cbc5a"/><rect x="169.6" y="168.4" width="2.8" height="1.4" fill="#8cbc5a"/><rect x="167.9" y="170.2" width="2.8" height="1.4" fill="#8cbc5a"/><rect x="161.8" y="172.1" width="2.8" height="1.4" fill="#8cbc5a"/><rect x="160.0" y="174.0" width="2.8" height="1.4" fill="#8cbc5a"/><rect x="157.1" y="175.8" width="2.8" height="1.4" fill="#8cbc5a"/><rect x="157.0" y="177.7" width="2.8" height="1.4" fill="#8cbc5a"/><rect x="154.6" y="179.6" width="2.8" height="1.4" fill="#8cbc5a"/><rect x="152.7" y="181.4" width="2.8" height="1.4" fill="#8cbc5a"/><rect x="152.4" y="183.3" width="2.8" height="1.4" fill="#8cbc5a"/><rect x="152.8" y="185.2" width="2.8" height="1.4" fill="#8cbc5a"/><rect x="151.5" y="187.1" width="2.8" height="1.4" fill="#8cbc5a"/><rect x="151.1" y="188.9" width="2.8" height="1.4" fill="#8cbc5a"/><rect x="150.6" y="190.8" width="2.8" height="1.4" fill="#8cbc5a"/><rect x="149.9" y="192.7" width="2.8" height="1.4" fill="#8cbc5a"/><rect x="148.3" y="194.5" width="2.8" height="1.4" fill="#8cbc5a"/><rect x="146.6" y="196.4" width="2.8" height="1.4" fill="#8cbc5a"/><rect x="145.1" y="198.3" width="2.8" height="1.4" fill="#8cbc5a"/><rect x="145.3" y="200.1" width="2.8" height="1.4" fill="#8cbc5a"/><rect x="144.6" y="202.0" width="2.8" height="1.4" fill="#8cbc5a"/><rect x="143.7" y="203.9" width="2.8" height="1.4" fill="#8cbc5a"/><rect x="144.2" y="205.8" width="2.8" height="1.4" fill="#8cbc5a"/><rect x="141.1" y="207.6" width="2.8" height="1.4" fill="#8cbc5a"/><rect x="141.5" y="209.5" width="2.8" height="1.4" fill="#8cbc5a"/><rect x="139.8" y="211.4" width="2.8" height="1.4" fill="#8cbc5a"/><rect x="140.7" y="213.2" width="2.8" height="1.4" fill="#8cbc5a"/><rect x="139.2" y="215.1" width="2.8" height="1.4" fill="#8cbc5a"/><rect x="140.1" y="217.0" width="2.8" height="1.4" fill="#8cbc5a"/><rect x="138.2" y="218.8" width="2.8" height="1.4" fill="#8cbc5a"/><rect x="138.4" y="220.7" width="2.8" height="1.4" fill="#8cbc5a"/><rect x="137.2" y="222.6" width="2.8" height="1.4" fill="#8cbc5a"/><rect x="136.8" y="224.5" width="2.8" height="1.4" fill="#8cbc5a"/><rect x="136.2" y="226.3" width="2.8" height="1.4" fill="#8cbc5a"/><rect x="136.6" y="228.2" width="2.8" height="1.4" fill="#8cbc5a"/><rect x="133.1" y="230.1" width="2.8" height="1.4" fill="#8cbc5a"/><rect x="131.3" y="231.9" width="2.8" height="1.4" fill="#8cbc5a"/><rect x="130.2" y="233.8" width="2.8" height="1.4" fill="#8cbc5a"/><rect x="129.2" y="235.7" width="2.8" height="1.4" fill="#8cbc5a"/><rect x="126.1" y="237.5" width="2.8" height="1.4" fill="#8cbc5a"/><rect x="125.7" y="239.4" width="2.8" height="1.4" fill="#8cbc5a"/><rect x="122.9" y="241.3" width="2.8" height="1.4" fill="#8cbc5a"/><rect x="120.9" y="243.2" width="2.8" height="1.4" fill="#8cbc5a"/><rect x="121.2" y="245.0" width="2.8" height="1.4" fill="#8cbc5a"/><rect x="122.1" y="246.9" width="2.8" height="1.4" fill="#8cbc5a"/><rect x="120.8" y="248.8" width="2.8" height="1.4" fill="#8cbc5a"/><rect x="122.0" y="250.6" width="2.8" height="1.4" fill="#8cbc5a"/><rect x="123.4" y="252.5" width="2.8" height="1.4" fill="#8cbc5a"/><rect x="121.3" y="254.4" width="2.8" height="1.4" fill="#8cbc5a"/><rect x="123.3" y="256.2" width="2.8" height="1.4" fill="#8cbc5a"/><rect x="125.0" y="258.1" width="2.8" height="1.4" fill="#8cbc5a"/><rect x="127.6" y="260.0" width="2.8" height="1.4" fill="#8cbc5a"/><rect x="130.0" y="261.9" width="2.8" height="1.4" fill="#8cbc5a"/><rect x="131.8" y="263.7" width="2.8" height="1.4" fill="#8cbc5a"/><rect x="123.7" y="265.6" width="2.8" height="1.4" fill="#8cbc5a"/><rect x="119.1" y="267.5" width="2.8" height="1.4" fill="#8cbc5a"/><rect x="116.7" y="269.3" width="2.8" height="1.4" fill="#8cbc5a"/><rect x="114.5" y="271.2" width="2.8" height="1.4" fill="#8cbc5a"/><rect x="111.7" y="273.1" width="2.8" height="1.4" fill="#8cbc5a"/><rect x="109.9" y="274.9" width="2.8" height="1.4" fill="#8cbc5a"/><rect x="108.4" y="276.8" width="2.8" height="1.4" fill="#8cbc5a"/><rect x="105.8" y="278.7" width="2.8" height="1.4" fill="#8cbc5a"/><rect x="104.5" y="280.6" width="2.8" height="1.4" fill="#8cbc5a"/><rect x="100.9" y="282.4" width="2.8" height="1.4" fill="#8cbc5a"/><rect x="101.7" y="284.3" width="2.8" height="1.4" fill="#8cbc5a"/><rect x="100.0" y="286.2" width="2.8" height="1.4" fill="#8cbc5a"/><rect x="98.8" y="288.0" width="2.8" height="1.4" fill="#8cbc5a"/><rect x="95.2" y="289.9" width="2.8" height="1.4" fill="#8cbc5a"/><rect x="95.4" y="291.8" width="2.8" height="1.4" fill="#8cbc5a"/><rect x="94.9" y="293.6" width="2.8" height="1.4" fill="#8cbc5a"/><rect x="92.0" y="295.5" width="2.8" height="1.4" fill="#8cbc5a"/><rect x="90.9" y="297.4" width="2.8" height="1.4" fill="#8cbc5a"/><rect x="88.3" y="299.3" width="2.8" height="1.4" fill="#8cbc5a"/><rect x="88.7" y="301.1" width="2.8" height="1.4" fill="#8cbc5a"/><rect x="86.1" y="303.0" width="2.8" height="1.4" fill="#8cbc5a"/></g><g><path d="M161.0 66.0 L160.6 67.9 L159.1 69.7 L158.6 71.6 L158.5 73.5 L158.1 75.4 L157.4 77.2 L157.7 79.1 L157.0 81.0 L156.9 82.8 L157.8 84.7 L158.8 86.6 L158.9 88.4 L159.4 90.3 L159.8 92.2 L159.3 94.1 L159.7 95.9 L159.7 97.8 L160.5 99.7 L158.8 101.5 L158.4 103.4 L158.2 105.3 L156.4 107.1 L155.4 109.0 L155.0 110.9 L152.8 112.8 L150.9 114.6 L148.4 116.5 L149.2 118.4 L148.1 120.2 L149.0 122.1 L148.3 124.0 L149.8 125.8 L148.6 127.7 L149.1 129.6 L147.5 131.5 L148.8 133.3 L147.8 135.2 L148.6 137.1 L148.5 138.9 L149.1 140.8 L148.1 142.7 L147.5 144.5 L147.3 146.4 L147.2 148.3 L148.3 150.2 L148.1 152.0 L148.2 153.9 L146.8 155.8 L147.0 157.6 L147.0 159.5 L146.2 161.4 L147.1 163.2 L148.5 165.1 L150.0 167.0 L150.2 168.9 L150.6 170.7 L150.6 172.6 L149.7 174.5 L148.0 176.3 L147.2 178.2 L145.7 180.1 L146.9 181.9 L144.4 183.8 L144.8 185.7 L144.4 187.6 L142.3 189.4 L142.3 191.3 L141.0 193.2 L141.4 195.0 L140.5 196.9 L140.3 198.8 L139.0 200.6 L136.9 202.5 L136.9 204.4 L136.4 206.3 L134.7 208.1 L134.3 210.0 L134.1 211.9 L133.9 213.7 L132.3 215.6 L131.4 217.5 L131.1 219.3 L130.1 221.2 L129.7 223.1 L128.6 225.0 L129.1 226.8 L127.2 228.7 L127.7 230.6 L126.7 232.4 L125.2 234.3 L123.9 236.2 L124.1 238.0 L124.3 239.9 L123.3 241.8 L122.8 243.7 L122.0 245.5 L121.0 247.4 L121.0 249.3 L119.9 251.1 L118.7 253.0 L117.3 254.9 L113.7 256.7 L114.8 258.6 L116.8 260.5 L119.4 262.4 L116.5 264.2 L114.1 266.1 L111.1 268.0 L109.2 269.8 L107.1 271.7 L106.5 273.6 L104.9 275.4 L103.0 277.3 L102.8 279.2 L99.8 281.1 L100.2 282.9 L98.2 284.8 L97.8 286.7 L95.2 288.5 L94.7 290.4 L92.6 292.3 L91.9 294.1 L90.3 296.0 L89.9 297.9 L87.3 299.8 L86.4 301.6 L86.0 303.5" fill="none" stroke="#6e4ea8" stroke-width="1.0" stroke-linejoin="round"/><circle cx="161.0" cy="66.0" r="1.4" fill="#5e4296"/><circle cx="160.6" cy="67.9" r="1.4" fill="#5e4296"/><circle cx="159.1" cy="69.7" r="1.4" fill="#5e4296"/><circle cx="158.6" cy="71.6" r="1.4" fill="#5e4296"/><circle cx="158.5" cy="73.5" r="1.4" fill="#5e4296"/><circle cx="158.1" cy="75.4" r="1.4" fill="#5e4296"/><circle cx="157.4" cy="77.2" r="1.4" fill="#5e4296"/><circle cx="157.7" cy="79.1" r="1.4" fill="#5e4296"/><circle cx="157.0" cy="81.0" r="1.4" fill="#5e4296"/><circle cx="156.9" cy="82.8" r="1.4" fill="#5e4296"/><circle cx="157.8" cy="84.7" r="1.4" fill="#5e4296"/><circle cx="158.8" cy="86.6" r="1.4" fill="#5e4296"/><circle cx="158.9" cy="88.4" r="1.4" fill="#5e4296"/><circle cx="159.4" cy="90.3" r="1.4" fill="#5e4296"/><circle cx="159.8" cy="92.2" r="1.4" fill="#5e4296"/><circle cx="159.3" cy="94.1" r="1.4" fill="#5e4296"/><circle cx="159.7" cy="95.9" r="1.4" fill="#5e4296"/><circle cx="159.7" cy="97.8" r="1.4" fill="#5e4296"/><circle cx="160.5" cy="99.7" r="1.4" fill="#5e4296"/><circle cx="158.8" cy="101.5" r="1.4" fill="#5e4296"/><circle cx="158.4" cy="103.4" r="1.4" fill="#5e4296"/><circle cx="158.2" cy="105.3" r="1.4" fill="#5e4296"/><circle cx="156.4" cy="107.1" r="1.4" fill="#5e4296"/><circle cx="155.4" cy="109.0" r="1.4" fill="#5e4296"/><circle cx="155.0" cy="110.9" r="1.4" fill="#5e4296"/><circle cx="152.8" cy="112.8" r="1.4" fill="#5e4296"/><circle cx="150.9" cy="114.6" r="1.4" fill="#5e4296"/><circle cx="148.4" cy="116.5" r="1.4" fill="#5e4296"/><circle cx="149.2" cy="118.4" r="1.4" fill="#5e4296"/><circle cx="148.1" cy="120.2" r="1.4" fill="#5e4296"/><circle cx="149.0" cy="122.1" r="1.4" fill="#5e4296"/><circle cx="148.3" cy="124.0" r="1.4" fill="#5e4296"/><circle cx="149.8" cy="125.8" r="1.4" fill="#5e4296"/><circle cx="148.6" cy="127.7" r="1.4" fill="#5e4296"/><circle cx="149.1" cy="129.6" r="1.4" fill="#5e4296"/><circle cx="147.5" cy="131.5" r="1.4" fill="#5e4296"/><circle cx="148.8" cy="133.3" r="1.4" fill="#5e4296"/><circle cx="147.8" cy="135.2" r="1.4" fill="#5e4296"/><circle cx="148.6" cy="137.1" r="1.4" fill="#5e4296"/><circle cx="148.5" cy="138.9" r="1.4" fill="#5e4296"/><circle cx="149.1" cy="140.8" r="1.4" fill="#5e4296"/><circle cx="148.1" cy="142.7" r="1.4" fill="#5e4296"/><circle cx="147.5" cy="144.5" r="1.4" fill="#5e4296"/><circle cx="147.3" cy="146.4" r="1.4" fill="#5e4296"/><circle cx="147.2" cy="148.3" r="1.4" fill="#5e4296"/><circle cx="148.3" cy="150.2" r="1.4" fill="#5e4296"/><circle cx="148.1" cy="152.0" r="1.4" fill="#5e4296"/><circle cx="148.2" cy="153.9" r="1.4" fill="#5e4296"/><circle cx="146.8" cy="155.8" r="1.4" fill="#5e4296"/><circle cx="147.0" cy="157.6" r="1.4" fill="#5e4296"/><circle cx="147.0" cy="159.5" r="1.4" fill="#5e4296"/><circle cx="146.2" cy="161.4" r="1.4" fill="#5e4296"/><circle cx="147.1" cy="163.2" r="1.4" fill="#5e4296"/><circle cx="148.5" cy="165.1" r="1.4" fill="#5e4296"/><circle cx="150.0" cy="167.0" r="1.4" fill="#5e4296"/><circle cx="150.2" cy="168.9" r="1.4" fill="#5e4296"/><circle cx="150.6" cy="170.7" r="1.4" fill="#5e4296"/><circle cx="150.6" cy="172.6" r="1.4" fill="#5e4296"/><circle cx="149.7" cy="174.5" r="1.4" fill="#5e4296"/><circle cx="148.0" cy="176.3" r="1.4" fill="#5e4296"/><circle cx="147.2" cy="178.2" r="1.4" fill="#5e4296"/><circle cx="145.7" cy="180.1" r="1.4" fill="#5e4296"/><circle cx="146.9" cy="181.9" r="1.4" fill="#5e4296"/><circle cx="144.4" cy="183.8" r="1.4" fill="#5e4296"/><circle cx="144.8" cy="185.7" r="1.4" fill="#5e4296"/><circle cx="144.4" cy="187.6" r="1.4" fill="#5e4296"/><circle cx="142.3" cy="189.4" r="1.4" fill="#5e4296"/><circle cx="142.3" cy="191.3" r="1.4" fill="#5e4296"/><circle cx="141.0" cy="193.2" r="1.4" fill="#5e4296"/><circle cx="141.4" cy="195.0" r="1.4" fill="#5e4296"/><circle cx="140.5" cy="196.9" r="1.4" fill="#5e4296"/><circle cx="140.3" cy="198.8" r="1.4" fill="#5e4296"/><circle cx="139.0" cy="200.6" r="1.4" fill="#5e4296"/><circle cx="136.9" cy="202.5" r="1.4" fill="#5e4296"/><circle cx="136.9" cy="204.4" r="1.4" fill="#5e4296"/><circle cx="136.4" cy="206.3" r="1.4" fill="#5e4296"/><circle cx="134.7" cy="208.1" r="1.4" fill="#5e4296"/><circle cx="134.3" cy="210.0" r="1.4" fill="#5e4296"/><circle cx="134.1" cy="211.9" r="1.4" fill="#5e4296"/><circle cx="133.9" cy="213.7" r="1.4" fill="#5e4296"/><circle cx="132.3" cy="215.6" r="1.4" fill="#5e4296"/><circle cx="131.4" cy="217.5" r="1.4" fill="#5e4296"/><circle cx="131.1" cy="219.3" r="1.4" fill="#5e4296"/><circle cx="130.1" cy="221.2" r="1.4" fill="#5e4296"/><circle cx="129.7" cy="223.1" r="1.4" fill="#5e4296"/><circle cx="128.6" cy="225.0" r="1.4" fill="#5e4296"/><circle cx="129.1" cy="226.8" r="1.4" fill="#5e4296"/><circle cx="127.2" cy="228.7" r="1.4" fill="#5e4296"/><circle cx="127.7" cy="230.6" r="1.4" fill="#5e4296"/><circle cx="126.7" cy="232.4" r="1.4" fill="#5e4296"/><circle cx="125.2" cy="234.3" r="1.4" fill="#5e4296"/><circle cx="123.9" cy="236.2" r="1.4" fill="#5e4296"/><circle cx="124.1" cy="238.0" r="1.4" fill="#5e4296"/><circle cx="124.3" cy="239.9" r="1.4" fill="#5e4296"/><circle cx="123.3" cy="241.8" r="1.4" fill="#5e4296"/><circle cx="122.8" cy="243.7" r="1.4" fill="#5e4296"/><circle cx="122.0" cy="245.5" r="1.4" fill="#5e4296"/><circle cx="121.0" cy="247.4" r="1.4" fill="#5e4296"/><circle cx="121.0" cy="249.3" r="1.4" fill="#5e4296"/><circle cx="119.9" cy="251.1" r="1.4" fill="#5e4296"/><circle cx="118.7" cy="253.0" r="1.4" fill="#5e4296"/><circle cx="117.3" cy="254.9" r="1.4" fill="#5e4296"/><circle cx="113.7" cy="256.7" r="1.4" fill="#5e4296"/><circle cx="114.8" cy="258.6" r="1.4" fill="#5e4296"/><circle cx="116.8" cy="260.5" r="1.4" fill="#5e4296"/><circle cx="119.4" cy="262.4" r="1.4" fill="#5e4296"/><circle cx="116.5" cy="264.2" r="1.4" fill="#5e4296"/><circle cx="114.1" cy="266.1" r="1.4" fill="#5e4296"/><circle cx="111.1" cy="268.0" r="1.4" fill="#5e4296"/><circle cx="109.2" cy="269.8" r="1.4" fill="#5e4296"/><circle cx="107.1" cy="271.7" r="1.4" fill="#5e4296"/><circle cx="106.5" cy="273.6" r="1.4" fill="#5e4296"/><circle cx="104.9" cy="275.4" r="1.4" fill="#5e4296"/><circle cx="103.0" cy="277.3" r="1.4" fill="#5e4296"/><circle cx="102.8" cy="279.2" r="1.4" fill="#5e4296"/><circle cx="99.8" cy="281.1" r="1.4" fill="#5e4296"/><circle cx="100.2" cy="282.9" r="1.4" fill="#5e4296"/><circle cx="98.2" cy="284.8" r="1.4" fill="#5e4296"/><circle cx="97.8" cy="286.7" r="1.4" fill="#5e4296"/><circle cx="95.2" cy="288.5" r="1.4" fill="#5e4296"/><circle cx="94.7" cy="290.4" r="1.4" fill="#5e4296"/><circle cx="92.6" cy="292.3" r="1.4" fill="#5e4296"/><circle cx="91.9" cy="294.1" r="1.4" fill="#5e4296"/><circle cx="90.3" cy="296.0" r="1.4" fill="#5e4296"/><circle cx="89.9" cy="297.9" r="1.4" fill="#5e4296"/><circle cx="87.3" cy="299.8" r="1.4" fill="#5e4296"/><circle cx="86.4" cy="301.6" r="1.4" fill="#5e4296"/><circle cx="86.0" cy="303.5" r="1.4" fill="#5e4296"/></g><g><path d="M145.0 65.8 L144.1 67.7 L145.8 69.5 L144.8 71.4 L144.5 73.3 L143.6 75.2 L142.9 77.0 L144.4 78.9 L144.6 80.8 L143.7 82.6 L144.7 84.5 L145.1 86.4 L145.8 88.2 L146.5 90.1 L146.1 92.0 L143.9 93.9 L140.0 95.7 L136.7 97.6 L134.8 99.5 L133.7 101.3 L132.7 103.2 L133.6 105.1 L133.0 106.9 L132.0 108.8 L131.9 110.7 L128.5 112.6 L125.3 114.4 L123.9 116.3 L122.1 118.2 L120.8 120.0 L118.5 121.9 L119.4 123.8 L121.8 125.6 L123.4 127.5 L124.4 129.4 L123.2 131.3 L123.5 133.1 L123.5 135.0 L124.6 136.9 L125.5 138.7 L127.0 140.6 L126.6 142.5 L127.1 144.3 L129.1 146.2 L129.9 148.1 L130.3 150.0 L131.1 151.8 L132.7 153.7 L131.9 155.6 L132.1 157.4 L131.9 159.3 L130.1 161.2 L130.8 163.0 L130.7 164.9 L131.6 166.8 L133.2 168.7 L133.3 170.5 L133.2 172.4 L133.9 174.3 L133.8 176.1 L134.9 178.0 L135.8 179.9 L135.4 181.7 L136.9 183.6 L137.1 185.5 L137.7 187.4 L138.6 189.2 L139.3 191.1 L139.4 193.0 L139.6 194.8 L140.3 196.7 L139.0 198.6 L138.4 200.4 L136.7 202.3 L135.7 204.2 L135.0 206.1 L134.6 207.9 L132.1 209.8 L131.8 211.7 L131.3 213.5 L130.0 215.4 L128.5 217.3 L127.0 219.1 L122.1 221.0 L121.2 222.9 L118.3 224.8 L116.9 226.6 L117.0 228.5 L116.3 230.4 L115.2 232.2 L115.6 234.1 L114.5 236.0 L114.4 237.8 L114.4 239.7 L112.4 241.6 L113.3 243.5 L113.8 245.3 L113.1 247.2 L113.1 249.1 L112.9 250.9 L111.7 252.8 L111.8 254.7 L111.4 256.5 L112.5 258.4 L115.1 260.3 L115.6 262.2 L114.6 264.0 L114.3 265.9 L112.9 267.8 L111.7 269.6 L110.2 271.5 L106.7 273.4 L105.9 275.2 L103.9 277.1 L102.1 279.0 L101.6 280.9 L100.5 282.7 L98.1 284.6 L97.4 286.5 L95.3 288.3 L94.1 290.2 L91.9 292.1 L92.1 293.9 L91.0 295.8 L89.7 297.7 L87.0 299.6 L87.4 301.4 L85.2 303.3" fill="none" stroke="#35a2c6" stroke-width="1.0" stroke-linejoin="round"/><rect x="143.7" y="64.5" width="2.6" height="2.6" fill="#2a8ab0"/><rect x="142.8" y="66.4" width="2.6" height="2.6" fill="#2a8ab0"/><rect x="144.5" y="68.2" width="2.6" height="2.6" fill="#2a8ab0"/><rect x="143.5" y="70.1" width="2.6" height="2.6" fill="#2a8ab0"/><rect x="143.2" y="72.0" width="2.6" height="2.6" fill="#2a8ab0"/><rect x="142.3" y="73.9" width="2.6" height="2.6" fill="#2a8ab0"/><rect x="141.6" y="75.7" width="2.6" height="2.6" fill="#2a8ab0"/><rect x="143.1" y="77.6" width="2.6" height="2.6" fill="#2a8ab0"/><rect x="143.3" y="79.5" width="2.6" height="2.6" fill="#2a8ab0"/><rect x="142.4" y="81.3" width="2.6" height="2.6" fill="#2a8ab0"/><rect x="143.4" y="83.2" width="2.6" height="2.6" fill="#2a8ab0"/><rect x="143.8" y="85.1" width="2.6" height="2.6" fill="#2a8ab0"/><rect x="144.5" y="86.9" width="2.6" height="2.6" fill="#2a8ab0"/><rect x="145.2" y="88.8" width="2.6" height="2.6" fill="#2a8ab0"/><rect x="144.8" y="90.7" width="2.6" height="2.6" fill="#2a8ab0"/><rect x="142.6" y="92.6" width="2.6" height="2.6" fill="#2a8ab0"/><rect x="138.7" y="94.4" width="2.6" height="2.6" fill="#2a8ab0"/><rect x="135.4" y="96.3" width="2.6" height="2.6" fill="#2a8ab0"/><rect x="133.5" y="98.2" width="2.6" height="2.6" fill="#2a8ab0"/><rect x="132.4" y="100.0" width="2.6" height="2.6" fill="#2a8ab0"/><rect x="131.4" y="101.9" width="2.6" height="2.6" fill="#2a8ab0"/><rect x="132.3" y="103.8" width="2.6" height="2.6" fill="#2a8ab0"/><rect x="131.7" y="105.6" width="2.6" height="2.6" fill="#2a8ab0"/><rect x="130.7" y="107.5" width="2.6" height="2.6" fill="#2a8ab0"/><rect x="130.6" y="109.4" width="2.6" height="2.6" fill="#2a8ab0"/><rect x="127.2" y="111.3" width="2.6" height="2.6" fill="#2a8ab0"/><rect x="124.0" y="113.1" width="2.6" height="2.6" fill="#2a8ab0"/><rect x="122.6" y="115.0" width="2.6" height="2.6" fill="#2a8ab0"/><rect x="120.8" y="116.9" width="2.6" height="2.6" fill="#2a8ab0"/><rect x="119.5" y="118.7" width="2.6" height="2.6" fill="#2a8ab0"/><rect x="117.2" y="120.6" width="2.6" height="2.6" fill="#2a8ab0"/><rect x="118.1" y="122.5" width="2.6" height="2.6" fill="#2a8ab0"/><rect x="120.5" y="124.3" width="2.6" height="2.6" fill="#2a8ab0"/><rect x="122.1" y="126.2" width="2.6" height="2.6" fill="#2a8ab0"/><rect x="123.1" y="128.1" width="2.6" height="2.6" fill="#2a8ab0"/><rect x="121.9" y="130.0" width="2.6" height="2.6" fill="#2a8ab0"/><rect x="122.2" y="131.8" width="2.6" height="2.6" fill="#2a8ab0"/><rect x="122.2" y="133.7" width="2.6" height="2.6" fill="#2a8ab0"/><rect x="123.3" y="135.6" width="2.6" height="2.6" fill="#2a8ab0"/><rect x="124.2" y="137.4" width="2.6" height="2.6" fill="#2a8ab0"/><rect x="125.7" y="139.3" width="2.6" height="2.6" fill="#2a8ab0"/><rect x="125.3" y="141.2" width="2.6" height="2.6" fill="#2a8ab0"/><rect x="125.8" y="143.0" width="2.6" height="2.6" fill="#2a8ab0"/><rect x="127.8" y="144.9" width="2.6" height="2.6" fill="#2a8ab0"/><rect x="128.6" y="146.8" width="2.6" height="2.6" fill="#2a8ab0"/><rect x="129.0" y="148.7" width="2.6" height="2.6" fill="#2a8ab0"/><rect x="129.8" y="150.5" width="2.6" height="2.6" fill="#2a8ab0"/><rect x="131.4" y="152.4" width="2.6" height="2.6" fill="#2a8ab0"/><rect x="130.6" y="154.3" width="2.6" height="2.6" fill="#2a8ab0"/><rect x="130.8" y="156.1" width="2.6" height="2.6" fill="#2a8ab0"/><rect x="130.6" y="158.0" width="2.6" height="2.6" fill="#2a8ab0"/><rect x="128.8" y="159.9" width="2.6" height="2.6" fill="#2a8ab0"/><rect x="129.5" y="161.7" width="2.6" height="2.6" fill="#2a8ab0"/><rect x="129.4" y="163.6" width="2.6" height="2.6" fill="#2a8ab0"/><rect x="130.3" y="165.5" width="2.6" height="2.6" fill="#2a8ab0"/><rect x="131.9" y="167.4" width="2.6" height="2.6" fill="#2a8ab0"/><rect x="132.0" y="169.2" width="2.6" height="2.6" fill="#2a8ab0"/><rect x="131.9" y="171.1" width="2.6" height="2.6" fill="#2a8ab0"/><rect x="132.6" y="173.0" width="2.6" height="2.6" fill="#2a8ab0"/><rect x="132.5" y="174.8" width="2.6" height="2.6" fill="#2a8ab0"/><rect x="133.6" y="176.7" width="2.6" height="2.6" fill="#2a8ab0"/><rect x="134.5" y="178.6" width="2.6" height="2.6" fill="#2a8ab0"/><rect x="134.1" y="180.4" width="2.6" height="2.6" fill="#2a8ab0"/><rect x="135.6" y="182.3" width="2.6" height="2.6" fill="#2a8ab0"/><rect x="135.8" y="184.2" width="2.6" height="2.6" fill="#2a8ab0"/><rect x="136.4" y="186.1" width="2.6" height="2.6" fill="#2a8ab0"/><rect x="137.3" y="187.9" width="2.6" height="2.6" fill="#2a8ab0"/><rect x="138.0" y="189.8" width="2.6" height="2.6" fill="#2a8ab0"/><rect x="138.1" y="191.7" width="2.6" height="2.6" fill="#2a8ab0"/><rect x="138.3" y="193.5" width="2.6" height="2.6" fill="#2a8ab0"/><rect x="139.0" y="195.4" width="2.6" height="2.6" fill="#2a8ab0"/><rect x="137.7" y="197.3" width="2.6" height="2.6" fill="#2a8ab0"/><rect x="137.1" y="199.1" width="2.6" height="2.6" fill="#2a8ab0"/><rect x="135.4" y="201.0" width="2.6" height="2.6" fill="#2a8ab0"/><rect x="134.4" y="202.9" width="2.6" height="2.6" fill="#2a8ab0"/><rect x="133.7" y="204.8" width="2.6" height="2.6" fill="#2a8ab0"/><rect x="133.3" y="206.6" width="2.6" height="2.6" fill="#2a8ab0"/><rect x="130.8" y="208.5" width="2.6" height="2.6" fill="#2a8ab0"/><rect x="130.5" y="210.4" width="2.6" height="2.6" fill="#2a8ab0"/><rect x="130.0" y="212.2" width="2.6" height="2.6" fill="#2a8ab0"/><rect x="128.7" y="214.1" width="2.6" height="2.6" fill="#2a8ab0"/><rect x="127.2" y="216.0" width="2.6" height="2.6" fill="#2a8ab0"/><rect x="125.7" y="217.8" width="2.6" height="2.6" fill="#2a8ab0"/><rect x="120.8" y="219.7" width="2.6" height="2.6" fill="#2a8ab0"/><rect x="119.9" y="221.6" width="2.6" height="2.6" fill="#2a8ab0"/><rect x="117.0" y="223.5" width="2.6" height="2.6" fill="#2a8ab0"/><rect x="115.6" y="225.3" width="2.6" height="2.6" fill="#2a8ab0"/><rect x="115.7" y="227.2" width="2.6" height="2.6" fill="#2a8ab0"/><rect x="115.0" y="229.1" width="2.6" height="2.6" fill="#2a8ab0"/><rect x="113.9" y="230.9" width="2.6" height="2.6" fill="#2a8ab0"/><rect x="114.3" y="232.8" width="2.6" height="2.6" fill="#2a8ab0"/><rect x="113.2" y="234.7" width="2.6" height="2.6" fill="#2a8ab0"/><rect x="113.1" y="236.5" width="2.6" height="2.6" fill="#2a8ab0"/><rect x="113.1" y="238.4" width="2.6" height="2.6" fill="#2a8ab0"/><rect x="111.1" y="240.3" width="2.6" height="2.6" fill="#2a8ab0"/><rect x="112.0" y="242.2" width="2.6" height="2.6" fill="#2a8ab0"/><rect x="112.5" y="244.0" width="2.6" height="2.6" fill="#2a8ab0"/><rect x="111.8" y="245.9" width="2.6" height="2.6" fill="#2a8ab0"/><rect x="111.8" y="247.8" width="2.6" height="2.6" fill="#2a8ab0"/><rect x="111.6" y="249.6" width="2.6" height="2.6" fill="#2a8ab0"/><rect x="110.4" y="251.5" width="2.6" height="2.6" fill="#2a8ab0"/><rect x="110.5" y="253.4" width="2.6" height="2.6" fill="#2a8ab0"/><rect x="110.1" y="255.2" width="2.6" height="2.6" fill="#2a8ab0"/><rect x="111.2" y="257.1" width="2.6" height="2.6" fill="#2a8ab0"/><rect x="113.8" y="259.0" width="2.6" height="2.6" fill="#2a8ab0"/><rect x="114.3" y="260.9" width="2.6" height="2.6" fill="#2a8ab0"/><rect x="113.3" y="262.7" width="2.6" height="2.6" fill="#2a8ab0"/><rect x="113.0" y="264.6" width="2.6" height="2.6" fill="#2a8ab0"/><rect x="111.6" y="266.5" width="2.6" height="2.6" fill="#2a8ab0"/><rect x="110.4" y="268.3" width="2.6" height="2.6" fill="#2a8ab0"/><rect x="108.9" y="270.2" width="2.6" height="2.6" fill="#2a8ab0"/><rect x="105.4" y="272.1" width="2.6" height="2.6" fill="#2a8ab0"/><rect x="104.6" y="273.9" width="2.6" height="2.6" fill="#2a8ab0"/><rect x="102.6" y="275.8" width="2.6" height="2.6" fill="#2a8ab0"/><rect x="100.8" y="277.7" width="2.6" height="2.6" fill="#2a8ab0"/><rect x="100.3" y="279.6" width="2.6" height="2.6" fill="#2a8ab0"/><rect x="99.2" y="281.4" width="2.6" height="2.6" fill="#2a8ab0"/><rect x="96.8" y="283.3" width="2.6" height="2.6" fill="#2a8ab0"/><rect x="96.1" y="285.2" width="2.6" height="2.6" fill="#2a8ab0"/><rect x="94.0" y="287.0" width="2.6" height="2.6" fill="#2a8ab0"/><rect x="92.8" y="288.9" width="2.6" height="2.6" fill="#2a8ab0"/><rect x="90.6" y="290.8" width="2.6" height="2.6" fill="#2a8ab0"/><rect x="90.8" y="292.6" width="2.6" height="2.6" fill="#2a8ab0"/><rect x="89.7" y="294.5" width="2.6" height="2.6" fill="#2a8ab0"/><rect x="88.4" y="296.4" width="2.6" height="2.6" fill="#2a8ab0"/><rect x="85.7" y="298.3" width="2.6" height="2.6" fill="#2a8ab0"/><rect x="86.1" y="300.1" width="2.6" height="2.6" fill="#2a8ab0"/><rect x="83.9" y="302.0" width="2.6" height="2.6" fill="#2a8ab0"/></g><g><path d="M159.9 66.0 L158.9 67.9 L158.3 69.7 L157.3 71.6 L157.0 73.5 L155.1 75.4 L155.4 77.2 L154.3 79.1 L153.8 81.0 L153.7 82.8 L155.4 84.7 L155.6 86.6 L156.8 88.4 L156.7 90.3 L156.6 92.2 L154.5 94.1 L154.7 95.9 L151.9 97.8 L149.9 99.7 L146.7 101.5 L145.2 103.4 L143.8 105.3 L144.4 107.1 L144.6 109.0 L145.6 110.9 L145.2 112.8 L142.5 114.6 L143.5 116.5 L141.8 118.4 L142.9 120.2 L142.0 122.1 L142.2 124.0 L141.7 125.8 L141.5 127.7 L141.4 129.6 L142.0 131.5 L140.3 133.3 L141.0 135.2 L140.3 137.1 L139.2 138.9 L139.3 140.8 L139.3 142.7 L139.9 144.5 L139.3 146.4 L139.2 148.3 L139.1 150.2 L139.5 152.0 L138.3 153.9 L140.3 155.8 L140.1 157.6 L140.4 159.5 L141.3 161.4 L141.3 163.2 L140.8 165.1 L142.1 167.0 L142.8 168.9 L142.9 170.7 L141.1 172.6 L141.0 174.5 L141.3 176.3 L140.2 178.2 L138.1 180.1 L137.4 181.9 L137.8 183.8 L137.1 185.7 L138.2 187.6 L137.6 189.4 L135.7 191.3 L135.7 193.2 L135.0 195.0 L133.2 196.9 L133.3 198.8 L132.3 200.6 L132.1 202.5 L132.9 204.4 L131.1 206.3 L129.8 208.1 L129.4 210.0 L129.3 211.9 L128.8 213.7 L127.1 215.6 L125.8 217.5 L125.2 219.3 L126.0 221.2 L125.0 223.1 L123.9 225.0 L123.5 226.8 L121.9 228.7 L120.1 230.6 L120.6 232.4 L120.2 234.3 L118.6 236.2 L117.3 238.0 L118.6 239.9 L117.2 241.8 L116.7 243.7 L117.1 245.5 L116.7 247.4 L116.9 249.3 L117.5 251.1 L117.2 253.0 L115.2 254.9 L112.5 256.7 L116.7 258.6 L124.4 260.5 L127.7 262.4 L120.3 264.2 L118.0 266.1 L116.1 268.0 L114.4 269.8 L112.3 271.7 L110.5 273.6 L108.5 275.4 L107.3 277.3 L104.0 279.2 L102.9 281.1 L102.5 282.9 L100.7 284.8 L98.3 286.7 L97.6 288.5 L95.8 290.4 L93.6 292.3 L91.5 294.1 L89.8 296.0 L88.2 297.9 L87.1 299.8 L85.2 301.6 L84.4 303.5" fill="none" stroke="#f29a4a" stroke-width="1.2" stroke-linejoin="round"/><path d="M159.9 64.1L161.8 67.5L158.0 67.5Z" fill="#e07818"/><path d="M158.9 66.0L160.8 69.4L157.0 69.4Z" fill="#e07818"/><path d="M158.3 67.8L160.2 71.3L156.4 71.3Z" fill="#e07818"/><path d="M157.3 69.7L159.2 73.1L155.4 73.1Z" fill="#e07818"/><path d="M157.0 71.6L158.9 75.0L155.1 75.0Z" fill="#e07818"/><path d="M155.1 73.5L157.0 76.9L153.2 76.9Z" fill="#e07818"/><path d="M155.4 75.3L157.3 78.7L153.5 78.7Z" fill="#e07818"/><path d="M154.3 77.2L156.2 80.6L152.4 80.6Z" fill="#e07818"/><path d="M153.8 79.1L155.7 82.5L151.9 82.5Z" fill="#e07818"/><path d="M153.7 80.9L155.6 84.4L151.8 84.4Z" fill="#e07818"/><path d="M155.4 82.8L157.3 86.2L153.5 86.2Z" fill="#e07818"/><path d="M155.6 84.7L157.5 88.1L153.7 88.1Z" fill="#e07818"/><path d="M156.8 86.5L158.7 90.0L154.9 90.0Z" fill="#e07818"/><path d="M156.7 88.4L158.6 91.8L154.8 91.8Z" fill="#e07818"/><path d="M156.6 90.3L158.5 93.7L154.7 93.7Z" fill="#e07818"/><path d="M154.5 92.2L156.4 95.6L152.6 95.6Z" fill="#e07818"/><path d="M154.7 94.0L156.6 97.4L152.8 97.4Z" fill="#e07818"/><path d="M151.9 95.9L153.8 99.3L150.0 99.3Z" fill="#e07818"/><path d="M149.9 97.8L151.8 101.2L148.0 101.2Z" fill="#e07818"/><path d="M146.7 99.6L148.6 103.1L144.8 103.1Z" fill="#e07818"/><path d="M145.2 101.5L147.1 104.9L143.3 104.9Z" fill="#e07818"/><path d="M143.8 103.4L145.7 106.8L141.9 106.8Z" fill="#e07818"/><path d="M144.4 105.2L146.3 108.7L142.5 108.7Z" fill="#e07818"/><path d="M144.6 107.1L146.5 110.5L142.7 110.5Z" fill="#e07818"/><path d="M145.6 109.0L147.5 112.4L143.7 112.4Z" fill="#e07818"/><path d="M145.2 110.9L147.1 114.3L143.3 114.3Z" fill="#e07818"/><path d="M142.5 112.7L144.4 116.1L140.6 116.1Z" fill="#e07818"/><path d="M143.5 114.6L145.4 118.0L141.6 118.0Z" fill="#e07818"/><path d="M141.8 116.5L143.7 119.9L139.9 119.9Z" fill="#e07818"/><path d="M142.9 118.3L144.8 121.8L141.0 121.8Z" fill="#e07818"/><path d="M142.0 120.2L143.9 123.6L140.1 123.6Z" fill="#e07818"/><path d="M142.2 122.1L144.1 125.5L140.3 125.5Z" fill="#e07818"/><path d="M141.7 123.9L143.6 127.4L139.8 127.4Z" fill="#e07818"/><path d="M141.5 125.8L143.4 129.2L139.6 129.2Z" fill="#e07818"/><path d="M141.4 127.7L143.3 131.1L139.5 131.1Z" fill="#e07818"/><path d="M142.0 129.6L143.9 133.0L140.1 133.0Z" fill="#e07818"/><path d="M140.3 131.4L142.2 134.8L138.4 134.8Z" fill="#e07818"/><path d="M141.0 133.3L142.9 136.7L139.1 136.7Z" fill="#e07818"/><path d="M140.3 135.2L142.2 138.6L138.4 138.6Z" fill="#e07818"/><path d="M139.2 137.0L141.1 140.5L137.3 140.5Z" fill="#e07818"/><path d="M139.3 138.9L141.2 142.3L137.4 142.3Z" fill="#e07818"/><path d="M139.3 140.8L141.2 144.2L137.4 144.2Z" fill="#e07818"/><path d="M139.9 142.6L141.8 146.1L138.0 146.1Z" fill="#e07818"/><path d="M139.3 144.5L141.2 147.9L137.4 147.9Z" fill="#e07818"/><path d="M139.2 146.4L141.1 149.8L137.3 149.8Z" fill="#e07818"/><path d="M139.1 148.3L141.0 151.7L137.2 151.7Z" fill="#e07818"/><path d="M139.5 150.1L141.4 153.5L137.6 153.5Z" fill="#e07818"/><path d="M138.3 152.0L140.2 155.4L136.4 155.4Z" fill="#e07818"/><path d="M140.3 153.9L142.2 157.3L138.4 157.3Z" fill="#e07818"/><path d="M140.1 155.7L142.0 159.2L138.2 159.2Z" fill="#e07818"/><path d="M140.4 157.6L142.3 161.0L138.5 161.0Z" fill="#e07818"/><path d="M141.3 159.5L143.2 162.9L139.4 162.9Z" fill="#e07818"/><path d="M141.3 161.3L143.2 164.8L139.4 164.8Z" fill="#e07818"/><path d="M140.8 163.2L142.7 166.6L138.9 166.6Z" fill="#e07818"/><path d="M142.1 165.1L144.0 168.5L140.2 168.5Z" fill="#e07818"/><path d="M142.8 167.0L144.7 170.4L140.9 170.4Z" fill="#e07818"/><path d="M142.9 168.8L144.8 172.2L141.0 172.2Z" fill="#e07818"/><path d="M141.1 170.7L143.0 174.1L139.2 174.1Z" fill="#e07818"/><path d="M141.0 172.6L142.9 176.0L139.1 176.0Z" fill="#e07818"/><path d="M141.3 174.4L143.2 177.9L139.4 177.9Z" fill="#e07818"/><path d="M140.2 176.3L142.1 179.7L138.3 179.7Z" fill="#e07818"/><path d="M138.1 178.2L140.0 181.6L136.2 181.6Z" fill="#e07818"/><path d="M137.4 180.0L139.3 183.5L135.5 183.5Z" fill="#e07818"/><path d="M137.8 181.9L139.7 185.3L135.9 185.3Z" fill="#e07818"/><path d="M137.1 183.8L139.0 187.2L135.2 187.2Z" fill="#e07818"/><path d="M138.2 185.7L140.1 189.1L136.3 189.1Z" fill="#e07818"/><path d="M137.6 187.5L139.5 190.9L135.7 190.9Z" fill="#e07818"/><path d="M135.7 189.4L137.6 192.8L133.8 192.8Z" fill="#e07818"/><path d="M135.7 191.3L137.6 194.7L133.8 194.7Z" fill="#e07818"/><path d="M135.0 193.1L136.9 196.6L133.1 196.6Z" fill="#e07818"/><path d="M133.2 195.0L135.1 198.4L131.3 198.4Z" fill="#e07818"/><path d="M133.3 196.9L135.2 200.3L131.4 200.3Z" fill="#e07818"/><path d="M132.3 198.7L134.2 202.2L130.4 202.2Z" fill="#e07818"/><path d="M132.1 200.6L134.0 204.0L130.2 204.0Z" fill="#e07818"/><path d="M132.9 202.5L134.8 205.9L131.0 205.9Z" fill="#e07818"/><path d="M131.1 204.4L133.0 207.8L129.2 207.8Z" fill="#e07818"/><path d="M129.8 206.2L131.7 209.6L127.9 209.6Z" fill="#e07818"/><path d="M129.4 208.1L131.3 211.5L127.5 211.5Z" fill="#e07818"/><path d="M129.3 210.0L131.2 213.4L127.4 213.4Z" fill="#e07818"/><path d="M128.8 211.8L130.7 215.3L126.9 215.3Z" fill="#e07818"/><path d="M127.1 213.7L129.0 217.1L125.2 217.1Z" fill="#e07818"/><path d="M125.8 215.6L127.7 219.0L123.9 219.0Z" fill="#e07818"/><path d="M125.2 217.4L127.1 220.9L123.3 220.9Z" fill="#e07818"/><path d="M126.0 219.3L127.9 222.7L124.1 222.7Z" fill="#e07818"/><path d="M125.0 221.2L126.9 224.6L123.1 224.6Z" fill="#e07818"/><path d="M123.9 223.1L125.8 226.5L122.0 226.5Z" fill="#e07818"/><path d="M123.5 224.9L125.4 228.3L121.6 228.3Z" fill="#e07818"/><path d="M121.9 226.8L123.8 230.2L120.0 230.2Z" fill="#e07818"/><path d="M120.1 228.7L122.0 232.1L118.2 232.1Z" fill="#e07818"/><path d="M120.6 230.5L122.5 234.0L118.7 234.0Z" fill="#e07818"/><path d="M120.2 232.4L122.1 235.8L118.3 235.8Z" fill="#e07818"/><path d="M118.6 234.3L120.5 237.7L116.7 237.7Z" fill="#e07818"/><path d="M117.3 236.1L119.2 239.6L115.4 239.6Z" fill="#e07818"/><path d="M118.6 238.0L120.5 241.4L116.7 241.4Z" fill="#e07818"/><path d="M117.2 239.9L119.1 243.3L115.3 243.3Z" fill="#e07818"/><path d="M116.7 241.8L118.6 245.2L114.8 245.2Z" fill="#e07818"/><path d="M117.1 243.6L119.0 247.0L115.2 247.0Z" fill="#e07818"/><path d="M116.7 245.5L118.6 248.9L114.8 248.9Z" fill="#e07818"/><path d="M116.9 247.4L118.8 250.8L115.0 250.8Z" fill="#e07818"/><path d="M117.5 249.2L119.4 252.7L115.6 252.7Z" fill="#e07818"/><path d="M117.2 251.1L119.1 254.5L115.3 254.5Z" fill="#e07818"/><path d="M115.2 253.0L117.1 256.4L113.3 256.4Z" fill="#e07818"/><path d="M112.5 254.8L114.4 258.3L110.6 258.3Z" fill="#e07818"/><path d="M116.7 256.7L118.6 260.1L114.8 260.1Z" fill="#e07818"/><path d="M124.4 258.6L126.3 262.0L122.5 262.0Z" fill="#e07818"/><path d="M127.7 260.5L129.6 263.9L125.8 263.9Z" fill="#e07818"/><path d="M120.3 262.3L122.2 265.7L118.4 265.7Z" fill="#e07818"/><path d="M118.0 264.2L119.9 267.6L116.1 267.6Z" fill="#e07818"/><path d="M116.1 266.1L118.0 269.5L114.2 269.5Z" fill="#e07818"/><path d="M114.4 267.9L116.3 271.4L112.5 271.4Z" fill="#e07818"/><path d="M112.3 269.8L114.2 273.2L110.4 273.2Z" fill="#e07818"/><path d="M110.5 271.7L112.4 275.1L108.6 275.1Z" fill="#e07818"/><path d="M108.5 273.5L110.4 277.0L106.6 277.0Z" fill="#e07818"/><path d="M107.3 275.4L109.2 278.8L105.4 278.8Z" fill="#e07818"/><path d="M104.0 277.3L105.9 280.7L102.1 280.7Z" fill="#e07818"/><path d="M102.9 279.2L104.8 282.6L101.0 282.6Z" fill="#e07818"/><path d="M102.5 281.0L104.4 284.4L100.6 284.4Z" fill="#e07818"/><path d="M100.7 282.9L102.6 286.3L98.8 286.3Z" fill="#e07818"/><path d="M98.3 284.8L100.2 288.2L96.4 288.2Z" fill="#e07818"/><path d="M97.6 286.6L99.5 290.1L95.7 290.1Z" fill="#e07818"/><path d="M95.8 288.5L97.7 291.9L93.9 291.9Z" fill="#e07818"/><path d="M93.6 290.4L95.5 293.8L91.7 293.8Z" fill="#e07818"/><path d="M91.5 292.2L93.4 295.7L89.6 295.7Z" fill="#e07818"/><path d="M89.8 294.1L91.7 297.5L87.9 297.5Z" fill="#e07818"/><path d="M88.2 296.0L90.1 299.4L86.3 299.4Z" fill="#e07818"/><path d="M87.1 297.9L89.0 301.3L85.2 301.3Z" fill="#e07818"/><path d="M85.2 299.7L87.1 303.1L83.3 303.1Z" fill="#e07818"/><path d="M84.4 301.6L86.3 305.0L82.5 305.0Z" fill="#e07818"/></g><g><path d="M148.0 65.8 L148.8 67.7 L147.8 69.5 L148.2 71.4 L148.1 73.3 L148.0 75.2 L147.1 77.0 L145.9 78.9 L148.1 80.8 L148.4 82.6 L148.1 84.5 L149.2 86.4 L150.6 88.2 L151.1 90.1 L151.6 92.0 L152.3 93.9 L154.0 95.7 L154.2 97.6 L153.5 99.5 L153.6 101.3 L151.6 103.2 L152.0 105.1 L151.4 106.9 L149.2 108.8 L148.5 110.7 L149.0 112.6 L147.1 114.4 L148.0 116.3 L145.9 118.2 L146.5 120.0 L147.0 121.9 L145.4 123.8 L146.3 125.6 L146.2 127.5 L144.3 129.4 L145.2 131.3 L143.9 133.1 L144.2 135.0 L144.5 136.9 L143.8 138.7 L144.3 140.6 L142.5 142.5 L143.6 144.3 L143.4 146.2 L142.7 148.1 L142.7 150.0 L141.9 151.8 L143.0 153.7 L142.2 155.6 L143.0 157.4 L143.8 159.3 L143.9 161.2 L144.4 163.0 L143.8 164.9 L145.6 166.8 L146.6 168.7 L146.6 170.5 L145.2 172.4 L145.2 174.3 L144.0 176.1 L144.3 178.0 L142.8 179.9 L141.7 181.7 L140.7 183.6 L140.2 185.5 L139.9 187.4 L138.9 189.2 L137.2 191.1 L136.4 193.0 L135.6 194.8 L136.6 196.7 L135.3 198.6 L134.0 200.4 L134.2 202.3 L134.3 204.2 L133.4 206.1 L132.9 207.9 L132.9 209.8 L131.2 211.7 L129.6 213.5 L128.3 215.4 L128.9 217.3 L127.6 219.1 L127.2 221.0 L126.1 222.9 L126.7 224.8 L125.1 226.6 L125.5 228.5 L124.4 230.4 L122.9 232.2 L122.2 234.1 L121.3 236.0 L119.7 237.8 L117.7 239.7 L118.5 241.6 L118.1 243.5 L117.7 245.3 L118.9 247.2 L120.1 249.1 L120.6 250.9 L122.2 252.8 L118.9 254.7 L113.5 256.5 L114.3 258.4 L115.6 260.3 L117.9 262.2 L120.9 264.0 L119.3 265.9 L116.2 267.8 L115.5 269.6 L112.1 271.5 L109.9 273.4 L109.6 275.2 L107.6 277.1 L105.5 279.0 L103.2 280.9 L102.5 282.7 L100.6 284.6 L99.3 286.5 L97.8 288.3 L97.0 290.2 L94.6 292.1 L92.3 293.9 L92.0 295.8 L88.4 297.7 L88.1 299.6 L86.2 301.4 L84.6 303.3" fill="none" stroke="#93b4e2" stroke-width="2.8" stroke-linejoin="round"/><path d="M146.3 64.1L149.7 67.5M149.7 64.1L146.3 67.5" stroke="#6f98d4" stroke-width="1.1" fill="none"/><path d="M147.1 66.0L150.5 69.4M150.5 66.0L147.1 69.4" stroke="#6f98d4" stroke-width="1.1" fill="none"/><path d="M146.1 67.8L149.5 71.2M149.5 67.8L146.1 71.2" stroke="#6f98d4" stroke-width="1.1" fill="none"/><path d="M146.5 69.7L149.9 73.1M149.9 69.7L146.5 73.1" stroke="#6f98d4" stroke-width="1.1" fill="none"/><path d="M146.4 71.6L149.8 75.0M149.8 71.6L146.4 75.0" stroke="#6f98d4" stroke-width="1.1" fill="none"/><path d="M146.3 73.5L149.7 76.9M149.7 73.5L146.3 76.9" stroke="#6f98d4" stroke-width="1.1" fill="none"/><path d="M145.4 75.3L148.8 78.7M148.8 75.3L145.4 78.7" stroke="#6f98d4" stroke-width="1.1" fill="none"/><path d="M144.2 77.2L147.6 80.6M147.6 77.2L144.2 80.6" stroke="#6f98d4" stroke-width="1.1" fill="none"/><path d="M146.4 79.1L149.8 82.5M149.8 79.1L146.4 82.5" stroke="#6f98d4" stroke-width="1.1" fill="none"/><path d="M146.7 80.9L150.1 84.3M150.1 80.9L146.7 84.3" stroke="#6f98d4" stroke-width="1.1" fill="none"/><path d="M146.4 82.8L149.8 86.2M149.8 82.8L146.4 86.2" stroke="#6f98d4" stroke-width="1.1" fill="none"/><path d="M147.5 84.7L150.9 88.1M150.9 84.7L147.5 88.1" stroke="#6f98d4" stroke-width="1.1" fill="none"/><path d="M148.9 86.5L152.3 89.9M152.3 86.5L148.9 89.9" stroke="#6f98d4" stroke-width="1.1" fill="none"/><path d="M149.4 88.4L152.8 91.8M152.8 88.4L149.4 91.8" stroke="#6f98d4" stroke-width="1.1" fill="none"/><path d="M149.9 90.3L153.3 93.7M153.3 90.3L149.9 93.7" stroke="#6f98d4" stroke-width="1.1" fill="none"/><path d="M150.6 92.2L154.0 95.6M154.0 92.2L150.6 95.6" stroke="#6f98d4" stroke-width="1.1" fill="none"/><path d="M152.3 94.0L155.7 97.4M155.7 94.0L152.3 97.4" stroke="#6f98d4" stroke-width="1.1" fill="none"/><path d="M152.5 95.9L155.9 99.3M155.9 95.9L152.5 99.3" stroke="#6f98d4" stroke-width="1.1" fill="none"/><path d="M151.8 97.8L155.2 101.2M155.2 97.8L151.8 101.2" stroke="#6f98d4" stroke-width="1.1" fill="none"/><path d="M151.9 99.6L155.3 103.0M155.3 99.6L151.9 103.0" stroke="#6f98d4" stroke-width="1.1" fill="none"/><path d="M149.9 101.5L153.3 104.9M153.3 101.5L149.9 104.9" stroke="#6f98d4" stroke-width="1.1" fill="none"/><path d="M150.3 103.4L153.7 106.8M153.7 103.4L150.3 106.8" stroke="#6f98d4" stroke-width="1.1" fill="none"/><path d="M149.7 105.2L153.1 108.6M153.1 105.2L149.7 108.6" stroke="#6f98d4" stroke-width="1.1" fill="none"/><path d="M147.5 107.1L150.9 110.5M150.9 107.1L147.5 110.5" stroke="#6f98d4" stroke-width="1.1" fill="none"/><path d="M146.8 109.0L150.2 112.4M150.2 109.0L146.8 112.4" stroke="#6f98d4" stroke-width="1.1" fill="none"/><path d="M147.3 110.9L150.7 114.3M150.7 110.9L147.3 114.3" stroke="#6f98d4" stroke-width="1.1" fill="none"/><path d="M145.4 112.7L148.8 116.1M148.8 112.7L145.4 116.1" stroke="#6f98d4" stroke-width="1.1" fill="none"/><path d="M146.3 114.6L149.7 118.0M149.7 114.6L146.3 118.0" stroke="#6f98d4" stroke-width="1.1" fill="none"/><path d="M144.2 116.5L147.6 119.9M147.6 116.5L144.2 119.9" stroke="#6f98d4" stroke-width="1.1" fill="none"/><path d="M144.8 118.3L148.2 121.7M148.2 118.3L144.8 121.7" stroke="#6f98d4" stroke-width="1.1" fill="none"/><path d="M145.3 120.2L148.7 123.6M148.7 120.2L145.3 123.6" stroke="#6f98d4" stroke-width="1.1" fill="none"/><path d="M143.7 122.1L147.1 125.5M147.1 122.1L143.7 125.5" stroke="#6f98d4" stroke-width="1.1" fill="none"/><path d="M144.6 123.9L148.0 127.3M148.0 123.9L144.6 127.3" stroke="#6f98d4" stroke-width="1.1" fill="none"/><path d="M144.5 125.8L147.9 129.2M147.9 125.8L144.5 129.2" stroke="#6f98d4" stroke-width="1.1" fill="none"/><path d="M142.6 127.7L146.0 131.1M146.0 127.7L142.6 131.1" stroke="#6f98d4" stroke-width="1.1" fill="none"/><path d="M143.5 129.6L146.9 133.0M146.9 129.6L143.5 133.0" stroke="#6f98d4" stroke-width="1.1" fill="none"/><path d="M142.2 131.4L145.6 134.8M145.6 131.4L142.2 134.8" stroke="#6f98d4" stroke-width="1.1" fill="none"/><path d="M142.5 133.3L145.9 136.7M145.9 133.3L142.5 136.7" stroke="#6f98d4" stroke-width="1.1" fill="none"/><path d="M142.8 135.2L146.2 138.6M146.2 135.2L142.8 138.6" stroke="#6f98d4" stroke-width="1.1" fill="none"/><path d="M142.1 137.0L145.5 140.4M145.5 137.0L142.1 140.4" stroke="#6f98d4" stroke-width="1.1" fill="none"/><path d="M142.6 138.9L146.0 142.3M146.0 138.9L142.6 142.3" stroke="#6f98d4" stroke-width="1.1" fill="none"/><path d="M140.8 140.8L144.2 144.2M144.2 140.8L140.8 144.2" stroke="#6f98d4" stroke-width="1.1" fill="none"/><path d="M141.9 142.6L145.3 146.0M145.3 142.6L141.9 146.0" stroke="#6f98d4" stroke-width="1.1" fill="none"/><path d="M141.7 144.5L145.1 147.9M145.1 144.5L141.7 147.9" stroke="#6f98d4" stroke-width="1.1" fill="none"/><path d="M141.0 146.4L144.4 149.8M144.4 146.4L141.0 149.8" stroke="#6f98d4" stroke-width="1.1" fill="none"/><path d="M141.0 148.3L144.4 151.7M144.4 148.3L141.0 151.7" stroke="#6f98d4" stroke-width="1.1" fill="none"/><path d="M140.2 150.1L143.6 153.5M143.6 150.1L140.2 153.5" stroke="#6f98d4" stroke-width="1.1" fill="none"/><path d="M141.3 152.0L144.7 155.4M144.7 152.0L141.3 155.4" stroke="#6f98d4" stroke-width="1.1" fill="none"/><path d="M140.5 153.9L143.9 157.3M143.9 153.9L140.5 157.3" stroke="#6f98d4" stroke-width="1.1" fill="none"/><path d="M141.3 155.7L144.7 159.1M144.7 155.7L141.3 159.1" stroke="#6f98d4" stroke-width="1.1" fill="none"/><path d="M142.1 157.6L145.5 161.0M145.5 157.6L142.1 161.0" stroke="#6f98d4" stroke-width="1.1" fill="none"/><path d="M142.2 159.5L145.6 162.9M145.6 159.5L142.2 162.9" stroke="#6f98d4" stroke-width="1.1" fill="none"/><path d="M142.7 161.3L146.1 164.7M146.1 161.3L142.7 164.7" stroke="#6f98d4" stroke-width="1.1" fill="none"/><path d="M142.1 163.2L145.5 166.6M145.5 163.2L142.1 166.6" stroke="#6f98d4" stroke-width="1.1" fill="none"/><path d="M143.9 165.1L147.3 168.5M147.3 165.1L143.9 168.5" stroke="#6f98d4" stroke-width="1.1" fill="none"/><path d="M144.9 167.0L148.3 170.4M148.3 167.0L144.9 170.4" stroke="#6f98d4" stroke-width="1.1" fill="none"/><path d="M144.9 168.8L148.3 172.2M148.3 168.8L144.9 172.2" stroke="#6f98d4" stroke-width="1.1" fill="none"/><path d="M143.5 170.7L146.9 174.1M146.9 170.7L143.5 174.1" stroke="#6f98d4" stroke-width="1.1" fill="none"/><path d="M143.5 172.6L146.9 176.0M146.9 172.6L143.5 176.0" stroke="#6f98d4" stroke-width="1.1" fill="none"/><path d="M142.3 174.4L145.7 177.8M145.7 174.4L142.3 177.8" stroke="#6f98d4" stroke-width="1.1" fill="none"/><path d="M142.6 176.3L146.0 179.7M146.0 176.3L142.6 179.7" stroke="#6f98d4" stroke-width="1.1" fill="none"/><path d="M141.1 178.2L144.5 181.6M144.5 178.2L141.1 181.6" stroke="#6f98d4" stroke-width="1.1" fill="none"/><path d="M140.0 180.0L143.4 183.4M143.4 180.0L140.0 183.4" stroke="#6f98d4" stroke-width="1.1" fill="none"/><path d="M139.0 181.9L142.4 185.3M142.4 181.9L139.0 185.3" stroke="#6f98d4" stroke-width="1.1" fill="none"/><path d="M138.5 183.8L141.9 187.2M141.9 183.8L138.5 187.2" stroke="#6f98d4" stroke-width="1.1" fill="none"/><path d="M138.2 185.7L141.6 189.1M141.6 185.7L138.2 189.1" stroke="#6f98d4" stroke-width="1.1" fill="none"/><path d="M137.2 187.5L140.6 190.9M140.6 187.5L137.2 190.9" stroke="#6f98d4" stroke-width="1.1" fill="none"/><path d="M135.5 189.4L138.9 192.8M138.9 189.4L135.5 192.8" stroke="#6f98d4" stroke-width="1.1" fill="none"/><path d="M134.7 191.3L138.1 194.7M138.1 191.3L134.7 194.7" stroke="#6f98d4" stroke-width="1.1" fill="none"/><path d="M133.9 193.1L137.3 196.5M137.3 193.1L133.9 196.5" stroke="#6f98d4" stroke-width="1.1" fill="none"/><path d="M134.9 195.0L138.3 198.4M138.3 195.0L134.9 198.4" stroke="#6f98d4" stroke-width="1.1" fill="none"/><path d="M133.6 196.9L137.0 200.3M137.0 196.9L133.6 200.3" stroke="#6f98d4" stroke-width="1.1" fill="none"/><path d="M132.3 198.7L135.7 202.1M135.7 198.7L132.3 202.1" stroke="#6f98d4" stroke-width="1.1" fill="none"/><path d="M132.5 200.6L135.9 204.0M135.9 200.6L132.5 204.0" stroke="#6f98d4" stroke-width="1.1" fill="none"/><path d="M132.6 202.5L136.0 205.9M136.0 202.5L132.6 205.9" stroke="#6f98d4" stroke-width="1.1" fill="none"/><path d="M131.7 204.4L135.1 207.8M135.1 204.4L131.7 207.8" stroke="#6f98d4" stroke-width="1.1" fill="none"/><path d="M131.2 206.2L134.6 209.6M134.6 206.2L131.2 209.6" stroke="#6f98d4" stroke-width="1.1" fill="none"/><path d="M131.2 208.1L134.6 211.5M134.6 208.1L131.2 211.5" stroke="#6f98d4" stroke-width="1.1" fill="none"/><path d="M129.5 210.0L132.9 213.4M132.9 210.0L129.5 213.4" stroke="#6f98d4" stroke-width="1.1" fill="none"/><path d="M127.9 211.8L131.3 215.2M131.3 211.8L127.9 215.2" stroke="#6f98d4" stroke-width="1.1" fill="none"/><path d="M126.6 213.7L130.0 217.1M130.0 213.7L126.6 217.1" stroke="#6f98d4" stroke-width="1.1" fill="none"/><path d="M127.2 215.6L130.6 219.0M130.6 215.6L127.2 219.0" stroke="#6f98d4" stroke-width="1.1" fill="none"/><path d="M125.9 217.4L129.3 220.8M129.3 217.4L125.9 220.8" stroke="#6f98d4" stroke-width="1.1" fill="none"/><path d="M125.5 219.3L128.9 222.7M128.9 219.3L125.5 222.7" stroke="#6f98d4" stroke-width="1.1" fill="none"/><path d="M124.4 221.2L127.8 224.6M127.8 221.2L124.4 224.6" stroke="#6f98d4" stroke-width="1.1" fill="none"/><path d="M125.0 223.1L128.4 226.5M128.4 223.1L125.0 226.5" stroke="#6f98d4" stroke-width="1.1" fill="none"/><path d="M123.4 224.9L126.8 228.3M126.8 224.9L123.4 228.3" stroke="#6f98d4" stroke-width="1.1" fill="none"/><path d="M123.8 226.8L127.2 230.2M127.2 226.8L123.8 230.2" stroke="#6f98d4" stroke-width="1.1" fill="none"/><path d="M122.7 228.7L126.1 232.1M126.1 228.7L122.7 232.1" stroke="#6f98d4" stroke-width="1.1" fill="none"/><path d="M121.2 230.5L124.6 233.9M124.6 230.5L121.2 233.9" stroke="#6f98d4" stroke-width="1.1" fill="none"/><path d="M120.5 232.4L123.9 235.8M123.9 232.4L120.5 235.8" stroke="#6f98d4" stroke-width="1.1" fill="none"/><path d="M119.6 234.3L123.0 237.7M123.0 234.3L119.6 237.7" stroke="#6f98d4" stroke-width="1.1" fill="none"/><path d="M118.0 236.1L121.4 239.5M121.4 236.1L118.0 239.5" stroke="#6f98d4" stroke-width="1.1" fill="none"/><path d="M116.0 238.0L119.4 241.4M119.4 238.0L116.0 241.4" stroke="#6f98d4" stroke-width="1.1" fill="none"/><path d="M116.8 239.9L120.2 243.3M120.2 239.9L116.8 243.3" stroke="#6f98d4" stroke-width="1.1" fill="none"/><path d="M116.4 241.8L119.8 245.2M119.8 241.8L116.4 245.2" stroke="#6f98d4" stroke-width="1.1" fill="none"/><path d="M116.0 243.6L119.4 247.0M119.4 243.6L116.0 247.0" stroke="#6f98d4" stroke-width="1.1" fill="none"/><path d="M117.2 245.5L120.6 248.9M120.6 245.5L117.2 248.9" stroke="#6f98d4" stroke-width="1.1" fill="none"/><path d="M118.4 247.4L121.8 250.8M121.8 247.4L118.4 250.8" stroke="#6f98d4" stroke-width="1.1" fill="none"/><path d="M118.9 249.2L122.3 252.6M122.3 249.2L118.9 252.6" stroke="#6f98d4" stroke-width="1.1" fill="none"/><path d="M120.5 251.1L123.9 254.5M123.9 251.1L120.5 254.5" stroke="#6f98d4" stroke-width="1.1" fill="none"/><path d="M117.2 253.0L120.6 256.4M120.6 253.0L117.2 256.4" stroke="#6f98d4" stroke-width="1.1" fill="none"/><path d="M111.8 254.8L115.2 258.2M115.2 254.8L111.8 258.2" stroke="#6f98d4" stroke-width="1.1" fill="none"/><path d="M112.6 256.7L116.0 260.1M116.0 256.7L112.6 260.1" stroke="#6f98d4" stroke-width="1.1" fill="none"/><path d="M113.9 258.6L117.3 262.0M117.3 258.6L113.9 262.0" stroke="#6f98d4" stroke-width="1.1" fill="none"/><path d="M116.2 260.5L119.6 263.9M119.6 260.5L116.2 263.9" stroke="#6f98d4" stroke-width="1.1" fill="none"/><path d="M119.2 262.3L122.6 265.7M122.6 262.3L119.2 265.7" stroke="#6f98d4" stroke-width="1.1" fill="none"/><path d="M117.6 264.2L121.0 267.6M121.0 264.2L117.6 267.6" stroke="#6f98d4" stroke-width="1.1" fill="none"/><path d="M114.5 266.1L117.9 269.5M117.9 266.1L114.5 269.5" stroke="#6f98d4" stroke-width="1.1" fill="none"/><path d="M113.8 267.9L117.2 271.3M117.2 267.9L113.8 271.3" stroke="#6f98d4" stroke-width="1.1" fill="none"/><path d="M110.4 269.8L113.8 273.2M113.8 269.8L110.4 273.2" stroke="#6f98d4" stroke-width="1.1" fill="none"/><path d="M108.2 271.7L111.6 275.1M111.6 271.7L108.2 275.1" stroke="#6f98d4" stroke-width="1.1" fill="none"/><path d="M107.9 273.5L111.3 276.9M111.3 273.5L107.9 276.9" stroke="#6f98d4" stroke-width="1.1" fill="none"/><path d="M105.9 275.4L109.3 278.8M109.3 275.4L105.9 278.8" stroke="#6f98d4" stroke-width="1.1" fill="none"/><path d="M103.8 277.3L107.2 280.7M107.2 277.3L103.8 280.7" stroke="#6f98d4" stroke-width="1.1" fill="none"/><path d="M101.5 279.2L104.9 282.6M104.9 279.2L101.5 282.6" stroke="#6f98d4" stroke-width="1.1" fill="none"/><path d="M100.8 281.0L104.2 284.4M104.2 281.0L100.8 284.4" stroke="#6f98d4" stroke-width="1.1" fill="none"/><path d="M98.9 282.9L102.3 286.3M102.3 282.9L98.9 286.3" stroke="#6f98d4" stroke-width="1.1" fill="none"/><path d="M97.6 284.8L101.0 288.2M101.0 284.8L97.6 288.2" stroke="#6f98d4" stroke-width="1.1" fill="none"/><path d="M96.1 286.6L99.5 290.0M99.5 286.6L96.1 290.0" stroke="#6f98d4" stroke-width="1.1" fill="none"/><path d="M95.3 288.5L98.7 291.9M98.7 288.5L95.3 291.9" stroke="#6f98d4" stroke-width="1.1" fill="none"/><path d="M92.9 290.4L96.3 293.8M96.3 290.4L92.9 293.8" stroke="#6f98d4" stroke-width="1.1" fill="none"/><path d="M90.6 292.2L94.0 295.6M94.0 292.2L90.6 295.6" stroke="#6f98d4" stroke-width="1.1" fill="none"/><path d="M90.3 294.1L93.7 297.5M93.7 294.1L90.3 297.5" stroke="#6f98d4" stroke-width="1.1" fill="none"/><path d="M86.7 296.0L90.1 299.4M90.1 296.0L86.7 299.4" stroke="#6f98d4" stroke-width="1.1" fill="none"/><path d="M86.4 297.9L89.8 301.3M89.8 297.9L86.4 301.3" stroke="#6f98d4" stroke-width="1.1" fill="none"/><path d="M84.5 299.7L87.9 303.1M87.9 299.7L84.5 303.1" stroke="#6f98d4" stroke-width="1.1" fill="none"/><path d="M82.9 301.6L86.3 305.0M86.3 301.6L82.9 305.0" stroke="#6f98d4" stroke-width="1.1" fill="none"/></g><g><path d="M124.2 65.8 L125.5 67.7 L125.0 69.5 L126.2 71.4 L125.1 73.3 L125.4 75.2 L126.5 77.0 L127.5 78.9 L128.8 80.8 L129.2 82.6 L129.5 84.5 L130.1 86.4 L129.1 88.2 L129.8 90.1 L130.7 92.0 L130.2 93.9 L130.9 95.7 L130.9 97.6 L131.1 99.5 L130.4 101.3 L129.6 103.2 L129.4 105.1 L127.2 106.9 L127.8 108.8 L125.6 110.7 L126.6 112.6 L124.7 114.4 L123.4 116.3 L121.7 118.2 L121.2 120.0 L121.7 121.9 L120.7 123.8 L122.1 125.6 L120.1 127.5 L120.6 129.4 L121.7 131.3 L122.4 133.1 L124.1 135.0 L124.2 136.9 L124.2 138.7 L122.5 140.6 L121.7 142.5 L122.3 144.3 L119.8 146.2 L120.1 148.1 L119.2 150.0 L119.5 151.8 L118.0 153.7 L117.2 155.6 L118.1 157.4 L116.5 159.3 L118.2 161.2 L117.3 163.0 L118.6 164.9 L118.0 166.8 L119.1 168.7 L118.5 170.5 L120.6 172.4 L122.4 174.3 L124.4 176.1 L122.8 178.0 L123.3 179.9 L123.0 181.7 L122.6 183.6 L121.9 185.5 L121.3 187.4 L122.0 189.2 L120.0 191.1 L120.6 193.0 L119.3 194.8 L118.4 196.7 L118.0 198.6 L117.9 200.4 L117.9 202.3 L116.3 204.2 L117.1 206.1 L116.3 207.9 L116.2 209.8 L116.0 211.7 L116.1 213.5 L114.8 215.4 L114.6 217.3 L115.2 219.1 L113.5 221.0 L113.2 222.9 L113.5 224.8 L112.5 226.6 L111.3 228.5 L111.7 230.4 L109.8 232.2 L109.3 234.1 L108.8 236.0 L107.6 237.8 L107.4 239.7 L107.3 241.6 L107.0 243.5 L107.9 245.3 L107.2 247.2 L107.5 249.1 L108.4 250.9 L107.5 252.8 L106.8 254.7 L106.2 256.5 L107.2 258.4 L108.3 260.3 L109.8 262.2 L108.8 264.0 L105.6 265.9 L103.4 267.8 L102.7 269.6 L101.3 271.5 L100.1 273.4 L99.1 275.2 L96.4 277.1 L95.6 279.0 L94.3 280.9 L94.2 282.7 L92.6 284.6 L91.3 286.5 L91.7 288.3 L89.9 290.2 L88.2 292.1 L87.3 293.9 L88.0 295.8 L87.3 297.7 L86.1 299.6 L85.0 301.4 L84.6 303.3" fill="none" stroke="#db7b79" stroke-width="0.8" stroke-linejoin="round"/><path d="M122.7 64.3L125.6 67.2M125.6 64.3L122.7 67.2" stroke="#d86e6c" stroke-width="1.1" fill="none"/><path d="M124.1 66.2L127.0 69.1M127.0 66.2L124.1 69.1" stroke="#d86e6c" stroke-width="1.1" fill="none"/><path d="M123.5 68.1L126.4 71.0M126.4 68.1L123.5 71.0" stroke="#d86e6c" stroke-width="1.1" fill="none"/><path d="M124.7 70.0L127.6 72.9M127.6 70.0L124.7 72.9" stroke="#d86e6c" stroke-width="1.1" fill="none"/><path d="M123.7 71.8L126.6 74.7M126.6 71.8L123.7 74.7" stroke="#d86e6c" stroke-width="1.1" fill="none"/><path d="M124.0 73.7L126.9 76.6M126.9 73.7L124.0 76.6" stroke="#d86e6c" stroke-width="1.1" fill="none"/><path d="M125.0 75.6L127.9 78.5M127.9 75.6L125.0 78.5" stroke="#d86e6c" stroke-width="1.1" fill="none"/><path d="M126.1 77.4L129.0 80.3M129.0 77.4L126.1 80.3" stroke="#d86e6c" stroke-width="1.1" fill="none"/><path d="M127.4 79.3L130.3 82.2M130.3 79.3L127.4 82.2" stroke="#d86e6c" stroke-width="1.1" fill="none"/><path d="M127.8 81.2L130.7 84.1M130.7 81.2L127.8 84.1" stroke="#d86e6c" stroke-width="1.1" fill="none"/><path d="M128.1 83.1L131.0 86.0M131.0 83.1L128.1 86.0" stroke="#d86e6c" stroke-width="1.1" fill="none"/><path d="M128.6 84.9L131.5 87.8M131.5 84.9L128.6 87.8" stroke="#d86e6c" stroke-width="1.1" fill="none"/><path d="M127.6 86.8L130.5 89.7M130.5 86.8L127.6 89.7" stroke="#d86e6c" stroke-width="1.1" fill="none"/><path d="M128.4 88.7L131.3 91.6M131.3 88.7L128.4 91.6" stroke="#d86e6c" stroke-width="1.1" fill="none"/><path d="M129.3 90.5L132.2 93.4M132.2 90.5L129.3 93.4" stroke="#d86e6c" stroke-width="1.1" fill="none"/><path d="M128.8 92.4L131.7 95.3M131.7 92.4L128.8 95.3" stroke="#d86e6c" stroke-width="1.1" fill="none"/><path d="M129.4 94.3L132.3 97.2M132.3 94.3L129.4 97.2" stroke="#d86e6c" stroke-width="1.1" fill="none"/><path d="M129.5 96.1L132.4 99.0M132.4 96.1L129.5 99.0" stroke="#d86e6c" stroke-width="1.1" fill="none"/><path d="M129.7 98.0L132.6 100.9M132.6 98.0L129.7 100.9" stroke="#d86e6c" stroke-width="1.1" fill="none"/><path d="M129.0 99.9L131.9 102.8M131.9 99.9L129.0 102.8" stroke="#d86e6c" stroke-width="1.1" fill="none"/><path d="M128.1 101.8L131.0 104.7M131.0 101.8L128.1 104.7" stroke="#d86e6c" stroke-width="1.1" fill="none"/><path d="M127.9 103.6L130.8 106.5M130.8 103.6L127.9 106.5" stroke="#d86e6c" stroke-width="1.1" fill="none"/><path d="M125.7 105.5L128.6 108.4M128.6 105.5L125.7 108.4" stroke="#d86e6c" stroke-width="1.1" fill="none"/><path d="M126.4 107.4L129.3 110.3M129.3 107.4L126.4 110.3" stroke="#d86e6c" stroke-width="1.1" fill="none"/><path d="M124.1 109.2L127.0 112.1M127.0 109.2L124.1 112.1" stroke="#d86e6c" stroke-width="1.1" fill="none"/><path d="M125.1 111.1L128.0 114.0M128.0 111.1L125.1 114.0" stroke="#d86e6c" stroke-width="1.1" fill="none"/><path d="M123.2 113.0L126.1 115.9M126.1 113.0L123.2 115.9" stroke="#d86e6c" stroke-width="1.1" fill="none"/><path d="M121.9 114.8L124.8 117.7M124.8 114.8L121.9 117.7" stroke="#d86e6c" stroke-width="1.1" fill="none"/><path d="M120.3 116.7L123.2 119.6M123.2 116.7L120.3 119.6" stroke="#d86e6c" stroke-width="1.1" fill="none"/><path d="M119.8 118.6L122.7 121.5M122.7 118.6L119.8 121.5" stroke="#d86e6c" stroke-width="1.1" fill="none"/><path d="M120.2 120.5L123.1 123.4M123.1 120.5L120.2 123.4" stroke="#d86e6c" stroke-width="1.1" fill="none"/><path d="M119.2 122.3L122.1 125.2M122.1 122.3L119.2 125.2" stroke="#d86e6c" stroke-width="1.1" fill="none"/><path d="M120.7 124.2L123.6 127.1M123.6 124.2L120.7 127.1" stroke="#d86e6c" stroke-width="1.1" fill="none"/><path d="M118.6 126.1L121.5 129.0M121.5 126.1L118.6 129.0" stroke="#d86e6c" stroke-width="1.1" fill="none"/><path d="M119.1 127.9L122.0 130.8M122.0 127.9L119.1 130.8" stroke="#d86e6c" stroke-width="1.1" fill="none"/><path d="M120.2 129.8L123.1 132.7M123.1 129.8L120.2 132.7" stroke="#d86e6c" stroke-width="1.1" fill="none"/><path d="M120.9 131.7L123.8 134.6M123.8 131.7L120.9 134.6" stroke="#d86e6c" stroke-width="1.1" fill="none"/><path d="M122.7 133.5L125.6 136.4M125.6 133.5L122.7 136.4" stroke="#d86e6c" stroke-width="1.1" fill="none"/><path d="M122.8 135.4L125.7 138.3M125.7 135.4L122.8 138.3" stroke="#d86e6c" stroke-width="1.1" fill="none"/><path d="M122.7 137.3L125.6 140.2M125.6 137.3L122.7 140.2" stroke="#d86e6c" stroke-width="1.1" fill="none"/><path d="M121.0 139.2L123.9 142.1M123.9 139.2L121.0 142.1" stroke="#d86e6c" stroke-width="1.1" fill="none"/><path d="M120.2 141.0L123.1 143.9M123.1 141.0L120.2 143.9" stroke="#d86e6c" stroke-width="1.1" fill="none"/><path d="M120.9 142.9L123.8 145.8M123.8 142.9L120.9 145.8" stroke="#d86e6c" stroke-width="1.1" fill="none"/><path d="M118.4 144.8L121.3 147.7M121.3 144.8L118.4 147.7" stroke="#d86e6c" stroke-width="1.1" fill="none"/><path d="M118.7 146.6L121.6 149.5M121.6 146.6L118.7 149.5" stroke="#d86e6c" stroke-width="1.1" fill="none"/><path d="M117.7 148.5L120.6 151.4M120.6 148.5L117.7 151.4" stroke="#d86e6c" stroke-width="1.1" fill="none"/><path d="M118.0 150.4L120.9 153.3M120.9 150.4L118.0 153.3" stroke="#d86e6c" stroke-width="1.1" fill="none"/><path d="M116.5 152.2L119.4 155.1M119.4 152.2L116.5 155.1" stroke="#d86e6c" stroke-width="1.1" fill="none"/><path d="M115.7 154.1L118.6 157.0M118.6 154.1L115.7 157.0" stroke="#d86e6c" stroke-width="1.1" fill="none"/><path d="M116.7 156.0L119.6 158.9M119.6 156.0L116.7 158.9" stroke="#d86e6c" stroke-width="1.1" fill="none"/><path d="M115.1 157.9L118.0 160.8M118.0 157.9L115.1 160.8" stroke="#d86e6c" stroke-width="1.1" fill="none"/><path d="M116.8 159.7L119.7 162.6M119.7 159.7L116.8 162.6" stroke="#d86e6c" stroke-width="1.1" fill="none"/><path d="M115.8 161.6L118.7 164.5M118.7 161.6L115.8 164.5" stroke="#d86e6c" stroke-width="1.1" fill="none"/><path d="M117.1 163.5L120.0 166.4M120.0 163.5L117.1 166.4" stroke="#d86e6c" stroke-width="1.1" fill="none"/><path d="M116.6 165.3L119.5 168.2M119.5 165.3L116.6 168.2" stroke="#d86e6c" stroke-width="1.1" fill="none"/><path d="M117.7 167.2L120.6 170.1M120.6 167.2L117.7 170.1" stroke="#d86e6c" stroke-width="1.1" fill="none"/><path d="M117.1 169.1L120.0 172.0M120.0 169.1L117.1 172.0" stroke="#d86e6c" stroke-width="1.1" fill="none"/><path d="M119.2 170.9L122.1 173.8M122.1 170.9L119.2 173.8" stroke="#d86e6c" stroke-width="1.1" fill="none"/><path d="M120.9 172.8L123.8 175.7M123.8 172.8L120.9 175.7" stroke="#d86e6c" stroke-width="1.1" fill="none"/><path d="M122.9 174.7L125.8 177.6M125.8 174.7L122.9 177.6" stroke="#d86e6c" stroke-width="1.1" fill="none"/><path d="M121.3 176.6L124.2 179.5M124.2 176.6L121.3 179.5" stroke="#d86e6c" stroke-width="1.1" fill="none"/><path d="M121.8 178.4L124.7 181.3M124.7 178.4L121.8 181.3" stroke="#d86e6c" stroke-width="1.1" fill="none"/><path d="M121.6 180.3L124.5 183.2M124.5 180.3L121.6 183.2" stroke="#d86e6c" stroke-width="1.1" fill="none"/><path d="M121.1 182.2L124.0 185.1M124.0 182.2L121.1 185.1" stroke="#d86e6c" stroke-width="1.1" fill="none"/><path d="M120.4 184.0L123.3 186.9M123.3 184.0L120.4 186.9" stroke="#d86e6c" stroke-width="1.1" fill="none"/><path d="M119.8 185.9L122.7 188.8M122.7 185.9L119.8 188.8" stroke="#d86e6c" stroke-width="1.1" fill="none"/><path d="M120.5 187.8L123.4 190.7M123.4 187.8L120.5 190.7" stroke="#d86e6c" stroke-width="1.1" fill="none"/><path d="M118.6 189.6L121.5 192.5M121.5 189.6L118.6 192.5" stroke="#d86e6c" stroke-width="1.1" fill="none"/><path d="M119.1 191.5L122.0 194.4M122.0 191.5L119.1 194.4" stroke="#d86e6c" stroke-width="1.1" fill="none"/><path d="M117.9 193.4L120.8 196.3M120.8 193.4L117.9 196.3" stroke="#d86e6c" stroke-width="1.1" fill="none"/><path d="M117.0 195.3L119.9 198.2M119.9 195.3L117.0 198.2" stroke="#d86e6c" stroke-width="1.1" fill="none"/><path d="M116.5 197.1L119.4 200.0M119.4 197.1L116.5 200.0" stroke="#d86e6c" stroke-width="1.1" fill="none"/><path d="M116.4 199.0L119.3 201.9M119.3 199.0L116.4 201.9" stroke="#d86e6c" stroke-width="1.1" fill="none"/><path d="M116.4 200.9L119.3 203.8M119.3 200.9L116.4 203.8" stroke="#d86e6c" stroke-width="1.1" fill="none"/><path d="M114.9 202.7L117.8 205.6M117.8 202.7L114.9 205.6" stroke="#d86e6c" stroke-width="1.1" fill="none"/><path d="M115.6 204.6L118.5 207.5M118.5 204.6L115.6 207.5" stroke="#d86e6c" stroke-width="1.1" fill="none"/><path d="M114.9 206.5L117.8 209.4M117.8 206.5L114.9 209.4" stroke="#d86e6c" stroke-width="1.1" fill="none"/><path d="M114.8 208.3L117.7 211.2M117.7 208.3L114.8 211.2" stroke="#d86e6c" stroke-width="1.1" fill="none"/><path d="M114.5 210.2L117.4 213.1M117.4 210.2L114.5 213.1" stroke="#d86e6c" stroke-width="1.1" fill="none"/><path d="M114.7 212.1L117.6 215.0M117.6 212.1L114.7 215.0" stroke="#d86e6c" stroke-width="1.1" fill="none"/><path d="M113.4 214.0L116.3 216.9M116.3 214.0L113.4 216.9" stroke="#d86e6c" stroke-width="1.1" fill="none"/><path d="M113.1 215.8L116.0 218.7M116.0 215.8L113.1 218.7" stroke="#d86e6c" stroke-width="1.1" fill="none"/><path d="M113.8 217.7L116.7 220.6M116.7 217.7L113.8 220.6" stroke="#d86e6c" stroke-width="1.1" fill="none"/><path d="M112.1 219.6L115.0 222.5M115.0 219.6L112.1 222.5" stroke="#d86e6c" stroke-width="1.1" fill="none"/><path d="M111.7 221.4L114.6 224.3M114.6 221.4L111.7 224.3" stroke="#d86e6c" stroke-width="1.1" fill="none"/><path d="M112.0 223.3L114.9 226.2M114.9 223.3L112.0 226.2" stroke="#d86e6c" stroke-width="1.1" fill="none"/><path d="M111.0 225.2L113.9 228.1M113.9 225.2L111.0 228.1" stroke="#d86e6c" stroke-width="1.1" fill="none"/><path d="M109.8 227.0L112.7 229.9M112.7 227.0L109.8 229.9" stroke="#d86e6c" stroke-width="1.1" fill="none"/><path d="M110.3 228.9L113.2 231.8M113.2 228.9L110.3 231.8" stroke="#d86e6c" stroke-width="1.1" fill="none"/><path d="M108.3 230.8L111.2 233.7M111.2 230.8L108.3 233.7" stroke="#d86e6c" stroke-width="1.1" fill="none"/><path d="M107.9 232.7L110.8 235.6M110.8 232.7L107.9 235.6" stroke="#d86e6c" stroke-width="1.1" fill="none"/><path d="M107.3 234.5L110.2 237.4M110.2 234.5L107.3 237.4" stroke="#d86e6c" stroke-width="1.1" fill="none"/><path d="M106.1 236.4L109.0 239.3M109.0 236.4L106.1 239.3" stroke="#d86e6c" stroke-width="1.1" fill="none"/><path d="M106.0 238.3L108.9 241.2M108.9 238.3L106.0 241.2" stroke="#d86e6c" stroke-width="1.1" fill="none"/><path d="M105.9 240.1L108.8 243.0M108.8 240.1L105.9 243.0" stroke="#d86e6c" stroke-width="1.1" fill="none"/><path d="M105.5 242.0L108.4 244.9M108.4 242.0L105.5 244.9" stroke="#d86e6c" stroke-width="1.1" fill="none"/><path d="M106.5 243.9L109.4 246.8M109.4 243.9L106.5 246.8" stroke="#d86e6c" stroke-width="1.1" fill="none"/><path d="M105.7 245.7L108.6 248.6M108.6 245.7L105.7 248.6" stroke="#d86e6c" stroke-width="1.1" fill="none"/><path d="M106.1 247.6L109.0 250.5M109.0 247.6L106.1 250.5" stroke="#d86e6c" stroke-width="1.1" fill="none"/><path d="M107.0 249.5L109.9 252.4M109.9 249.5L107.0 252.4" stroke="#d86e6c" stroke-width="1.1" fill="none"/><path d="M106.0 251.4L108.9 254.3M108.9 251.4L106.0 254.3" stroke="#d86e6c" stroke-width="1.1" fill="none"/><path d="M105.3 253.2L108.2 256.1M108.2 253.2L105.3 256.1" stroke="#d86e6c" stroke-width="1.1" fill="none"/><path d="M104.8 255.1L107.7 258.0M107.7 255.1L104.8 258.0" stroke="#d86e6c" stroke-width="1.1" fill="none"/><path d="M105.7 257.0L108.6 259.9M108.6 257.0L105.7 259.9" stroke="#d86e6c" stroke-width="1.1" fill="none"/><path d="M106.9 258.8L109.8 261.7M109.8 258.8L106.9 261.7" stroke="#d86e6c" stroke-width="1.1" fill="none"/><path d="M108.4 260.7L111.3 263.6M111.3 260.7L108.4 263.6" stroke="#d86e6c" stroke-width="1.1" fill="none"/><path d="M107.4 262.6L110.3 265.5M110.3 262.6L107.4 265.5" stroke="#d86e6c" stroke-width="1.1" fill="none"/><path d="M104.1 264.4L107.0 267.3M107.0 264.4L104.1 267.3" stroke="#d86e6c" stroke-width="1.1" fill="none"/><path d="M101.9 266.3L104.8 269.2M104.8 266.3L101.9 269.2" stroke="#d86e6c" stroke-width="1.1" fill="none"/><path d="M101.2 268.2L104.1 271.1M104.1 268.2L101.2 271.1" stroke="#d86e6c" stroke-width="1.1" fill="none"/><path d="M99.8 270.1L102.7 273.0M102.7 270.1L99.8 273.0" stroke="#d86e6c" stroke-width="1.1" fill="none"/><path d="M98.7 271.9L101.6 274.8M101.6 271.9L98.7 274.8" stroke="#d86e6c" stroke-width="1.1" fill="none"/><path d="M97.7 273.8L100.6 276.7M100.6 273.8L97.7 276.7" stroke="#d86e6c" stroke-width="1.1" fill="none"/><path d="M95.0 275.7L97.9 278.6M97.9 275.7L95.0 278.6" stroke="#d86e6c" stroke-width="1.1" fill="none"/><path d="M94.2 277.5L97.1 280.4M97.1 277.5L94.2 280.4" stroke="#d86e6c" stroke-width="1.1" fill="none"/><path d="M92.9 279.4L95.8 282.3M95.8 279.4L92.9 282.3" stroke="#d86e6c" stroke-width="1.1" fill="none"/><path d="M92.7 281.3L95.6 284.2M95.6 281.3L92.7 284.2" stroke="#d86e6c" stroke-width="1.1" fill="none"/><path d="M91.2 283.1L94.1 286.0M94.1 283.1L91.2 286.0" stroke="#d86e6c" stroke-width="1.1" fill="none"/><path d="M89.8 285.0L92.7 287.9M92.7 285.0L89.8 287.9" stroke="#d86e6c" stroke-width="1.1" fill="none"/><path d="M90.2 286.9L93.1 289.8M93.1 286.9L90.2 289.8" stroke="#d86e6c" stroke-width="1.1" fill="none"/><path d="M88.4 288.8L91.3 291.7M91.3 288.8L88.4 291.7" stroke="#d86e6c" stroke-width="1.1" fill="none"/><path d="M86.8 290.6L89.7 293.5M89.7 290.6L86.8 293.5" stroke="#d86e6c" stroke-width="1.1" fill="none"/><path d="M85.8 292.5L88.7 295.4M88.7 292.5L85.8 295.4" stroke="#d86e6c" stroke-width="1.1" fill="none"/><path d="M86.5 294.4L89.4 297.3M89.4 294.4L86.5 297.3" stroke="#d86e6c" stroke-width="1.1" fill="none"/><path d="M85.9 296.2L88.8 299.1M88.8 296.2L85.9 299.1" stroke="#d86e6c" stroke-width="1.1" fill="none"/><path d="M84.7 298.1L87.6 301.0M87.6 298.1L84.7 301.0" stroke="#d86e6c" stroke-width="1.1" fill="none"/><path d="M83.6 300.0L86.5 302.9M86.5 300.0L83.6 302.9" stroke="#d86e6c" stroke-width="1.1" fill="none"/><path d="M83.1 301.8L86.0 304.7M86.0 301.8L83.1 304.7" stroke="#d86e6c" stroke-width="1.1" fill="none"/></g><g><path d="M139.4 65.8 L138.9 67.7 L138.5 69.5 L138.5 71.4 L138.1 73.3 L136.6 75.2 L137.2 77.0 L135.8 78.9 L137.3 80.8 L137.9 82.6 L138.6 84.5 L139.0 86.4 L139.1 88.2 L140.2 90.1 L140.7 92.0 L142.0 93.9 L141.5 95.7 L142.9 97.6 L142.3 99.5 L142.6 101.3 L142.2 103.2 L141.7 105.1 L139.9 106.9 L138.7 108.8 L138.0 110.7 L136.7 112.6 L136.1 114.4 L135.8 116.3 L135.5 118.2 L134.4 120.0 L134.9 121.9 L134.0 123.8 L134.4 125.6 L135.5 127.5 L134.8 129.4 L135.1 131.3 L134.2 133.1 L134.4 135.0 L136.2 136.9 L135.4 138.7 L136.2 140.6 L136.4 142.5 L136.1 144.3 L135.5 146.2 L135.0 148.1 L134.8 150.0 L135.0 151.8 L134.3 153.7 L134.2 155.6 L134.6 157.4 L136.3 159.3 L136.6 161.2 L136.7 163.0 L136.8 164.9 L138.5 166.8 L140.4 168.7 L139.8 170.5 L138.8 172.4 L139.2 174.3 L138.5 176.1 L136.7 178.0 L136.4 179.9 L135.0 181.7 L134.1 183.6 L135.0 185.5 L133.7 187.4 L134.0 189.2 L132.9 191.1 L132.5 193.0 L131.5 194.8 L131.7 196.7 L131.8 198.6 L131.5 200.4 L131.0 202.3 L129.9 204.2 L129.4 206.1 L129.7 207.9 L129.2 209.8 L127.2 211.7 L125.7 213.5 L126.4 215.4 L125.9 217.3 L124.2 219.1 L124.3 221.0 L124.4 222.9 L123.8 224.8 L122.0 226.6 L121.4 228.5 L119.6 230.4 L118.6 232.2 L117.7 234.1 L117.6 236.0 L116.8 237.8 L116.0 239.7 L114.7 241.6 L114.9 243.5 L114.9 245.3 L114.3 247.2 L114.8 249.1 L115.8 250.9 L112.1 252.8 L110.0 254.7 L107.6 256.5 L111.7 258.4 L115.4 260.3 L120.4 262.2 L120.0 264.0 L115.4 265.9 L112.7 267.8 L110.0 269.6 L108.9 271.5 L106.8 273.4 L104.4 275.2 L104.0 277.1 L101.7 279.0 L99.4 280.9 L98.3 282.7 L97.7 284.6 L97.1 286.5 L95.4 288.3 L94.1 290.2 L93.0 292.1 L90.7 293.9 L89.5 295.8 L88.4 297.7 L87.6 299.6 L86.9 301.4 L86.2 303.3" fill="none" stroke="#9fc86c" stroke-width="3.6" stroke-linejoin="round"/><circle cx="139.4" cy="65.8" r="1.7" fill="#98c264"/><circle cx="138.9" cy="67.7" r="1.7" fill="#98c264"/><circle cx="138.5" cy="69.5" r="1.7" fill="#98c264"/><circle cx="138.5" cy="71.4" r="1.7" fill="#98c264"/><circle cx="138.1" cy="73.3" r="1.7" fill="#98c264"/><circle cx="136.6" cy="75.2" r="1.7" fill="#98c264"/><circle cx="137.2" cy="77.0" r="1.7" fill="#98c264"/><circle cx="135.8" cy="78.9" r="1.7" fill="#98c264"/><circle cx="137.3" cy="80.8" r="1.7" fill="#98c264"/><circle cx="137.9" cy="82.6" r="1.7" fill="#98c264"/><circle cx="138.6" cy="84.5" r="1.7" fill="#98c264"/><circle cx="139.0" cy="86.4" r="1.7" fill="#98c264"/><circle cx="139.1" cy="88.2" r="1.7" fill="#98c264"/><circle cx="140.2" cy="90.1" r="1.7" fill="#98c264"/><circle cx="140.7" cy="92.0" r="1.7" fill="#98c264"/><circle cx="142.0" cy="93.9" r="1.7" fill="#98c264"/><circle cx="141.5" cy="95.7" r="1.7" fill="#98c264"/><circle cx="142.9" cy="97.6" r="1.7" fill="#98c264"/><circle cx="142.3" cy="99.5" r="1.7" fill="#98c264"/><circle cx="142.6" cy="101.3" r="1.7" fill="#98c264"/><circle cx="142.2" cy="103.2" r="1.7" fill="#98c264"/><circle cx="141.7" cy="105.1" r="1.7" fill="#98c264"/><circle cx="139.9" cy="106.9" r="1.7" fill="#98c264"/><circle cx="138.7" cy="108.8" r="1.7" fill="#98c264"/><circle cx="138.0" cy="110.7" r="1.7" fill="#98c264"/><circle cx="136.7" cy="112.6" r="1.7" fill="#98c264"/><circle cx="136.1" cy="114.4" r="1.7" fill="#98c264"/><circle cx="135.8" cy="116.3" r="1.7" fill="#98c264"/><circle cx="135.5" cy="118.2" r="1.7" fill="#98c264"/><circle cx="134.4" cy="120.0" r="1.7" fill="#98c264"/><circle cx="134.9" cy="121.9" r="1.7" fill="#98c264"/><circle cx="134.0" cy="123.8" r="1.7" fill="#98c264"/><circle cx="134.4" cy="125.6" r="1.7" fill="#98c264"/><circle cx="135.5" cy="127.5" r="1.7" fill="#98c264"/><circle cx="134.8" cy="129.4" r="1.7" fill="#98c264"/><circle cx="135.1" cy="131.3" r="1.7" fill="#98c264"/><circle cx="134.2" cy="133.1" r="1.7" fill="#98c264"/><circle cx="134.4" cy="135.0" r="1.7" fill="#98c264"/><circle cx="136.2" cy="136.9" r="1.7" fill="#98c264"/><circle cx="135.4" cy="138.7" r="1.7" fill="#98c264"/><circle cx="136.2" cy="140.6" r="1.7" fill="#98c264"/><circle cx="136.4" cy="142.5" r="1.7" fill="#98c264"/><circle cx="136.1" cy="144.3" r="1.7" fill="#98c264"/><circle cx="135.5" cy="146.2" r="1.7" fill="#98c264"/><circle cx="135.0" cy="148.1" r="1.7" fill="#98c264"/><circle cx="134.8" cy="150.0" r="1.7" fill="#98c264"/><circle cx="135.0" cy="151.8" r="1.7" fill="#98c264"/><circle cx="134.3" cy="153.7" r="1.7" fill="#98c264"/><circle cx="134.2" cy="155.6" r="1.7" fill="#98c264"/><circle cx="134.6" cy="157.4" r="1.7" fill="#98c264"/><circle cx="136.3" cy="159.3" r="1.7" fill="#98c264"/><circle cx="136.6" cy="161.2" r="1.7" fill="#98c264"/><circle cx="136.7" cy="163.0" r="1.7" fill="#98c264"/><circle cx="136.8" cy="164.9" r="1.7" fill="#98c264"/><circle cx="138.5" cy="166.8" r="1.7" fill="#98c264"/><circle cx="140.4" cy="168.7" r="1.7" fill="#98c264"/><circle cx="139.8" cy="170.5" r="1.7" fill="#98c264"/><circle cx="138.8" cy="172.4" r="1.7" fill="#98c264"/><circle cx="139.2" cy="174.3" r="1.7" fill="#98c264"/><circle cx="138.5" cy="176.1" r="1.7" fill="#98c264"/><circle cx="136.7" cy="178.0" r="1.7" fill="#98c264"/><circle cx="136.4" cy="179.9" r="1.7" fill="#98c264"/><circle cx="135.0" cy="181.7" r="1.7" fill="#98c264"/><circle cx="134.1" cy="183.6" r="1.7" fill="#98c264"/><circle cx="135.0" cy="185.5" r="1.7" fill="#98c264"/><circle cx="133.7" cy="187.4" r="1.7" fill="#98c264"/><circle cx="134.0" cy="189.2" r="1.7" fill="#98c264"/><circle cx="132.9" cy="191.1" r="1.7" fill="#98c264"/><circle cx="132.5" cy="193.0" r="1.7" fill="#98c264"/><circle cx="131.5" cy="194.8" r="1.7" fill="#98c264"/><circle cx="131.7" cy="196.7" r="1.7" fill="#98c264"/><circle cx="131.8" cy="198.6" r="1.7" fill="#98c264"/><circle cx="131.5" cy="200.4" r="1.7" fill="#98c264"/><circle cx="131.0" cy="202.3" r="1.7" fill="#98c264"/><circle cx="129.9" cy="204.2" r="1.7" fill="#98c264"/><circle cx="129.4" cy="206.1" r="1.7" fill="#98c264"/><circle cx="129.7" cy="207.9" r="1.7" fill="#98c264"/><circle cx="129.2" cy="209.8" r="1.7" fill="#98c264"/><circle cx="127.2" cy="211.7" r="1.7" fill="#98c264"/><circle cx="125.7" cy="213.5" r="1.7" fill="#98c264"/><circle cx="126.4" cy="215.4" r="1.7" fill="#98c264"/><circle cx="125.9" cy="217.3" r="1.7" fill="#98c264"/><circle cx="124.2" cy="219.1" r="1.7" fill="#98c264"/><circle cx="124.3" cy="221.0" r="1.7" fill="#98c264"/><circle cx="124.4" cy="222.9" r="1.7" fill="#98c264"/><circle cx="123.8" cy="224.8" r="1.7" fill="#98c264"/><circle cx="122.0" cy="226.6" r="1.7" fill="#98c264"/><circle cx="121.4" cy="228.5" r="1.7" fill="#98c264"/><circle cx="119.6" cy="230.4" r="1.7" fill="#98c264"/><circle cx="118.6" cy="232.2" r="1.7" fill="#98c264"/><circle cx="117.7" cy="234.1" r="1.7" fill="#98c264"/><circle cx="117.6" cy="236.0" r="1.7" fill="#98c264"/><circle cx="116.8" cy="237.8" r="1.7" fill="#98c264"/><circle cx="116.0" cy="239.7" r="1.7" fill="#98c264"/><circle cx="114.7" cy="241.6" r="1.7" fill="#98c264"/><circle cx="114.9" cy="243.5" r="1.7" fill="#98c264"/><circle cx="114.9" cy="245.3" r="1.7" fill="#98c264"/><circle cx="114.3" cy="247.2" r="1.7" fill="#98c264"/><circle cx="114.8" cy="249.1" r="1.7" fill="#98c264"/><circle cx="115.8" cy="250.9" r="1.7" fill="#98c264"/><circle cx="112.1" cy="252.8" r="1.7" fill="#98c264"/><circle cx="110.0" cy="254.7" r="1.7" fill="#98c264"/><circle cx="107.6" cy="256.5" r="1.7" fill="#98c264"/><circle cx="111.7" cy="258.4" r="1.7" fill="#98c264"/><circle cx="115.4" cy="260.3" r="1.7" fill="#98c264"/><circle cx="120.4" cy="262.2" r="1.7" fill="#98c264"/><circle cx="120.0" cy="264.0" r="1.7" fill="#98c264"/><circle cx="115.4" cy="265.9" r="1.7" fill="#98c264"/><circle cx="112.7" cy="267.8" r="1.7" fill="#98c264"/><circle cx="110.0" cy="269.6" r="1.7" fill="#98c264"/><circle cx="108.9" cy="271.5" r="1.7" fill="#98c264"/><circle cx="106.8" cy="273.4" r="1.7" fill="#98c264"/><circle cx="104.4" cy="275.2" r="1.7" fill="#98c264"/><circle cx="104.0" cy="277.1" r="1.7" fill="#98c264"/><circle cx="101.7" cy="279.0" r="1.7" fill="#98c264"/><circle cx="99.4" cy="280.9" r="1.7" fill="#98c264"/><circle cx="98.3" cy="282.7" r="1.7" fill="#98c264"/><circle cx="97.7" cy="284.6" r="1.7" fill="#98c264"/><circle cx="97.1" cy="286.5" r="1.7" fill="#98c264"/><circle cx="95.4" cy="288.3" r="1.7" fill="#98c264"/><circle cx="94.1" cy="290.2" r="1.7" fill="#98c264"/><circle cx="93.0" cy="292.1" r="1.7" fill="#98c264"/><circle cx="90.7" cy="293.9" r="1.7" fill="#98c264"/><circle cx="89.5" cy="295.8" r="1.7" fill="#98c264"/><circle cx="88.4" cy="297.7" r="1.7" fill="#98c264"/><circle cx="87.6" cy="299.6" r="1.7" fill="#98c264"/><circle cx="86.9" cy="301.4" r="1.7" fill="#98c264"/><circle cx="86.2" cy="303.3" r="1.7" fill="#98c264"/></g><g><path d="M151.5 65.8 L151.5 67.7 L150.4 69.5 L150.4 71.4 L150.3 73.3 L150.0 75.2 L150.1 77.0 L149.9 78.9 L149.3 80.8 L150.8 82.6 L151.0 84.5 L151.4 86.4 L152.0 88.2 L153.4 90.1 L155.1 92.0 L154.4 93.9 L155.6 95.7 L155.7 97.6 L155.8 99.5 L154.8 101.3 L154.2 103.2 L154.0 105.1 L153.3 106.9 L151.9 108.8 L152.2 110.7 L152.0 112.6 L151.3 114.4 L149.0 116.3 L148.6 118.2 L148.0 120.0 L149.1 121.9 L148.3 123.8 L147.5 125.6 L147.7 127.5 L147.5 129.4 L147.3 131.3 L146.6 133.1 L147.9 135.0 L146.8 136.9 L145.8 138.7 L145.6 140.6 L146.7 142.5 L146.3 144.3 L144.8 146.2 L145.0 148.1 L144.4 150.0 L146.0 151.8 L144.9 153.7 L144.7 155.6 L145.8 157.4 L146.1 159.3 L146.4 161.2 L146.2 163.0 L147.0 164.9 L148.7 166.8 L148.4 168.7 L149.0 170.5 L148.8 172.4 L147.3 174.3 L146.9 176.1 L145.3 178.0 L144.4 179.9 L143.7 181.7 L143.6 183.6 L142.5 185.5 L141.0 187.4 L140.6 189.2 L139.5 191.1 L138.7 193.0 L138.8 194.8 L137.3 196.7 L137.0 198.6 L137.3 200.4 L136.3 202.3 L137.4 204.2 L135.6 206.1 L135.7 207.9 L134.2 209.8 L132.9 211.7 L132.4 213.5 L132.0 215.4 L131.6 217.3 L130.7 219.1 L130.6 221.0 L129.5 222.9 L129.0 224.8 L129.0 226.6 L127.0 228.5 L126.6 230.4 L125.0 232.2 L124.2 234.1 L122.4 236.0 L123.0 237.8 L121.7 239.7 L121.3 241.6 L120.1 243.5 L120.8 245.3 L121.2 247.2 L121.3 249.1 L123.8 250.9 L124.0 252.8 L121.3 254.7 L115.3 256.5 L116.4 258.4 L118.2 260.3 L119.6 262.2 L122.4 264.0 L121.0 265.9 L118.3 267.8 L115.9 269.6 L113.4 271.5 L111.6 273.4 L109.7 275.2 L107.6 277.1 L105.7 279.0 L103.8 280.9 L103.9 282.7 L100.7 284.6 L100.7 286.5 L98.3 288.3 L97.7 290.2 L94.8 292.1 L93.1 293.9 L91.6 295.8 L90.3 297.7 L88.0 299.6 L86.8 301.4 L84.6 303.3" fill="none" stroke="#ab9dd2" stroke-width="1.6" stroke-linejoin="round"/><rect x="150.3" y="65.1" width="2.4" height="1.4" fill="#9888c4"/><rect x="150.3" y="67.0" width="2.4" height="1.4" fill="#9888c4"/><rect x="149.2" y="68.8" width="2.4" height="1.4" fill="#9888c4"/><rect x="149.2" y="70.7" width="2.4" height="1.4" fill="#9888c4"/><rect x="149.1" y="72.6" width="2.4" height="1.4" fill="#9888c4"/><rect x="148.8" y="74.5" width="2.4" height="1.4" fill="#9888c4"/><rect x="148.9" y="76.3" width="2.4" height="1.4" fill="#9888c4"/><rect x="148.7" y="78.2" width="2.4" height="1.4" fill="#9888c4"/><rect x="148.1" y="80.1" width="2.4" height="1.4" fill="#9888c4"/><rect x="149.6" y="81.9" width="2.4" height="1.4" fill="#9888c4"/><rect x="149.8" y="83.8" width="2.4" height="1.4" fill="#9888c4"/><rect x="150.2" y="85.7" width="2.4" height="1.4" fill="#9888c4"/><rect x="150.8" y="87.5" width="2.4" height="1.4" fill="#9888c4"/><rect x="152.2" y="89.4" width="2.4" height="1.4" fill="#9888c4"/><rect x="153.9" y="91.3" width="2.4" height="1.4" fill="#9888c4"/><rect x="153.2" y="93.2" width="2.4" height="1.4" fill="#9888c4"/><rect x="154.4" y="95.0" width="2.4" height="1.4" fill="#9888c4"/><rect x="154.5" y="96.9" width="2.4" height="1.4" fill="#9888c4"/><rect x="154.6" y="98.8" width="2.4" height="1.4" fill="#9888c4"/><rect x="153.6" y="100.6" width="2.4" height="1.4" fill="#9888c4"/><rect x="153.0" y="102.5" width="2.4" height="1.4" fill="#9888c4"/><rect x="152.8" y="104.4" width="2.4" height="1.4" fill="#9888c4"/><rect x="152.1" y="106.2" width="2.4" height="1.4" fill="#9888c4"/><rect x="150.7" y="108.1" width="2.4" height="1.4" fill="#9888c4"/><rect x="151.0" y="110.0" width="2.4" height="1.4" fill="#9888c4"/><rect x="150.8" y="111.9" width="2.4" height="1.4" fill="#9888c4"/><rect x="150.1" y="113.7" width="2.4" height="1.4" fill="#9888c4"/><rect x="147.8" y="115.6" width="2.4" height="1.4" fill="#9888c4"/><rect x="147.4" y="117.5" width="2.4" height="1.4" fill="#9888c4"/><rect x="146.8" y="119.3" width="2.4" height="1.4" fill="#9888c4"/><rect x="147.9" y="121.2" width="2.4" height="1.4" fill="#9888c4"/><rect x="147.1" y="123.1" width="2.4" height="1.4" fill="#9888c4"/><rect x="146.3" y="124.9" width="2.4" height="1.4" fill="#9888c4"/><rect x="146.5" y="126.8" width="2.4" height="1.4" fill="#9888c4"/><rect x="146.3" y="128.7" width="2.4" height="1.4" fill="#9888c4"/><rect x="146.1" y="130.6" width="2.4" height="1.4" fill="#9888c4"/><rect x="145.4" y="132.4" width="2.4" height="1.4" fill="#9888c4"/><rect x="146.7" y="134.3" width="2.4" height="1.4" fill="#9888c4"/><rect x="145.6" y="136.2" width="2.4" height="1.4" fill="#9888c4"/><rect x="144.6" y="138.0" width="2.4" height="1.4" fill="#9888c4"/><rect x="144.4" y="139.9" width="2.4" height="1.4" fill="#9888c4"/><rect x="145.5" y="141.8" width="2.4" height="1.4" fill="#9888c4"/><rect x="145.1" y="143.6" width="2.4" height="1.4" fill="#9888c4"/><rect x="143.6" y="145.5" width="2.4" height="1.4" fill="#9888c4"/><rect x="143.8" y="147.4" width="2.4" height="1.4" fill="#9888c4"/><rect x="143.2" y="149.3" width="2.4" height="1.4" fill="#9888c4"/><rect x="144.8" y="151.1" width="2.4" height="1.4" fill="#9888c4"/><rect x="143.7" y="153.0" width="2.4" height="1.4" fill="#9888c4"/><rect x="143.5" y="154.9" width="2.4" height="1.4" fill="#9888c4"/><rect x="144.6" y="156.7" width="2.4" height="1.4" fill="#9888c4"/><rect x="144.9" y="158.6" width="2.4" height="1.4" fill="#9888c4"/><rect x="145.2" y="160.5" width="2.4" height="1.4" fill="#9888c4"/><rect x="145.0" y="162.3" width="2.4" height="1.4" fill="#9888c4"/><rect x="145.8" y="164.2" width="2.4" height="1.4" fill="#9888c4"/><rect x="147.5" y="166.1" width="2.4" height="1.4" fill="#9888c4"/><rect x="147.2" y="168.0" width="2.4" height="1.4" fill="#9888c4"/><rect x="147.8" y="169.8" width="2.4" height="1.4" fill="#9888c4"/><rect x="147.6" y="171.7" width="2.4" height="1.4" fill="#9888c4"/><rect x="146.1" y="173.6" width="2.4" height="1.4" fill="#9888c4"/><rect x="145.7" y="175.4" width="2.4" height="1.4" fill="#9888c4"/><rect x="144.1" y="177.3" width="2.4" height="1.4" fill="#9888c4"/><rect x="143.2" y="179.2" width="2.4" height="1.4" fill="#9888c4"/><rect x="142.5" y="181.0" width="2.4" height="1.4" fill="#9888c4"/><rect x="142.4" y="182.9" width="2.4" height="1.4" fill="#9888c4"/><rect x="141.3" y="184.8" width="2.4" height="1.4" fill="#9888c4"/><rect x="139.8" y="186.7" width="2.4" height="1.4" fill="#9888c4"/><rect x="139.4" y="188.5" width="2.4" height="1.4" fill="#9888c4"/><rect x="138.3" y="190.4" width="2.4" height="1.4" fill="#9888c4"/><rect x="137.5" y="192.3" width="2.4" height="1.4" fill="#9888c4"/><rect x="137.6" y="194.1" width="2.4" height="1.4" fill="#9888c4"/><rect x="136.1" y="196.0" width="2.4" height="1.4" fill="#9888c4"/><rect x="135.8" y="197.9" width="2.4" height="1.4" fill="#9888c4"/><rect x="136.1" y="199.7" width="2.4" height="1.4" fill="#9888c4"/><rect x="135.1" y="201.6" width="2.4" height="1.4" fill="#9888c4"/><rect x="136.2" y="203.5" width="2.4" height="1.4" fill="#9888c4"/><rect x="134.4" y="205.4" width="2.4" height="1.4" fill="#9888c4"/><rect x="134.5" y="207.2" width="2.4" height="1.4" fill="#9888c4"/><rect x="133.0" y="209.1" width="2.4" height="1.4" fill="#9888c4"/><rect x="131.7" y="211.0" width="2.4" height="1.4" fill="#9888c4"/><rect x="131.2" y="212.8" width="2.4" height="1.4" fill="#9888c4"/><rect x="130.8" y="214.7" width="2.4" height="1.4" fill="#9888c4"/><rect x="130.4" y="216.6" width="2.4" height="1.4" fill="#9888c4"/><rect x="129.5" y="218.4" width="2.4" height="1.4" fill="#9888c4"/><rect x="129.4" y="220.3" width="2.4" height="1.4" fill="#9888c4"/><rect x="128.3" y="222.2" width="2.4" height="1.4" fill="#9888c4"/><rect x="127.8" y="224.1" width="2.4" height="1.4" fill="#9888c4"/><rect x="127.8" y="225.9" width="2.4" height="1.4" fill="#9888c4"/><rect x="125.8" y="227.8" width="2.4" height="1.4" fill="#9888c4"/><rect x="125.4" y="229.7" width="2.4" height="1.4" fill="#9888c4"/><rect x="123.8" y="231.5" width="2.4" height="1.4" fill="#9888c4"/><rect x="123.0" y="233.4" width="2.4" height="1.4" fill="#9888c4"/><rect x="121.2" y="235.3" width="2.4" height="1.4" fill="#9888c4"/><rect x="121.8" y="237.1" width="2.4" height="1.4" fill="#9888c4"/><rect x="120.5" y="239.0" width="2.4" height="1.4" fill="#9888c4"/><rect x="120.1" y="240.9" width="2.4" height="1.4" fill="#9888c4"/><rect x="118.9" y="242.8" width="2.4" height="1.4" fill="#9888c4"/><rect x="119.6" y="244.6" width="2.4" height="1.4" fill="#9888c4"/><rect x="120.0" y="246.5" width="2.4" height="1.4" fill="#9888c4"/><rect x="120.1" y="248.4" width="2.4" height="1.4" fill="#9888c4"/><rect x="122.6" y="250.2" width="2.4" height="1.4" fill="#9888c4"/><rect x="122.8" y="252.1" width="2.4" height="1.4" fill="#9888c4"/><rect x="120.1" y="254.0" width="2.4" height="1.4" fill="#9888c4"/><rect x="114.1" y="255.8" width="2.4" height="1.4" fill="#9888c4"/><rect x="115.2" y="257.7" width="2.4" height="1.4" fill="#9888c4"/><rect x="117.0" y="259.6" width="2.4" height="1.4" fill="#9888c4"/><rect x="118.4" y="261.5" width="2.4" height="1.4" fill="#9888c4"/><rect x="121.2" y="263.3" width="2.4" height="1.4" fill="#9888c4"/><rect x="119.8" y="265.2" width="2.4" height="1.4" fill="#9888c4"/><rect x="117.1" y="267.1" width="2.4" height="1.4" fill="#9888c4"/><rect x="114.7" y="268.9" width="2.4" height="1.4" fill="#9888c4"/><rect x="112.2" y="270.8" width="2.4" height="1.4" fill="#9888c4"/><rect x="110.4" y="272.7" width="2.4" height="1.4" fill="#9888c4"/><rect x="108.5" y="274.5" width="2.4" height="1.4" fill="#9888c4"/><rect x="106.4" y="276.4" width="2.4" height="1.4" fill="#9888c4"/><rect x="104.5" y="278.3" width="2.4" height="1.4" fill="#9888c4"/><rect x="102.6" y="280.2" width="2.4" height="1.4" fill="#9888c4"/><rect x="102.7" y="282.0" width="2.4" height="1.4" fill="#9888c4"/><rect x="99.5" y="283.9" width="2.4" height="1.4" fill="#9888c4"/><rect x="99.5" y="285.8" width="2.4" height="1.4" fill="#9888c4"/><rect x="97.1" y="287.6" width="2.4" height="1.4" fill="#9888c4"/><rect x="96.5" y="289.5" width="2.4" height="1.4" fill="#9888c4"/><rect x="93.6" y="291.4" width="2.4" height="1.4" fill="#9888c4"/><rect x="91.9" y="293.2" width="2.4" height="1.4" fill="#9888c4"/><rect x="90.4" y="295.1" width="2.4" height="1.4" fill="#9888c4"/><rect x="89.1" y="297.0" width="2.4" height="1.4" fill="#9888c4"/><rect x="86.8" y="298.9" width="2.4" height="1.4" fill="#9888c4"/><rect x="85.6" y="300.7" width="2.4" height="1.4" fill="#9888c4"/><rect x="83.4" y="302.6" width="2.4" height="1.4" fill="#9888c4"/></g><g><path d="M146.2 65.8 L145.9 67.7 L145.6 69.5 L144.7 71.4 L145.7 73.3 L144.4 75.2 L144.8 77.0 L144.2 78.9 L144.7 80.8 L145.0 82.6 L145.4 84.5 L145.3 86.4 L146.7 88.2 L147.3 90.1 L148.0 92.0 L147.2 93.9 L148.4 95.7 L149.5 97.6 L149.3 99.5 L148.4 101.3 L148.8 103.2 L148.4 105.1 L146.6 106.9 L146.7 108.8 L144.2 110.7 L143.8 112.6 L142.9 114.4 L142.5 116.3 L142.0 118.2 L142.8 120.0 L141.3 121.9 L142.2 123.8 L141.6 125.6 L141.5 127.5 L140.0 129.4 L140.2 131.3 L140.8 133.1 L140.7 135.0 L141.6 136.9 L140.5 138.7 L142.1 140.6 L141.5 142.5 L141.3 144.3 L140.6 146.2 L141.2 148.1 L142.3 150.0 L140.9 151.8 L141.9 153.7 L140.7 155.6 L142.8 157.4 L143.0 159.3 L143.2 161.2 L142.5 163.0 L143.3 164.9 L144.5 166.8 L145.5 168.7 L145.9 170.5 L145.7 172.4 L144.6 174.3 L143.6 176.1 L143.9 178.0 L143.0 179.9 L143.8 181.7 L141.5 183.6 L141.8 185.5 L142.4 187.4 L141.8 189.2 L141.4 191.1 L141.8 193.0 L141.3 194.8 L140.7 196.7 L141.3 198.6 L138.5 200.4 L137.6 202.3 L136.7 204.2 L135.8 206.1 L134.6 207.9 L134.0 209.8 L131.4 211.7 L131.5 213.5 L130.0 215.4 L130.6 217.3 L130.4 219.1 L128.5 221.0 L129.6 222.9 L127.9 224.8 L126.7 226.6 L126.9 228.5 L125.0 230.4 L123.7 232.2 L124.0 234.1 L123.0 236.0 L121.8 237.8 L121.8 239.7 L120.5 241.6 L120.9 243.5 L119.7 245.3 L119.1 247.2 L119.5 249.1 L119.1 250.9 L118.2 252.8 L116.4 254.7 L114.3 256.5 L114.5 258.4 L115.8 260.3 L118.6 262.2 L116.6 264.0 L115.3 265.9 L114.8 267.8 L112.3 269.6 L111.0 271.5 L108.9 273.4 L106.9 275.2 L105.4 277.1 L102.8 279.0 L101.6 280.9 L99.5 282.7 L99.5 284.6 L96.7 286.5 L95.8 288.3 L94.6 290.2 L92.4 292.1 L92.2 293.9 L89.6 295.8 L88.5 297.7 L88.5 299.6 L87.4 301.4 L84.5 303.3" fill="none" stroke="#a8d2ea" stroke-width="1.6" stroke-linejoin="round"/><rect x="145.0" y="65.1" width="2.4" height="1.4" fill="#92c4e0"/><rect x="144.7" y="67.0" width="2.4" height="1.4" fill="#92c4e0"/><rect x="144.4" y="68.8" width="2.4" height="1.4" fill="#92c4e0"/><rect x="143.5" y="70.7" width="2.4" height="1.4" fill="#92c4e0"/><rect x="144.5" y="72.6" width="2.4" height="1.4" fill="#92c4e0"/><rect x="143.2" y="74.5" width="2.4" height="1.4" fill="#92c4e0"/><rect x="143.6" y="76.3" width="2.4" height="1.4" fill="#92c4e0"/><rect x="143.0" y="78.2" width="2.4" height="1.4" fill="#92c4e0"/><rect x="143.5" y="80.1" width="2.4" height="1.4" fill="#92c4e0"/><rect x="143.8" y="81.9" width="2.4" height="1.4" fill="#92c4e0"/><rect x="144.2" y="83.8" width="2.4" height="1.4" fill="#92c4e0"/><rect x="144.1" y="85.7" width="2.4" height="1.4" fill="#92c4e0"/><rect x="145.5" y="87.5" width="2.4" height="1.4" fill="#92c4e0"/><rect x="146.1" y="89.4" width="2.4" height="1.4" fill="#92c4e0"/><rect x="146.8" y="91.3" width="2.4" height="1.4" fill="#92c4e0"/><rect x="146.0" y="93.2" width="2.4" height="1.4" fill="#92c4e0"/><rect x="147.2" y="95.0" width="2.4" height="1.4" fill="#92c4e0"/><rect x="148.3" y="96.9" width="2.4" height="1.4" fill="#92c4e0"/><rect x="148.1" y="98.8" width="2.4" height="1.4" fill="#92c4e0"/><rect x="147.2" y="100.6" width="2.4" height="1.4" fill="#92c4e0"/><rect x="147.6" y="102.5" width="2.4" height="1.4" fill="#92c4e0"/><rect x="147.2" y="104.4" width="2.4" height="1.4" fill="#92c4e0"/><rect x="145.4" y="106.2" width="2.4" height="1.4" fill="#92c4e0"/><rect x="145.5" y="108.1" width="2.4" height="1.4" fill="#92c4e0"/><rect x="143.0" y="110.0" width="2.4" height="1.4" fill="#92c4e0"/><rect x="142.6" y="111.9" width="2.4" height="1.4" fill="#92c4e0"/><rect x="141.7" y="113.7" width="2.4" height="1.4" fill="#92c4e0"/><rect x="141.3" y="115.6" width="2.4" height="1.4" fill="#92c4e0"/><rect x="140.8" y="117.5" width="2.4" height="1.4" fill="#92c4e0"/><rect x="141.6" y="119.3" width="2.4" height="1.4" fill="#92c4e0"/><rect x="140.1" y="121.2" width="2.4" height="1.4" fill="#92c4e0"/><rect x="141.0" y="123.1" width="2.4" height="1.4" fill="#92c4e0"/><rect x="140.4" y="124.9" width="2.4" height="1.4" fill="#92c4e0"/><rect x="140.3" y="126.8" width="2.4" height="1.4" fill="#92c4e0"/><rect x="138.8" y="128.7" width="2.4" height="1.4" fill="#92c4e0"/><rect x="139.0" y="130.6" width="2.4" height="1.4" fill="#92c4e0"/><rect x="139.6" y="132.4" width="2.4" height="1.4" fill="#92c4e0"/><rect x="139.5" y="134.3" width="2.4" height="1.4" fill="#92c4e0"/><rect x="140.4" y="136.2" width="2.4" height="1.4" fill="#92c4e0"/><rect x="139.3" y="138.0" width="2.4" height="1.4" fill="#92c4e0"/><rect x="140.9" y="139.9" width="2.4" height="1.4" fill="#92c4e0"/><rect x="140.3" y="141.8" width="2.4" height="1.4" fill="#92c4e0"/><rect x="140.1" y="143.6" width="2.4" height="1.4" fill="#92c4e0"/><rect x="139.4" y="145.5" width="2.4" height="1.4" fill="#92c4e0"/><rect x="140.0" y="147.4" width="2.4" height="1.4" fill="#92c4e0"/><rect x="141.1" y="149.3" width="2.4" height="1.4" fill="#92c4e0"/><rect x="139.7" y="151.1" width="2.4" height="1.4" fill="#92c4e0"/><rect x="140.7" y="153.0" width="2.4" height="1.4" fill="#92c4e0"/><rect x="139.5" y="154.9" width="2.4" height="1.4" fill="#92c4e0"/><rect x="141.6" y="156.7" width="2.4" height="1.4" fill="#92c4e0"/><rect x="141.8" y="158.6" width="2.4" height="1.4" fill="#92c4e0"/><rect x="142.0" y="160.5" width="2.4" height="1.4" fill="#92c4e0"/><rect x="141.3" y="162.3" width="2.4" height="1.4" fill="#92c4e0"/><rect x="142.1" y="164.2" width="2.4" height="1.4" fill="#92c4e0"/><rect x="143.3" y="166.1" width="2.4" height="1.4" fill="#92c4e0"/><rect x="144.3" y="168.0" width="2.4" height="1.4" fill="#92c4e0"/><rect x="144.7" y="169.8" width="2.4" height="1.4" fill="#92c4e0"/><rect x="144.5" y="171.7" width="2.4" height="1.4" fill="#92c4e0"/><rect x="143.4" y="173.6" width="2.4" height="1.4" fill="#92c4e0"/><rect x="142.4" y="175.4" width="2.4" height="1.4" fill="#92c4e0"/><rect x="142.7" y="177.3" width="2.4" height="1.4" fill="#92c4e0"/><rect x="141.8" y="179.2" width="2.4" height="1.4" fill="#92c4e0"/><rect x="142.6" y="181.0" width="2.4" height="1.4" fill="#92c4e0"/><rect x="140.3" y="182.9" width="2.4" height="1.4" fill="#92c4e0"/><rect x="140.6" y="184.8" width="2.4" height="1.4" fill="#92c4e0"/><rect x="141.2" y="186.7" width="2.4" height="1.4" fill="#92c4e0"/><rect x="140.6" y="188.5" width="2.4" height="1.4" fill="#92c4e0"/><rect x="140.2" y="190.4" width="2.4" height="1.4" fill="#92c4e0"/><rect x="140.6" y="192.3" width="2.4" height="1.4" fill="#92c4e0"/><rect x="140.1" y="194.1" width="2.4" height="1.4" fill="#92c4e0"/><rect x="139.5" y="196.0" width="2.4" height="1.4" fill="#92c4e0"/><rect x="140.1" y="197.9" width="2.4" height="1.4" fill="#92c4e0"/><rect x="137.3" y="199.7" width="2.4" height="1.4" fill="#92c4e0"/><rect x="136.4" y="201.6" width="2.4" height="1.4" fill="#92c4e0"/><rect x="135.5" y="203.5" width="2.4" height="1.4" fill="#92c4e0"/><rect x="134.6" y="205.4" width="2.4" height="1.4" fill="#92c4e0"/><rect x="133.4" y="207.2" width="2.4" height="1.4" fill="#92c4e0"/><rect x="132.8" y="209.1" width="2.4" height="1.4" fill="#92c4e0"/><rect x="130.2" y="211.0" width="2.4" height="1.4" fill="#92c4e0"/><rect x="130.3" y="212.8" width="2.4" height="1.4" fill="#92c4e0"/><rect x="128.8" y="214.7" width="2.4" height="1.4" fill="#92c4e0"/><rect x="129.4" y="216.6" width="2.4" height="1.4" fill="#92c4e0"/><rect x="129.2" y="218.4" width="2.4" height="1.4" fill="#92c4e0"/><rect x="127.3" y="220.3" width="2.4" height="1.4" fill="#92c4e0"/><rect x="128.4" y="222.2" width="2.4" height="1.4" fill="#92c4e0"/><rect x="126.7" y="224.1" width="2.4" height="1.4" fill="#92c4e0"/><rect x="125.5" y="225.9" width="2.4" height="1.4" fill="#92c4e0"/><rect x="125.7" y="227.8" width="2.4" height="1.4" fill="#92c4e0"/><rect x="123.8" y="229.7" width="2.4" height="1.4" fill="#92c4e0"/><rect x="122.5" y="231.5" width="2.4" height="1.4" fill="#92c4e0"/><rect x="122.8" y="233.4" width="2.4" height="1.4" fill="#92c4e0"/><rect x="121.8" y="235.3" width="2.4" height="1.4" fill="#92c4e0"/><rect x="120.6" y="237.1" width="2.4" height="1.4" fill="#92c4e0"/><rect x="120.6" y="239.0" width="2.4" height="1.4" fill="#92c4e0"/><rect x="119.3" y="240.9" width="2.4" height="1.4" fill="#92c4e0"/><rect x="119.7" y="242.8" width="2.4" height="1.4" fill="#92c4e0"/><rect x="118.5" y="244.6" width="2.4" height="1.4" fill="#92c4e0"/><rect x="117.9" y="246.5" width="2.4" height="1.4" fill="#92c4e0"/><rect x="118.3" y="248.4" width="2.4" height="1.4" fill="#92c4e0"/><rect x="117.9" y="250.2" width="2.4" height="1.4" fill="#92c4e0"/><rect x="117.0" y="252.1" width="2.4" height="1.4" fill="#92c4e0"/><rect x="115.2" y="254.0" width="2.4" height="1.4" fill="#92c4e0"/><rect x="113.1" y="255.8" width="2.4" height="1.4" fill="#92c4e0"/><rect x="113.3" y="257.7" width="2.4" height="1.4" fill="#92c4e0"/><rect x="114.6" y="259.6" width="2.4" height="1.4" fill="#92c4e0"/><rect x="117.4" y="261.5" width="2.4" height="1.4" fill="#92c4e0"/><rect x="115.4" y="263.3" width="2.4" height="1.4" fill="#92c4e0"/><rect x="114.1" y="265.2" width="2.4" height="1.4" fill="#92c4e0"/><rect x="113.6" y="267.1" width="2.4" height="1.4" fill="#92c4e0"/><rect x="111.1" y="268.9" width="2.4" height="1.4" fill="#92c4e0"/><rect x="109.8" y="270.8" width="2.4" height="1.4" fill="#92c4e0"/><rect x="107.7" y="272.7" width="2.4" height="1.4" fill="#92c4e0"/><rect x="105.7" y="274.5" width="2.4" height="1.4" fill="#92c4e0"/><rect x="104.2" y="276.4" width="2.4" height="1.4" fill="#92c4e0"/><rect x="101.6" y="278.3" width="2.4" height="1.4" fill="#92c4e0"/><rect x="100.4" y="280.2" width="2.4" height="1.4" fill="#92c4e0"/><rect x="98.3" y="282.0" width="2.4" height="1.4" fill="#92c4e0"/><rect x="98.3" y="283.9" width="2.4" height="1.4" fill="#92c4e0"/><rect x="95.5" y="285.8" width="2.4" height="1.4" fill="#92c4e0"/><rect x="94.6" y="287.6" width="2.4" height="1.4" fill="#92c4e0"/><rect x="93.4" y="289.5" width="2.4" height="1.4" fill="#92c4e0"/><rect x="91.2" y="291.4" width="2.4" height="1.4" fill="#92c4e0"/><rect x="91.0" y="293.2" width="2.4" height="1.4" fill="#92c4e0"/><rect x="88.4" y="295.1" width="2.4" height="1.4" fill="#92c4e0"/><rect x="87.3" y="297.0" width="2.4" height="1.4" fill="#92c4e0"/><rect x="87.3" y="298.9" width="2.4" height="1.4" fill="#92c4e0"/><rect x="86.2" y="300.7" width="2.4" height="1.4" fill="#92c4e0"/><rect x="83.3" y="302.6" width="2.4" height="1.4" fill="#92c4e0"/></g><g><path d="M176.0 65.8 L176.3 67.7 L175.4 69.5 L174.1 71.4 L172.7 73.3 L172.4 75.2 L171.1 77.0 L169.8 78.9 L169.7 80.8 L169.0 82.6 L170.1 84.5 L171.4 86.4 L173.0 88.2 L173.2 90.1 L173.2 92.0 L173.7 93.9 L173.7 95.7 L173.5 97.6 L174.3 99.5 L173.0 101.3 L172.1 103.2 L173.3 105.1 L171.9 106.9 L168.7 108.8 L168.0 110.7 L167.1 112.6 L166.1 114.4 L164.7 116.3 L164.1 118.2 L163.6 120.0 L161.4 121.9 L161.4 123.8 L161.7 125.6 L160.7 127.5 L162.4 129.4 L161.1 131.3 L161.2 133.1 L160.7 135.0 L161.2 136.9 L162.1 138.7 L161.7 140.6 L159.7 142.5 L161.0 144.3 L159.4 146.2 L158.3 148.1 L156.5 150.0 L156.5 151.8 L156.3 153.7 L157.2 155.6 L156.3 157.4 L158.3 159.3 L158.1 161.2 L158.3 163.0 L162.1 164.9 L162.8 166.8 L162.2 168.7 L161.3 170.5 L159.4 172.4 L158.1 174.3 L157.9 176.1 L156.4 178.0 L155.8 179.9 L154.2 181.7 L154.7 183.6 L153.2 185.5 L150.8 187.4 L150.9 189.2 L149.8 191.1 L150.4 193.0 L149.5 194.8 L149.0 196.7 L146.4 198.6 L146.3 200.4 L146.5 202.3 L143.9 204.2 L144.1 206.1 L142.3 207.9 L139.7 209.8 L139.5 211.7 L137.9 213.5 L137.9 215.4 L138.9 217.3 L138.7 219.1 L137.2 221.0 L136.8 222.9 L137.9 224.8 L137.5 226.6 L135.9 228.5 L133.7 230.4 L130.6 232.2 L129.6 234.1 L128.0 236.0 L126.4 237.8 L127.0 239.7 L124.5 241.6 L126.1 243.5 L127.5 245.3 L127.5 247.2 L129.4 249.1 L129.9 250.9 L128.0 252.8 L122.9 254.7 L121.9 256.5 L124.5 258.4 L126.9 260.3 L128.9 262.2 L123.7 264.0 L120.1 265.9 L117.9 267.8 L115.1 269.6 L113.7 271.5 L110.7 273.4 L109.2 275.2 L108.2 277.1 L106.6 279.0 L105.4 280.9 L104.7 282.7 L101.6 284.6 L100.3 286.5 L99.1 288.3 L99.1 290.2 L97.0 292.1 L95.3 293.9 L93.2 295.8 L92.1 297.7 L90.2 299.6 L89.2 301.4 L85.7 303.3" fill="none" stroke="#f5b88c" stroke-width="1.6" stroke-linejoin="round"/><rect x="174.5" y="65.1" width="3.0" height="1.4" fill="#f0a878"/><rect x="174.8" y="67.0" width="3.0" height="1.4" fill="#f0a878"/><rect x="173.9" y="68.8" width="3.0" height="1.4" fill="#f0a878"/><rect x="172.6" y="70.7" width="3.0" height="1.4" fill="#f0a878"/><rect x="171.2" y="72.6" width="3.0" height="1.4" fill="#f0a878"/><rect x="170.9" y="74.5" width="3.0" height="1.4" fill="#f0a878"/><rect x="169.6" y="76.3" width="3.0" height="1.4" fill="#f0a878"/><rect x="168.3" y="78.2" width="3.0" height="1.4" fill="#f0a878"/><rect x="168.2" y="80.1" width="3.0" height="1.4" fill="#f0a878"/><rect x="167.5" y="81.9" width="3.0" height="1.4" fill="#f0a878"/><rect x="168.6" y="83.8" width="3.0" height="1.4" fill="#f0a878"/><rect x="169.9" y="85.7" width="3.0" height="1.4" fill="#f0a878"/><rect x="171.5" y="87.5" width="3.0" height="1.4" fill="#f0a878"/><rect x="171.7" y="89.4" width="3.0" height="1.4" fill="#f0a878"/><rect x="171.7" y="91.3" width="3.0" height="1.4" fill="#f0a878"/><rect x="172.2" y="93.2" width="3.0" height="1.4" fill="#f0a878"/><rect x="172.2" y="95.0" width="3.0" height="1.4" fill="#f0a878"/><rect x="172.0" y="96.9" width="3.0" height="1.4" fill="#f0a878"/><rect x="172.8" y="98.8" width="3.0" height="1.4" fill="#f0a878"/><rect x="171.5" y="100.6" width="3.0" height="1.4" fill="#f0a878"/><rect x="170.6" y="102.5" width="3.0" height="1.4" fill="#f0a878"/><rect x="171.8" y="104.4" width="3.0" height="1.4" fill="#f0a878"/><rect x="170.4" y="106.2" width="3.0" height="1.4" fill="#f0a878"/><rect x="167.2" y="108.1" width="3.0" height="1.4" fill="#f0a878"/><rect x="166.5" y="110.0" width="3.0" height="1.4" fill="#f0a878"/><rect x="165.6" y="111.9" width="3.0" height="1.4" fill="#f0a878"/><rect x="164.6" y="113.7" width="3.0" height="1.4" fill="#f0a878"/><rect x="163.2" y="115.6" width="3.0" height="1.4" fill="#f0a878"/><rect x="162.6" y="117.5" width="3.0" height="1.4" fill="#f0a878"/><rect x="162.1" y="119.3" width="3.0" height="1.4" fill="#f0a878"/><rect x="159.9" y="121.2" width="3.0" height="1.4" fill="#f0a878"/><rect x="159.9" y="123.1" width="3.0" height="1.4" fill="#f0a878"/><rect x="160.2" y="124.9" width="3.0" height="1.4" fill="#f0a878"/><rect x="159.2" y="126.8" width="3.0" height="1.4" fill="#f0a878"/><rect x="160.9" y="128.7" width="3.0" height="1.4" fill="#f0a878"/><rect x="159.6" y="130.6" width="3.0" height="1.4" fill="#f0a878"/><rect x="159.7" y="132.4" width="3.0" height="1.4" fill="#f0a878"/><rect x="159.2" y="134.3" width="3.0" height="1.4" fill="#f0a878"/><rect x="159.7" y="136.2" width="3.0" height="1.4" fill="#f0a878"/><rect x="160.6" y="138.0" width="3.0" height="1.4" fill="#f0a878"/><rect x="160.2" y="139.9" width="3.0" height="1.4" fill="#f0a878"/><rect x="158.2" y="141.8" width="3.0" height="1.4" fill="#f0a878"/><rect x="159.5" y="143.6" width="3.0" height="1.4" fill="#f0a878"/><rect x="157.9" y="145.5" width="3.0" height="1.4" fill="#f0a878"/><rect x="156.8" y="147.4" width="3.0" height="1.4" fill="#f0a878"/><rect x="155.0" y="149.3" width="3.0" height="1.4" fill="#f0a878"/><rect x="155.0" y="151.1" width="3.0" height="1.4" fill="#f0a878"/><rect x="154.8" y="153.0" width="3.0" height="1.4" fill="#f0a878"/><rect x="155.7" y="154.9" width="3.0" height="1.4" fill="#f0a878"/><rect x="154.8" y="156.7" width="3.0" height="1.4" fill="#f0a878"/><rect x="156.8" y="158.6" width="3.0" height="1.4" fill="#f0a878"/><rect x="156.6" y="160.5" width="3.0" height="1.4" fill="#f0a878"/><rect x="156.8" y="162.3" width="3.0" height="1.4" fill="#f0a878"/><rect x="160.6" y="164.2" width="3.0" height="1.4" fill="#f0a878"/><rect x="161.3" y="166.1" width="3.0" height="1.4" fill="#f0a878"/><rect x="160.7" y="168.0" width="3.0" height="1.4" fill="#f0a878"/><rect x="159.8" y="169.8" width="3.0" height="1.4" fill="#f0a878"/><rect x="157.9" y="171.7" width="3.0" height="1.4" fill="#f0a878"/><rect x="156.6" y="173.6" width="3.0" height="1.4" fill="#f0a878"/><rect x="156.4" y="175.4" width="3.0" height="1.4" fill="#f0a878"/><rect x="154.9" y="177.3" width="3.0" height="1.4" fill="#f0a878"/><rect x="154.3" y="179.2" width="3.0" height="1.4" fill="#f0a878"/><rect x="152.7" y="181.0" width="3.0" height="1.4" fill="#f0a878"/><rect x="153.2" y="182.9" width="3.0" height="1.4" fill="#f0a878"/><rect x="151.7" y="184.8" width="3.0" height="1.4" fill="#f0a878"/><rect x="149.3" y="186.7" width="3.0" height="1.4" fill="#f0a878"/><rect x="149.4" y="188.5" width="3.0" height="1.4" fill="#f0a878"/><rect x="148.3" y="190.4" width="3.0" height="1.4" fill="#f0a878"/><rect x="148.9" y="192.3" width="3.0" height="1.4" fill="#f0a878"/><rect x="148.0" y="194.1" width="3.0" height="1.4" fill="#f0a878"/><rect x="147.5" y="196.0" width="3.0" height="1.4" fill="#f0a878"/><rect x="144.9" y="197.9" width="3.0" height="1.4" fill="#f0a878"/><rect x="144.8" y="199.7" width="3.0" height="1.4" fill="#f0a878"/><rect x="145.0" y="201.6" width="3.0" height="1.4" fill="#f0a878"/><rect x="142.4" y="203.5" width="3.0" height="1.4" fill="#f0a878"/><rect x="142.6" y="205.4" width="3.0" height="1.4" fill="#f0a878"/><rect x="140.8" y="207.2" width="3.0" height="1.4" fill="#f0a878"/><rect x="138.2" y="209.1" width="3.0" height="1.4" fill="#f0a878"/><rect x="138.0" y="211.0" width="3.0" height="1.4" fill="#f0a878"/><rect x="136.4" y="212.8" width="3.0" height="1.4" fill="#f0a878"/><rect x="136.4" y="214.7" width="3.0" height="1.4" fill="#f0a878"/><rect x="137.4" y="216.6" width="3.0" height="1.4" fill="#f0a878"/><rect x="137.2" y="218.4" width="3.0" height="1.4" fill="#f0a878"/><rect x="135.7" y="220.3" width="3.0" height="1.4" fill="#f0a878"/><rect x="135.3" y="222.2" width="3.0" height="1.4" fill="#f0a878"/><rect x="136.4" y="224.1" width="3.0" height="1.4" fill="#f0a878"/><rect x="136.0" y="225.9" width="3.0" height="1.4" fill="#f0a878"/><rect x="134.4" y="227.8" width="3.0" height="1.4" fill="#f0a878"/><rect x="132.2" y="229.7" width="3.0" height="1.4" fill="#f0a878"/><rect x="129.1" y="231.5" width="3.0" height="1.4" fill="#f0a878"/><rect x="128.1" y="233.4" width="3.0" height="1.4" fill="#f0a878"/><rect x="126.5" y="235.3" width="3.0" height="1.4" fill="#f0a878"/><rect x="124.9" y="237.1" width="3.0" height="1.4" fill="#f0a878"/><rect x="125.5" y="239.0" width="3.0" height="1.4" fill="#f0a878"/><rect x="123.0" y="240.9" width="3.0" height="1.4" fill="#f0a878"/><rect x="124.6" y="242.8" width="3.0" height="1.4" fill="#f0a878"/><rect x="126.0" y="244.6" width="3.0" height="1.4" fill="#f0a878"/><rect x="126.0" y="246.5" width="3.0" height="1.4" fill="#f0a878"/><rect x="127.9" y="248.4" width="3.0" height="1.4" fill="#f0a878"/><rect x="128.4" y="250.2" width="3.0" height="1.4" fill="#f0a878"/><rect x="126.5" y="252.1" width="3.0" height="1.4" fill="#f0a878"/><rect x="121.4" y="254.0" width="3.0" height="1.4" fill="#f0a878"/><rect x="120.4" y="255.8" width="3.0" height="1.4" fill="#f0a878"/><rect x="123.0" y="257.7" width="3.0" height="1.4" fill="#f0a878"/><rect x="125.4" y="259.6" width="3.0" height="1.4" fill="#f0a878"/><rect x="127.4" y="261.5" width="3.0" height="1.4" fill="#f0a878"/><rect x="122.2" y="263.3" width="3.0" height="1.4" fill="#f0a878"/><rect x="118.6" y="265.2" width="3.0" height="1.4" fill="#f0a878"/><rect x="116.4" y="267.1" width="3.0" height="1.4" fill="#f0a878"/><rect x="113.6" y="268.9" width="3.0" height="1.4" fill="#f0a878"/><rect x="112.2" y="270.8" width="3.0" height="1.4" fill="#f0a878"/><rect x="109.2" y="272.7" width="3.0" height="1.4" fill="#f0a878"/><rect x="107.7" y="274.5" width="3.0" height="1.4" fill="#f0a878"/><rect x="106.7" y="276.4" width="3.0" height="1.4" fill="#f0a878"/><rect x="105.1" y="278.3" width="3.0" height="1.4" fill="#f0a878"/><rect x="103.9" y="280.2" width="3.0" height="1.4" fill="#f0a878"/><rect x="103.2" y="282.0" width="3.0" height="1.4" fill="#f0a878"/><rect x="100.1" y="283.9" width="3.0" height="1.4" fill="#f0a878"/><rect x="98.8" y="285.8" width="3.0" height="1.4" fill="#f0a878"/><rect x="97.6" y="287.6" width="3.0" height="1.4" fill="#f0a878"/><rect x="97.6" y="289.5" width="3.0" height="1.4" fill="#f0a878"/><rect x="95.5" y="291.4" width="3.0" height="1.4" fill="#f0a878"/><rect x="93.8" y="293.2" width="3.0" height="1.4" fill="#f0a878"/><rect x="91.7" y="295.1" width="3.0" height="1.4" fill="#f0a878"/><rect x="90.6" y="297.0" width="3.0" height="1.4" fill="#f0a878"/><rect x="88.7" y="298.9" width="3.0" height="1.4" fill="#f0a878"/><rect x="87.7" y="300.7" width="3.0" height="1.4" fill="#f0a878"/><rect x="84.2" y="302.6" width="3.0" height="1.4" fill="#f0a878"/></g><g><path d="M147.9 65.8 L147.6 67.7 L147.5 69.5 L147.6 71.4 L146.6 73.3 L145.7 75.2 L145.9 77.0 L145.8 78.9 L145.4 80.8 L146.2 82.6 L146.5 84.5 L147.8 86.4 L148.4 88.2 L149.6 90.1 L151.2 92.0 L152.3 93.9 L151.8 95.7 L152.5 97.6 L153.6 99.5 L151.1 101.3 L150.3 103.2 L150.8 105.1 L150.1 106.9 L149.7 108.8 L148.3 110.7 L148.2 112.6 L146.1 114.4 L146.3 116.3 L146.1 118.2 L145.7 120.0 L143.9 121.9 L144.6 123.8 L144.8 125.6 L143.6 127.5 L144.3 129.4 L144.8 131.3 L143.9 133.1 L144.3 135.0 L142.4 136.9 L142.7 138.7 L141.9 140.6 L142.4 142.5 L142.4 144.3 L140.9 146.2 L140.9 148.1 L142.5 150.0 L141.1 151.8 L141.5 153.7 L141.4 155.6 L141.2 157.4 L142.7 159.3 L141.7 161.2 L142.5 163.0 L143.4 164.9 L145.0 166.8 L145.2 168.7 L144.3 170.5 L145.4 172.4 L143.8 174.3 L143.0 176.1 L142.5 178.0 L140.4 179.9 L139.2 181.7 L138.1 183.6 L138.4 185.5 L138.2 187.4 L136.2 189.2 L135.7 191.1 L134.9 193.0 L134.2 194.8 L134.0 196.7 L134.2 198.6 L133.5 200.4 L132.5 202.3 L132.1 204.2 L132.8 206.1 L132.8 207.9 L132.3 209.8 L128.8 211.7 L128.1 213.5 L128.0 215.4 L126.4 217.3 L126.3 219.1 L125.5 221.0 L125.0 222.9 L124.3 224.8 L124.2 226.6 L123.1 228.5 L122.6 230.4 L121.0 232.2 L120.9 234.1 L119.3 236.0 L118.4 237.8 L117.0 239.7 L117.1 241.6 L117.3 243.5 L117.4 245.3 L117.7 247.2 L118.3 249.1 L120.2 250.9 L119.8 252.8 L118.5 254.7 L111.6 256.5 L113.1 258.4 L115.2 260.3 L117.8 262.2 L121.1 264.0 L116.7 265.9 L115.1 267.8 L113.9 269.6 L112.2 271.5 L110.3 273.4 L107.7 275.2 L107.2 277.1 L104.0 279.0 L103.1 280.9 L101.4 282.7 L100.8 284.6 L98.8 286.5 L96.8 288.3 L96.0 290.2 L93.8 292.1 L93.0 293.9 L90.7 295.8 L89.4 297.7 L87.0 299.6 L86.6 301.4 L84.5 303.3" fill="none" stroke="#b8cbea" stroke-width="2.6" stroke-linejoin="round"/><circle cx="147.9" cy="65.8" r="1.4" fill="#a8bee4"/><circle cx="147.6" cy="67.7" r="1.4" fill="#a8bee4"/><circle cx="147.5" cy="69.5" r="1.4" fill="#a8bee4"/><circle cx="147.6" cy="71.4" r="1.4" fill="#a8bee4"/><circle cx="146.6" cy="73.3" r="1.4" fill="#a8bee4"/><circle cx="145.7" cy="75.2" r="1.4" fill="#a8bee4"/><circle cx="145.9" cy="77.0" r="1.4" fill="#a8bee4"/><circle cx="145.8" cy="78.9" r="1.4" fill="#a8bee4"/><circle cx="145.4" cy="80.8" r="1.4" fill="#a8bee4"/><circle cx="146.2" cy="82.6" r="1.4" fill="#a8bee4"/><circle cx="146.5" cy="84.5" r="1.4" fill="#a8bee4"/><circle cx="147.8" cy="86.4" r="1.4" fill="#a8bee4"/><circle cx="148.4" cy="88.2" r="1.4" fill="#a8bee4"/><circle cx="149.6" cy="90.1" r="1.4" fill="#a8bee4"/><circle cx="151.2" cy="92.0" r="1.4" fill="#a8bee4"/><circle cx="152.3" cy="93.9" r="1.4" fill="#a8bee4"/><circle cx="151.8" cy="95.7" r="1.4" fill="#a8bee4"/><circle cx="152.5" cy="97.6" r="1.4" fill="#a8bee4"/><circle cx="153.6" cy="99.5" r="1.4" fill="#a8bee4"/><circle cx="151.1" cy="101.3" r="1.4" fill="#a8bee4"/><circle cx="150.3" cy="103.2" r="1.4" fill="#a8bee4"/><circle cx="150.8" cy="105.1" r="1.4" fill="#a8bee4"/><circle cx="150.1" cy="106.9" r="1.4" fill="#a8bee4"/><circle cx="149.7" cy="108.8" r="1.4" fill="#a8bee4"/><circle cx="148.3" cy="110.7" r="1.4" fill="#a8bee4"/><circle cx="148.2" cy="112.6" r="1.4" fill="#a8bee4"/><circle cx="146.1" cy="114.4" r="1.4" fill="#a8bee4"/><circle cx="146.3" cy="116.3" r="1.4" fill="#a8bee4"/><circle cx="146.1" cy="118.2" r="1.4" fill="#a8bee4"/><circle cx="145.7" cy="120.0" r="1.4" fill="#a8bee4"/><circle cx="143.9" cy="121.9" r="1.4" fill="#a8bee4"/><circle cx="144.6" cy="123.8" r="1.4" fill="#a8bee4"/><circle cx="144.8" cy="125.6" r="1.4" fill="#a8bee4"/><circle cx="143.6" cy="127.5" r="1.4" fill="#a8bee4"/><circle cx="144.3" cy="129.4" r="1.4" fill="#a8bee4"/><circle cx="144.8" cy="131.3" r="1.4" fill="#a8bee4"/><circle cx="143.9" cy="133.1" r="1.4" fill="#a8bee4"/><circle cx="144.3" cy="135.0" r="1.4" fill="#a8bee4"/><circle cx="142.4" cy="136.9" r="1.4" fill="#a8bee4"/><circle cx="142.7" cy="138.7" r="1.4" fill="#a8bee4"/><circle cx="141.9" cy="140.6" r="1.4" fill="#a8bee4"/><circle cx="142.4" cy="142.5" r="1.4" fill="#a8bee4"/><circle cx="142.4" cy="144.3" r="1.4" fill="#a8bee4"/><circle cx="140.9" cy="146.2" r="1.4" fill="#a8bee4"/><circle cx="140.9" cy="148.1" r="1.4" fill="#a8bee4"/><circle cx="142.5" cy="150.0" r="1.4" fill="#a8bee4"/><circle cx="141.1" cy="151.8" r="1.4" fill="#a8bee4"/><circle cx="141.5" cy="153.7" r="1.4" fill="#a8bee4"/><circle cx="141.4" cy="155.6" r="1.4" fill="#a8bee4"/><circle cx="141.2" cy="157.4" r="1.4" fill="#a8bee4"/><circle cx="142.7" cy="159.3" r="1.4" fill="#a8bee4"/><circle cx="141.7" cy="161.2" r="1.4" fill="#a8bee4"/><circle cx="142.5" cy="163.0" r="1.4" fill="#a8bee4"/><circle cx="143.4" cy="164.9" r="1.4" fill="#a8bee4"/><circle cx="145.0" cy="166.8" r="1.4" fill="#a8bee4"/><circle cx="145.2" cy="168.7" r="1.4" fill="#a8bee4"/><circle cx="144.3" cy="170.5" r="1.4" fill="#a8bee4"/><circle cx="145.4" cy="172.4" r="1.4" fill="#a8bee4"/><circle cx="143.8" cy="174.3" r="1.4" fill="#a8bee4"/><circle cx="143.0" cy="176.1" r="1.4" fill="#a8bee4"/><circle cx="142.5" cy="178.0" r="1.4" fill="#a8bee4"/><circle cx="140.4" cy="179.9" r="1.4" fill="#a8bee4"/><circle cx="139.2" cy="181.7" r="1.4" fill="#a8bee4"/><circle cx="138.1" cy="183.6" r="1.4" fill="#a8bee4"/><circle cx="138.4" cy="185.5" r="1.4" fill="#a8bee4"/><circle cx="138.2" cy="187.4" r="1.4" fill="#a8bee4"/><circle cx="136.2" cy="189.2" r="1.4" fill="#a8bee4"/><circle cx="135.7" cy="191.1" r="1.4" fill="#a8bee4"/><circle cx="134.9" cy="193.0" r="1.4" fill="#a8bee4"/><circle cx="134.2" cy="194.8" r="1.4" fill="#a8bee4"/><circle cx="134.0" cy="196.7" r="1.4" fill="#a8bee4"/><circle cx="134.2" cy="198.6" r="1.4" fill="#a8bee4"/><circle cx="133.5" cy="200.4" r="1.4" fill="#a8bee4"/><circle cx="132.5" cy="202.3" r="1.4" fill="#a8bee4"/><circle cx="132.1" cy="204.2" r="1.4" fill="#a8bee4"/><circle cx="132.8" cy="206.1" r="1.4" fill="#a8bee4"/><circle cx="132.8" cy="207.9" r="1.4" fill="#a8bee4"/><circle cx="132.3" cy="209.8" r="1.4" fill="#a8bee4"/><circle cx="128.8" cy="211.7" r="1.4" fill="#a8bee4"/><circle cx="128.1" cy="213.5" r="1.4" fill="#a8bee4"/><circle cx="128.0" cy="215.4" r="1.4" fill="#a8bee4"/><circle cx="126.4" cy="217.3" r="1.4" fill="#a8bee4"/><circle cx="126.3" cy="219.1" r="1.4" fill="#a8bee4"/><circle cx="125.5" cy="221.0" r="1.4" fill="#a8bee4"/><circle cx="125.0" cy="222.9" r="1.4" fill="#a8bee4"/><circle cx="124.3" cy="224.8" r="1.4" fill="#a8bee4"/><circle cx="124.2" cy="226.6" r="1.4" fill="#a8bee4"/><circle cx="123.1" cy="228.5" r="1.4" fill="#a8bee4"/><circle cx="122.6" cy="230.4" r="1.4" fill="#a8bee4"/><circle cx="121.0" cy="232.2" r="1.4" fill="#a8bee4"/><circle cx="120.9" cy="234.1" r="1.4" fill="#a8bee4"/><circle cx="119.3" cy="236.0" r="1.4" fill="#a8bee4"/><circle cx="118.4" cy="237.8" r="1.4" fill="#a8bee4"/><circle cx="117.0" cy="239.7" r="1.4" fill="#a8bee4"/><circle cx="117.1" cy="241.6" r="1.4" fill="#a8bee4"/><circle cx="117.3" cy="243.5" r="1.4" fill="#a8bee4"/><circle cx="117.4" cy="245.3" r="1.4" fill="#a8bee4"/><circle cx="117.7" cy="247.2" r="1.4" fill="#a8bee4"/><circle cx="118.3" cy="249.1" r="1.4" fill="#a8bee4"/><circle cx="120.2" cy="250.9" r="1.4" fill="#a8bee4"/><circle cx="119.8" cy="252.8" r="1.4" fill="#a8bee4"/><circle cx="118.5" cy="254.7" r="1.4" fill="#a8bee4"/><circle cx="111.6" cy="256.5" r="1.4" fill="#a8bee4"/><circle cx="113.1" cy="258.4" r="1.4" fill="#a8bee4"/><circle cx="115.2" cy="260.3" r="1.4" fill="#a8bee4"/><circle cx="117.8" cy="262.2" r="1.4" fill="#a8bee4"/><circle cx="121.1" cy="264.0" r="1.4" fill="#a8bee4"/><circle cx="116.7" cy="265.9" r="1.4" fill="#a8bee4"/><circle cx="115.1" cy="267.8" r="1.4" fill="#a8bee4"/><circle cx="113.9" cy="269.6" r="1.4" fill="#a8bee4"/><circle cx="112.2" cy="271.5" r="1.4" fill="#a8bee4"/><circle cx="110.3" cy="273.4" r="1.4" fill="#a8bee4"/><circle cx="107.7" cy="275.2" r="1.4" fill="#a8bee4"/><circle cx="107.2" cy="277.1" r="1.4" fill="#a8bee4"/><circle cx="104.0" cy="279.0" r="1.4" fill="#a8bee4"/><circle cx="103.1" cy="280.9" r="1.4" fill="#a8bee4"/><circle cx="101.4" cy="282.7" r="1.4" fill="#a8bee4"/><circle cx="100.8" cy="284.6" r="1.4" fill="#a8bee4"/><circle cx="98.8" cy="286.5" r="1.4" fill="#a8bee4"/><circle cx="96.8" cy="288.3" r="1.4" fill="#a8bee4"/><circle cx="96.0" cy="290.2" r="1.4" fill="#a8bee4"/><circle cx="93.8" cy="292.1" r="1.4" fill="#a8bee4"/><circle cx="93.0" cy="293.9" r="1.4" fill="#a8bee4"/><circle cx="90.7" cy="295.8" r="1.4" fill="#a8bee4"/><circle cx="89.4" cy="297.7" r="1.4" fill="#a8bee4"/><circle cx="87.0" cy="299.6" r="1.4" fill="#a8bee4"/><circle cx="86.6" cy="301.4" r="1.4" fill="#a8bee4"/><circle cx="84.5" cy="303.3" r="1.4" fill="#a8bee4"/></g><g><path d="M253.8 66.0 L248.7 68.4 L245.2 70.8 L243.8 73.2 L243.1 75.6 L243.4 78.0 L241.3 80.4 L239.9 82.8 L241.4 85.2 L242.6 87.6 L242.2 90.0 L243.1 92.4 L245.4 94.8 L245.2 97.2 L245.1 99.6 L244.2 102.0 L243.0 104.4 L241.6 106.8 L239.1 109.2 L237.5 111.6 L233.9 114.0 L231.6 116.4 L230.9 118.8 L230.5 121.2 L232.6 123.6 L234.3 126.0 L234.5 128.4 L233.1 130.8 L231.3 133.2 L229.9 135.6 L228.3 138.0 L228.6 140.4 L227.7 142.8 L226.7 145.2 L223.3 147.6 L221.7 150.0 L220.5 152.4 L220.9 154.8 L221.8 157.2 L222.8 159.6 L224.0 162.0 L225.5 164.4 L225.9 166.8 L225.3 169.2 L224.8 171.6 L224.6 174.0 L222.3 176.4 L220.0 178.8 L218.8 181.2 L216.8 183.6 L215.8 186.0 L214.1 188.4 L214.4 190.8 L213.8 193.2 L213.1 195.6 L211.0 198.0 L210.4 200.4 L206.8 202.8 L203.8 205.2 L200.8 207.6 L194.3 210.0 L193.5 212.4 L190.6 214.8 L189.9 217.2 L188.3 219.6 L187.1 222.0 L185.1 224.4 L183.5 226.8 L182.5 229.2 L180.4 231.6 L178.3 234.0 L175.1 236.4 L172.7 238.8 L170.6 241.2 L168.7 243.6 L168.9 246.0 L168.2 248.4 L168.8 250.8 L166.2 253.2 L156.9 255.6 L154.1 258.0 L158.9 260.4 L162.2 262.8 L162.1 265.2 L152.5 267.6 L146.3 270.0 L140.4 272.4 L132.9 274.8 L129.2 277.2 L124.5 279.6 L121.3 282.0 L118.7 284.4 L115.3 286.8 L111.5 289.2 L108.3 291.6 L105.4 294.0 L102.4 296.4 L98.2 298.8 L95.4 301.2 L92.2 303.6 L90.6 306.0" fill="none" stroke="#e8b8b8" stroke-width="1.2" stroke-linejoin="round" stroke-dasharray="1.2 2"/><rect x="251.8" y="64.0" width="4.0" height="4.0" fill="#e6b4b4"/><rect x="246.7" y="66.4" width="4.0" height="4.0" fill="#e6b4b4"/><rect x="243.2" y="68.8" width="4.0" height="4.0" fill="#e6b4b4"/><rect x="241.8" y="71.2" width="4.0" height="4.0" fill="#e6b4b4"/><rect x="241.1" y="73.6" width="4.0" height="4.0" fill="#e6b4b4"/><rect x="241.4" y="76.0" width="4.0" height="4.0" fill="#e6b4b4"/><rect x="239.3" y="78.4" width="4.0" height="4.0" fill="#e6b4b4"/><rect x="237.9" y="80.8" width="4.0" height="4.0" fill="#e6b4b4"/><rect x="239.4" y="83.2" width="4.0" height="4.0" fill="#e6b4b4"/><rect x="240.6" y="85.6" width="4.0" height="4.0" fill="#e6b4b4"/><rect x="240.2" y="88.0" width="4.0" height="4.0" fill="#e6b4b4"/><rect x="241.1" y="90.4" width="4.0" height="4.0" fill="#e6b4b4"/><rect x="243.4" y="92.8" width="4.0" height="4.0" fill="#e6b4b4"/><rect x="243.2" y="95.2" width="4.0" height="4.0" fill="#e6b4b4"/><rect x="243.1" y="97.6" width="4.0" height="4.0" fill="#e6b4b4"/><rect x="242.2" y="100.0" width="4.0" height="4.0" fill="#e6b4b4"/><rect x="241.0" y="102.4" width="4.0" height="4.0" fill="#e6b4b4"/><rect x="239.6" y="104.8" width="4.0" height="4.0" fill="#e6b4b4"/><rect x="237.1" y="107.2" width="4.0" height="4.0" fill="#e6b4b4"/><rect x="235.5" y="109.6" width="4.0" height="4.0" fill="#e6b4b4"/><rect x="231.9" y="112.0" width="4.0" height="4.0" fill="#e6b4b4"/><rect x="229.6" y="114.4" width="4.0" height="4.0" fill="#e6b4b4"/><rect x="228.9" y="116.8" width="4.0" height="4.0" fill="#e6b4b4"/><rect x="228.5" y="119.2" width="4.0" height="4.0" fill="#e6b4b4"/><rect x="230.6" y="121.6" width="4.0" height="4.0" fill="#e6b4b4"/><rect x="232.3" y="124.0" width="4.0" height="4.0" fill="#e6b4b4"/><rect x="232.5" y="126.4" width="4.0" height="4.0" fill="#e6b4b4"/><rect x="231.1" y="128.8" width="4.0" height="4.0" fill="#e6b4b4"/><rect x="229.3" y="131.2" width="4.0" height="4.0" fill="#e6b4b4"/><rect x="227.9" y="133.6" width="4.0" height="4.0" fill="#e6b4b4"/><rect x="226.3" y="136.0" width="4.0" height="4.0" fill="#e6b4b4"/><rect x="226.6" y="138.4" width="4.0" height="4.0" fill="#e6b4b4"/><rect x="225.7" y="140.8" width="4.0" height="4.0" fill="#e6b4b4"/><rect x="224.7" y="143.2" width="4.0" height="4.0" fill="#e6b4b4"/><rect x="221.3" y="145.6" width="4.0" height="4.0" fill="#e6b4b4"/><rect x="219.7" y="148.0" width="4.0" height="4.0" fill="#e6b4b4"/><rect x="218.5" y="150.4" width="4.0" height="4.0" fill="#e6b4b4"/><rect x="218.9" y="152.8" width="4.0" height="4.0" fill="#e6b4b4"/><rect x="219.8" y="155.2" width="4.0" height="4.0" fill="#e6b4b4"/><rect x="220.8" y="157.6" width="4.0" height="4.0" fill="#e6b4b4"/><rect x="222.0" y="160.0" width="4.0" height="4.0" fill="#e6b4b4"/><rect x="223.5" y="162.4" width="4.0" height="4.0" fill="#e6b4b4"/><rect x="223.9" y="164.8" width="4.0" height="4.0" fill="#e6b4b4"/><rect x="223.3" y="167.2" width="4.0" height="4.0" fill="#e6b4b4"/><rect x="222.8" y="169.6" width="4.0" height="4.0" fill="#e6b4b4"/><rect x="222.6" y="172.0" width="4.0" height="4.0" fill="#e6b4b4"/><rect x="220.3" y="174.4" width="4.0" height="4.0" fill="#e6b4b4"/><rect x="218.0" y="176.8" width="4.0" height="4.0" fill="#e6b4b4"/><rect x="216.8" y="179.2" width="4.0" height="4.0" fill="#e6b4b4"/><rect x="214.8" y="181.6" width="4.0" height="4.0" fill="#e6b4b4"/><rect x="213.8" y="184.0" width="4.0" height="4.0" fill="#e6b4b4"/><rect x="212.1" y="186.4" width="4.0" height="4.0" fill="#e6b4b4"/><rect x="212.4" y="188.8" width="4.0" height="4.0" fill="#e6b4b4"/><rect x="211.8" y="191.2" width="4.0" height="4.0" fill="#e6b4b4"/><rect x="211.1" y="193.6" width="4.0" height="4.0" fill="#e6b4b4"/><rect x="209.0" y="196.0" width="4.0" height="4.0" fill="#e6b4b4"/><rect x="208.4" y="198.4" width="4.0" height="4.0" fill="#e6b4b4"/><rect x="204.8" y="200.8" width="4.0" height="4.0" fill="#e6b4b4"/><rect x="201.8" y="203.2" width="4.0" height="4.0" fill="#e6b4b4"/><rect x="198.8" y="205.6" width="4.0" height="4.0" fill="#e6b4b4"/><rect x="192.3" y="208.0" width="4.0" height="4.0" fill="#e6b4b4"/><rect x="191.5" y="210.4" width="4.0" height="4.0" fill="#e6b4b4"/><rect x="188.6" y="212.8" width="4.0" height="4.0" fill="#e6b4b4"/><rect x="187.9" y="215.2" width="4.0" height="4.0" fill="#e6b4b4"/><rect x="186.3" y="217.6" width="4.0" height="4.0" fill="#e6b4b4"/><rect x="185.1" y="220.0" width="4.0" height="4.0" fill="#e6b4b4"/><rect x="183.1" y="222.4" width="4.0" height="4.0" fill="#e6b4b4"/><rect x="181.5" y="224.8" width="4.0" height="4.0" fill="#e6b4b4"/><rect x="180.5" y="227.2" width="4.0" height="4.0" fill="#e6b4b4"/><rect x="178.4" y="229.6" width="4.0" height="4.0" fill="#e6b4b4"/><rect x="176.3" y="232.0" width="4.0" height="4.0" fill="#e6b4b4"/><rect x="173.1" y="234.4" width="4.0" height="4.0" fill="#e6b4b4"/><rect x="170.7" y="236.8" width="4.0" height="4.0" fill="#e6b4b4"/><rect x="168.6" y="239.2" width="4.0" height="4.0" fill="#e6b4b4"/><rect x="166.7" y="241.6" width="4.0" height="4.0" fill="#e6b4b4"/><rect x="166.9" y="244.0" width="4.0" height="4.0" fill="#e6b4b4"/><rect x="166.2" y="246.4" width="4.0" height="4.0" fill="#e6b4b4"/><rect x="166.8" y="248.8" width="4.0" height="4.0" fill="#e6b4b4"/><rect x="164.2" y="251.2" width="4.0" height="4.0" fill="#e6b4b4"/><rect x="154.9" y="253.6" width="4.0" height="4.0" fill="#e6b4b4"/><rect x="152.1" y="256.0" width="4.0" height="4.0" fill="#e6b4b4"/><rect x="156.9" y="258.4" width="4.0" height="4.0" fill="#e6b4b4"/><rect x="160.2" y="260.8" width="4.0" height="4.0" fill="#e6b4b4"/><rect x="160.1" y="263.2" width="4.0" height="4.0" fill="#e6b4b4"/><rect x="150.5" y="265.6" width="4.0" height="4.0" fill="#e6b4b4"/><rect x="144.3" y="268.0" width="4.0" height="4.0" fill="#e6b4b4"/><rect x="138.4" y="270.4" width="4.0" height="4.0" fill="#e6b4b4"/><rect x="130.9" y="272.8" width="4.0" height="4.0" fill="#e6b4b4"/><rect x="127.2" y="275.2" width="4.0" height="4.0" fill="#e6b4b4"/><rect x="122.5" y="277.6" width="4.0" height="4.0" fill="#e6b4b4"/><rect x="119.3" y="280.0" width="4.0" height="4.0" fill="#e6b4b4"/><rect x="116.7" y="282.4" width="4.0" height="4.0" fill="#e6b4b4"/><rect x="113.3" y="284.8" width="4.0" height="4.0" fill="#e6b4b4"/><rect x="109.5" y="287.2" width="4.0" height="4.0" fill="#e6b4b4"/><rect x="106.3" y="289.6" width="4.0" height="4.0" fill="#e6b4b4"/><rect x="103.4" y="292.0" width="4.0" height="4.0" fill="#e6b4b4"/><rect x="100.4" y="294.4" width="4.0" height="4.0" fill="#e6b4b4"/><rect x="96.2" y="296.8" width="4.0" height="4.0" fill="#e6b4b4"/><rect x="93.4" y="299.2" width="4.0" height="4.0" fill="#e6b4b4"/><rect x="90.2" y="301.6" width="4.0" height="4.0" fill="#e6b4b4"/><rect x="88.6" y="304.0" width="4.0" height="4.0" fill="#e6b4b4"/></g><g><path d="M295.9 66.0 L290.7 68.4 L286.1 70.8 L284.4 73.2 L283.6 75.6 L282.0 78.0 L279.8 80.4 L279.2 82.8 L278.6 85.2 L279.5 87.6 L280.5 90.0 L281.4 92.4 L282.5 94.8 L282.6 97.2 L281.3 99.6 L280.1 102.0 L278.6 104.4 L275.8 106.8 L274.3 109.2 L271.4 111.6 L268.0 114.0 L266.4 116.4 L264.8 118.8 L264.5 121.2 L265.6 123.6 L267.4 126.0 L265.2 128.4 L264.0 130.8 L261.6 133.2 L260.8 135.6 L258.7 138.0 L257.5 140.4 L257.4 142.8 L255.5 145.2 L252.0 147.6 L249.7 150.0 L249.5 152.4 L248.4 154.8 L249.3 157.2 L250.5 159.6 L250.6 162.0 L251.8 164.4 L252.4 166.8 L250.8 169.2 L249.6 171.6 L248.2 174.0 L246.0 176.4 L244.5 178.8 L243.2 181.2 L240.2 183.6 L238.0 186.0 L236.5 188.4 L235.0 190.8 L234.5 193.2 L233.2 195.6 L230.9 198.0 L229.8 200.4 L228.0 202.8 L224.9 205.2 L219.0 207.6 L215.2 210.0 L213.4 212.4 L210.3 214.8 L207.5 217.2 L204.3 219.6 L202.6 222.0 L201.7 224.4 L199.6 226.8 L198.4 229.2 L195.4 231.6 L193.3 234.0 L191.1 236.4 L187.2 238.8 L185.1 241.2 L181.9 243.6 L179.2 246.0 L178.2 248.4 L177.3 250.8 L177.1 253.2 L171.1 255.6 L165.4 258.0 L169.0 260.4 L171.7 262.8 L167.9 265.2 L160.9 267.6 L152.8 270.0 L147.2 272.4 L141.4 274.8 L135.0 277.2 L131.3 279.6 L127.2 282.0 L124.8 284.4 L121.5 286.8 L118.0 289.2 L113.1 291.6 L110.6 294.0 L106.9 296.4 L102.2 298.8 L98.8 301.2 L95.6 303.6 L91.9 306.0" fill="none" stroke="#cadeb0" stroke-width="1.2" stroke-linejoin="round"/><path d="M295.9 63.9L298.0 67.7L293.8 67.7Z" fill="#c4daa8"/><path d="M290.7 66.3L292.8 70.1L288.6 70.1Z" fill="#c4daa8"/><path d="M286.1 68.7L288.2 72.5L284.0 72.5Z" fill="#c4daa8"/><path d="M284.4 71.1L286.5 74.9L282.3 74.9Z" fill="#c4daa8"/><path d="M283.6 73.5L285.7 77.3L281.5 77.3Z" fill="#c4daa8"/><path d="M282.0 75.9L284.1 79.7L279.9 79.7Z" fill="#c4daa8"/><path d="M279.8 78.3L281.9 82.1L277.7 82.1Z" fill="#c4daa8"/><path d="M279.2 80.7L281.3 84.5L277.1 84.5Z" fill="#c4daa8"/><path d="M278.6 83.1L280.7 86.9L276.5 86.9Z" fill="#c4daa8"/><path d="M279.5 85.5L281.6 89.3L277.4 89.3Z" fill="#c4daa8"/><path d="M280.5 87.9L282.6 91.7L278.4 91.7Z" fill="#c4daa8"/><path d="M281.4 90.3L283.5 94.1L279.3 94.1Z" fill="#c4daa8"/><path d="M282.5 92.7L284.6 96.5L280.4 96.5Z" fill="#c4daa8"/><path d="M282.6 95.1L284.7 98.9L280.5 98.9Z" fill="#c4daa8"/><path d="M281.3 97.5L283.4 101.3L279.2 101.3Z" fill="#c4daa8"/><path d="M280.1 99.9L282.2 103.7L278.0 103.7Z" fill="#c4daa8"/><path d="M278.6 102.3L280.7 106.1L276.5 106.1Z" fill="#c4daa8"/><path d="M275.8 104.7L277.9 108.5L273.7 108.5Z" fill="#c4daa8"/><path d="M274.3 107.1L276.4 110.9L272.2 110.9Z" fill="#c4daa8"/><path d="M271.4 109.5L273.5 113.3L269.3 113.3Z" fill="#c4daa8"/><path d="M268.0 111.9L270.1 115.7L265.9 115.7Z" fill="#c4daa8"/><path d="M266.4 114.3L268.5 118.1L264.3 118.1Z" fill="#c4daa8"/><path d="M264.8 116.7L266.9 120.5L262.7 120.5Z" fill="#c4daa8"/><path d="M264.5 119.1L266.6 122.9L262.4 122.9Z" fill="#c4daa8"/><path d="M265.6 121.5L267.7 125.3L263.5 125.3Z" fill="#c4daa8"/><path d="M267.4 123.9L269.5 127.7L265.3 127.7Z" fill="#c4daa8"/><path d="M265.2 126.3L267.3 130.1L263.1 130.1Z" fill="#c4daa8"/><path d="M264.0 128.7L266.1 132.5L261.9 132.5Z" fill="#c4daa8"/><path d="M261.6 131.1L263.7 134.9L259.5 134.9Z" fill="#c4daa8"/><path d="M260.8 133.5L262.9 137.3L258.7 137.3Z" fill="#c4daa8"/><path d="M258.7 135.9L260.8 139.7L256.6 139.7Z" fill="#c4daa8"/><path d="M257.5 138.3L259.6 142.1L255.4 142.1Z" fill="#c4daa8"/><path d="M257.4 140.7L259.5 144.5L255.3 144.5Z" fill="#c4daa8"/><path d="M255.5 143.1L257.6 146.9L253.4 146.9Z" fill="#c4daa8"/><path d="M252.0 145.5L254.1 149.3L249.9 149.3Z" fill="#c4daa8"/><path d="M249.7 147.9L251.8 151.7L247.6 151.7Z" fill="#c4daa8"/><path d="M249.5 150.3L251.6 154.1L247.4 154.1Z" fill="#c4daa8"/><path d="M248.4 152.7L250.5 156.5L246.3 156.5Z" fill="#c4daa8"/><path d="M249.3 155.1L251.4 158.9L247.2 158.9Z" fill="#c4daa8"/><path d="M250.5 157.5L252.6 161.3L248.4 161.3Z" fill="#c4daa8"/><path d="M250.6 159.9L252.7 163.7L248.5 163.7Z" fill="#c4daa8"/><path d="M251.8 162.3L253.9 166.1L249.7 166.1Z" fill="#c4daa8"/><path d="M252.4 164.7L254.5 168.5L250.3 168.5Z" fill="#c4daa8"/><path d="M250.8 167.1L252.9 170.9L248.7 170.9Z" fill="#c4daa8"/><path d="M249.6 169.5L251.7 173.3L247.5 173.3Z" fill="#c4daa8"/><path d="M248.2 171.9L250.3 175.7L246.1 175.7Z" fill="#c4daa8"/><path d="M246.0 174.3L248.1 178.1L243.9 178.1Z" fill="#c4daa8"/><path d="M244.5 176.7L246.6 180.5L242.4 180.5Z" fill="#c4daa8"/><path d="M243.2 179.1L245.3 182.9L241.1 182.9Z" fill="#c4daa8"/><path d="M240.2 181.5L242.3 185.3L238.1 185.3Z" fill="#c4daa8"/><path d="M238.0 183.9L240.1 187.7L235.9 187.7Z" fill="#c4daa8"/><path d="M236.5 186.3L238.6 190.1L234.4 190.1Z" fill="#c4daa8"/><path d="M235.0 188.7L237.1 192.5L232.9 192.5Z" fill="#c4daa8"/><path d="M234.5 191.1L236.6 194.9L232.4 194.9Z" fill="#c4daa8"/><path d="M233.2 193.5L235.3 197.3L231.1 197.3Z" fill="#c4daa8"/><path d="M230.9 195.9L233.0 199.7L228.8 199.7Z" fill="#c4daa8"/><path d="M229.8 198.3L231.9 202.1L227.7 202.1Z" fill="#c4daa8"/><path d="M228.0 200.7L230.1 204.5L225.9 204.5Z" fill="#c4daa8"/><path d="M224.9 203.1L227.0 206.9L222.8 206.9Z" fill="#c4daa8"/><path d="M219.0 205.5L221.1 209.3L216.9 209.3Z" fill="#c4daa8"/><path d="M215.2 207.9L217.3 211.7L213.1 211.7Z" fill="#c4daa8"/><path d="M213.4 210.3L215.5 214.1L211.3 214.1Z" fill="#c4daa8"/><path d="M210.3 212.7L212.4 216.5L208.2 216.5Z" fill="#c4daa8"/><path d="M207.5 215.1L209.6 218.9L205.4 218.9Z" fill="#c4daa8"/><path d="M204.3 217.5L206.4 221.3L202.2 221.3Z" fill="#c4daa8"/><path d="M202.6 219.9L204.7 223.7L200.5 223.7Z" fill="#c4daa8"/><path d="M201.7 222.3L203.8 226.1L199.6 226.1Z" fill="#c4daa8"/><path d="M199.6 224.7L201.7 228.5L197.5 228.5Z" fill="#c4daa8"/><path d="M198.4 227.1L200.5 230.9L196.3 230.9Z" fill="#c4daa8"/><path d="M195.4 229.5L197.5 233.3L193.3 233.3Z" fill="#c4daa8"/><path d="M193.3 231.9L195.4 235.7L191.2 235.7Z" fill="#c4daa8"/><path d="M191.1 234.3L193.2 238.1L189.0 238.1Z" fill="#c4daa8"/><path d="M187.2 236.7L189.3 240.5L185.1 240.5Z" fill="#c4daa8"/><path d="M185.1 239.1L187.2 242.9L183.0 242.9Z" fill="#c4daa8"/><path d="M181.9 241.5L184.0 245.3L179.8 245.3Z" fill="#c4daa8"/><path d="M179.2 243.9L181.3 247.7L177.1 247.7Z" fill="#c4daa8"/><path d="M178.2 246.3L180.3 250.1L176.1 250.1Z" fill="#c4daa8"/><path d="M177.3 248.7L179.4 252.5L175.2 252.5Z" fill="#c4daa8"/><path d="M177.1 251.1L179.2 254.9L175.0 254.9Z" fill="#c4daa8"/><path d="M171.1 253.5L173.2 257.3L169.0 257.3Z" fill="#c4daa8"/><path d="M165.4 255.9L167.5 259.7L163.3 259.7Z" fill="#c4daa8"/><path d="M169.0 258.3L171.1 262.1L166.9 262.1Z" fill="#c4daa8"/><path d="M171.7 260.7L173.8 264.5L169.6 264.5Z" fill="#c4daa8"/><path d="M167.9 263.1L170.0 266.9L165.8 266.9Z" fill="#c4daa8"/><path d="M160.9 265.5L163.0 269.3L158.8 269.3Z" fill="#c4daa8"/><path d="M152.8 267.9L154.9 271.7L150.7 271.7Z" fill="#c4daa8"/><path d="M147.2 270.3L149.3 274.1L145.1 274.1Z" fill="#c4daa8"/><path d="M141.4 272.7L143.5 276.5L139.3 276.5Z" fill="#c4daa8"/><path d="M135.0 275.1L137.1 278.9L132.9 278.9Z" fill="#c4daa8"/><path d="M131.3 277.5L133.4 281.3L129.2 281.3Z" fill="#c4daa8"/><path d="M127.2 279.9L129.3 283.7L125.1 283.7Z" fill="#c4daa8"/><path d="M124.8 282.3L126.9 286.1L122.7 286.1Z" fill="#c4daa8"/><path d="M121.5 284.7L123.6 288.5L119.4 288.5Z" fill="#c4daa8"/><path d="M118.0 287.1L120.1 290.9L115.9 290.9Z" fill="#c4daa8"/><path d="M113.1 289.5L115.2 293.3L111.0 293.3Z" fill="#c4daa8"/><path d="M110.6 291.9L112.7 295.7L108.5 295.7Z" fill="#c4daa8"/><path d="M106.9 294.3L109.0 298.1L104.8 298.1Z" fill="#c4daa8"/><path d="M102.2 296.7L104.3 300.5L100.1 300.5Z" fill="#c4daa8"/><path d="M98.8 299.1L100.9 302.9L96.7 302.9Z" fill="#c4daa8"/><path d="M95.6 301.5L97.7 305.3L93.5 305.3Z" fill="#c4daa8"/><path d="M91.9 303.9L94.0 307.7L89.8 307.7Z" fill="#c4daa8"/></g></g>
<g font-size="13" fill="#222"><text transform="translate(83.5 51.8) scale(1 1.14)" text-anchor="middle">0</text><text transform="translate(132.1 51.8) scale(1 1.14)" text-anchor="middle">20</text><text transform="translate(180.7 51.8) scale(1 1.14)" text-anchor="middle">40</text><text transform="translate(229.3 51.8) scale(1 1.14)" text-anchor="middle">60</text><text transform="translate(277.9 51.8) scale(1 1.14)" text-anchor="middle">80</text><text transform="translate(326.5 51.8) scale(1 1.14)" text-anchor="middle">100</text><text transform="translate(375.1 51.8) scale(1 1.14)" text-anchor="middle">120</text><text transform="translate(423.7 51.8) scale(1 1.14)" text-anchor="middle">140</text><text transform="translate(472.3 51.8) scale(1 1.14)" text-anchor="middle">160</text><text transform="translate(520.9 51.8) scale(1 1.14)" text-anchor="middle">180</text><text transform="translate(569.5 51.8) scale(1 1.14)" text-anchor="middle">200</text><text transform="translate(74.3 66.9) scale(1 1.14)" text-anchor="end">0</text><text transform="translate(74.3 104.3) scale(1 1.14)" text-anchor="end">10</text><text transform="translate(74.3 141.8) scale(1 1.14)" text-anchor="end">20</text><text transform="translate(74.3 179.2) scale(1 1.14)" text-anchor="end">30</text><text transform="translate(74.3 216.6) scale(1 1.14)" text-anchor="end">40</text><text transform="translate(74.3 254.1) scale(1 1.14)" text-anchor="end">50</text><text transform="translate(74.3 291.5) scale(1 1.14)" text-anchor="end">60</text><text transform="translate(74.3 328.9) scale(1 1.14)" text-anchor="end">70</text></g>
<text x="326.3" y="30.8" text-anchor="middle" font-size="14.2" fill="#222">Deformation (mm)</text>
<text transform="translate(31.8 193.4) rotate(-90)" text-anchor="middle" font-size="14.4" fill="#222">Depth (m)</text>
<line x1="83" y1="350.8" x2="107" y2="350.8" stroke="#92aed0" stroke-width="1.7"/><path d="M95.0 348.8L97.0 350.8L95.0 352.8L93.0 350.8Z" fill="#2a5a9c"/><text x="115.5" y="354.7" font-size="13.6" fill="#222">2015/7/30</text><line x1="279" y1="350.8" x2="302.5" y2="350.8" stroke="#ce8f91" stroke-width="1.7" stroke-dasharray="1.6 2.9"/><circle cx="290.8" cy="350.8" r="2.1" fill="#9e2a2c"/><text x="311.5" y="354.7" font-size="13.6" fill="#222">2015/8/6</text><line x1="474.5" y1="350.8" x2="498" y2="350.8" stroke="#b5cd99" stroke-width="1.7"/><path d="M486.2 348.5L488.6 352.6L483.9 352.6Z" fill="#6a9636"/><text x="507" y="354.7" font-size="13.6" fill="#222">2015/8/13</text><line x1="83" y1="368.8" x2="107" y2="368.8" stroke="#ab9bc9" stroke-width="1.7" stroke-dasharray="1.6 2.9"/><path d="M93.2 367.0L96.8 370.6M96.8 367.0L93.2 370.6" stroke="#5a3c90" stroke-width="1.1" fill="none"/><text x="115.5" y="372.7" font-size="13.6" fill="#222">2015/9/7</text><line x1="279" y1="368.8" x2="302.5" y2="368.8" stroke="#98b9d3" stroke-width="1.7"/><rect x="289.1" y="367.2" width="3.2" height="3.2" fill="#2b6896"/><text x="311.5" y="372.7" font-size="13.6" fill="#222">2015/9/16</text><line x1="474.5" y1="368.8" x2="498" y2="368.8" stroke="#eeb988" stroke-width="1.7" stroke-dasharray="1.6 2.9"/><circle cx="486.2" cy="368.8" r="2.1" fill="#d46e16"/><text x="507" y="372.7" font-size="13.6" fill="#222">2015/9/23</text><line x1="83" y1="386.9" x2="107" y2="386.9" stroke="#a0bce2" stroke-width="1.7"/><path d="M93.5 386.9H96.5M95.0 385.4V388.4" stroke="#4478c0" stroke-width="1.1" fill="none"/><text x="115.5" y="390.8" font-size="13.6" fill="#222">2015/10/1</text><line x1="279" y1="386.9" x2="302.5" y2="386.9" stroke="#e4aea5" stroke-width="1.7"/><circle cx="290.8" cy="386.9" r="1.3" fill="#c04a40"/><text x="311.5" y="390.8" font-size="13.6" fill="#222">2015/10/12</text><line x1="474.5" y1="386.9" x2="498" y2="386.9" stroke="#c4ddaa" stroke-width="1.7"/><rect x="484.8" y="386.2" width="3.0" height="1.4" fill="#8cbc5a"/><text x="507" y="390.8" font-size="13.6" fill="#222">2015/10/16</text><line x1="83" y1="404.9" x2="107" y2="404.9" stroke="#b3a2d1" stroke-width="1.7"/><circle cx="95.0" cy="404.9" r="1.7" fill="#5e4296"/><text x="115.5" y="408.8" font-size="13.6" fill="#222">2015/11/15</text><line x1="279" y1="404.9" x2="302.5" y2="404.9" stroke="#95cee1" stroke-width="1.7"/><rect x="288.9" y="403.0" width="3.8" height="3.8" fill="#2a8ab0"/><text x="311.5" y="408.8" font-size="13.6" fill="#222">2015/11/25</text><line x1="474.5" y1="404.9" x2="498" y2="404.9" stroke="#f8caa0" stroke-width="1.7"/><path d="M486.2 402.7L488.4 406.6L484.1 406.6Z" fill="#e07818"/><text x="507" y="408.8" font-size="13.6" fill="#222">2015/12/5</text><line x1="83" y1="422.9" x2="107" y2="422.9" stroke="#c6d8ef" stroke-width="1.7"/><path d="M93.3 421.2L96.7 424.6M96.7 421.2L93.3 424.6" stroke="#6f98d4" stroke-width="1.1" fill="none"/><text x="115.5" y="426.8" font-size="13.6" fill="#222">2015/12/13</text><line x1="279" y1="422.9" x2="302.5" y2="422.9" stroke="#ecbab9" stroke-width="1.7"/><rect x="289.1" y="421.2" width="3.4" height="3.4" fill="#d86e6c"/><text x="311.5" y="426.8" font-size="13.6" fill="#222">2015/12/17</text><line x1="474.5" y1="422.9" x2="498" y2="422.9" stroke="#cde2b2" stroke-width="1.7"/><circle cx="486.2" cy="422.9" r="2.0" fill="#98c264"/><text x="507" y="426.8" font-size="13.6" fill="#222">2016/1/2</text><line x1="83" y1="441.0" x2="107" y2="441.0" stroke="#d3cce7" stroke-width="1.7"/><rect x="93.7" y="440.3" width="2.6" height="1.4" fill="#9888c4"/><text x="115.5" y="444.9" font-size="13.6" fill="#222">2016/4/20</text><line x1="279" y1="441.0" x2="302.5" y2="441.0" stroke="#d1e7f4" stroke-width="1.7"/><rect x="289.4" y="440.3" width="2.6" height="1.4" fill="#92c4e0"/><text x="311.5" y="444.9" font-size="13.6" fill="#222">2016/5/10</text><line x1="474.5" y1="441.0" x2="498" y2="441.0" stroke="#f9dac3" stroke-width="1.7"/><rect x="484.8" y="440.3" width="3.0" height="1.4" fill="#f0a878"/><text x="507" y="444.9" font-size="13.6" fill="#222">2016/5/20</text><line x1="83" y1="459.0" x2="107" y2="459.0" stroke="#dae3f4" stroke-width="1.7"/><circle cx="95.0" cy="459.0" r="1.5" fill="#a8bee4"/><text x="115.5" y="462.9" font-size="13.6" fill="#222">2016/6/8</text><line x1="279" y1="459.0" x2="302.5" y2="459.0" stroke="#f3dada" stroke-width="1.7" stroke-dasharray="1.6 2.9"/><circle cx="290.8" cy="459.0" r="2.5" fill="#e6b4b4"/><text x="311.5" y="462.9" font-size="13.6" fill="#222">2016/6/27</text><line x1="474.5" y1="459.0" x2="498" y2="459.0" stroke="#e3edd5" stroke-width="1.7"/><path d="M486.2 456.8L488.4 460.7L484.1 460.7Z" fill="#c4daa8"/><text x="507" y="462.9" font-size="13.6" fill="#222">2016/7/9</text>
</svg>
</body></html>
